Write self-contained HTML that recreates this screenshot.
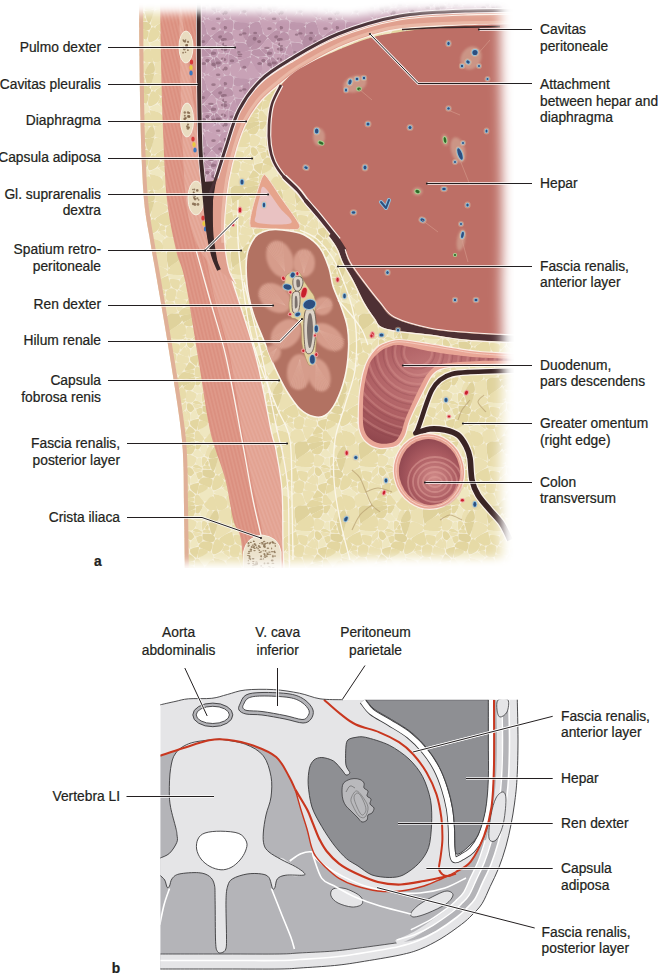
<!DOCTYPE html>
<html><head><meta charset="utf-8"><style>
html,body{margin:0;padding:0;background:#fff;}
body{width:660px;height:974px;overflow:hidden;}
svg{display:block;}
text{font-family:"Liberation Sans",sans-serif;}
</style></head><body>
<svg width="660" height="974" viewBox="0 0 660 974">
<defs><pattern id="fatp" width="64" height="64" patternUnits="userSpaceOnUse"><rect width="64" height="64" fill="#f5efd8"/><path d="M2.1,-3.0 C4.3,-4.6 2.9,-5.2 2.8,-5.9 C2.8,-6.6 4.7,-6.8 2.0,-6.4 C-0.7,-6.0 -8.4,-5.5 -10.6,-3.9 C-12.9,-2.3 -9.6,0.4 -9.1,1.6 C-8.7,2.8 -10.6,3.2 -8.3,2.3 C-6.1,1.3 -0.2,-1.4 2.1,-3.0Z" fill="#dfd29c"/><path d="M2.4,-2.4 C0.3,-2.1 -6.6,1.2 -8.1,2.9 C-9.5,4.6 -6.5,5.5 -4.9,6.0 C-3.3,6.6 -1.7,6.6 -0.2,5.8 C1.2,4.9 1.9,3.5 2.4,1.8 C2.9,0.2 4.5,-2.6 2.4,-2.4Z" fill="#e3d6a0"/><path d="M-3.1,36.1 C-3.8,34.3 -5.6,29.1 -6.0,27.2 C-6.4,25.2 -6.1,25.9 -5.3,26.4 C-4.5,26.9 -2.7,27.9 -2.0,29.7 C-1.3,31.5 -1.6,34.0 -1.7,35.4 C-1.9,36.7 -2.4,36.2 -2.7,36.4 C-2.9,36.5 -2.5,38.0 -3.1,36.1Z" fill="#ebe0b2"/><path d="M2.8,58.1 C2.8,57.4 4.7,57.2 2.0,57.6 C-0.7,58.0 -8.4,58.5 -10.6,60.1 C-12.9,61.7 -9.6,64.4 -9.1,65.6 C-8.7,66.8 -10.6,67.2 -8.3,66.3 C-6.1,65.3 -0.2,62.6 2.1,61.0 C4.3,59.4 2.9,58.8 2.8,58.1Z" fill="#dfd29c"/><path d="M2.4,65.8 C1.9,67.5 1.2,68.9 -0.2,69.8 C-1.7,70.6 -3.3,70.6 -4.9,70.0 C-6.5,69.5 -9.5,68.6 -8.1,66.9 C-6.6,65.2 0.3,61.9 2.4,61.6 C4.5,61.4 2.9,64.2 2.4,65.8Z" fill="#e3d6a0"/><path d="M-7.9,52.0 C-5.1,51.7 -1.0,53.2 1.0,54.2 C2.9,55.2 4.2,55.9 1.8,56.9 C-0.6,58.0 -7.9,59.4 -10.9,59.3 C-13.8,59.3 -12.6,57.3 -13.0,56.6 C-13.4,55.9 -13.9,56.8 -12.9,55.9 C-11.8,55.0 -10.6,52.3 -7.9,52.0Z" fill="#e3d6a0"/><path d="M-4.7,25.2 C-5.3,23.6 -5.3,20.6 -4.5,19.6 C-3.6,18.7 -1.7,19.3 -0.4,20.4 C1.0,21.4 1.9,24.0 2.4,24.9 C3.0,25.9 3.1,24.5 2.4,25.1 C1.6,25.7 0.0,28.0 -1.4,28.0 C-2.8,28.1 -4.1,26.9 -4.7,25.2Z" fill="#e3d6a0"/><path d="M2.5,46.3 C1.7,45.0 -0.8,42.7 -2.2,42.4 C-3.6,42.0 -3.4,43.1 -4.4,44.7 C-5.4,46.3 -8.3,49.5 -7.1,50.3 C-6.0,51.1 -0.6,49.6 1.4,48.8 C3.3,48.0 3.2,47.6 2.5,46.3Z" fill="#e3d6a0"/><path d="M1.3,49.7 C2.9,50.2 2.7,53.3 1.1,53.6 C-0.6,53.9 -5.6,51.7 -7.2,51.2 C-8.8,50.6 -8.6,51.2 -7.0,50.9 C-5.3,50.6 -0.4,49.1 1.3,49.7Z" fill="#e6daa6"/><path d="M55.7,2.3 C53.4,3.2 55.3,2.8 54.9,1.6 C54.4,0.4 51.1,-2.3 53.4,-3.9 C55.6,-5.5 63.3,-6.0 66.0,-6.4 C68.7,-6.8 66.8,-6.6 66.8,-5.9 C66.9,-5.2 68.3,-4.6 66.1,-3.0 C63.8,-1.4 57.9,1.3 55.7,2.3Z" fill="#dfd29c"/><path d="M22.9,-17.7 C20.8,-18.0 21.4,-19.0 22.1,-15.8 C22.8,-12.7 23.7,-4.1 26.3,-2.1 C28.9,-0.0 34.0,-3.2 35.2,-5.7 C36.5,-8.1 35.2,-11.9 32.7,-14.3 C30.2,-16.7 25.0,-17.4 22.9,-17.7Z" fill="#e8dcaa"/><path d="M55.9,2.9 C57.4,1.2 64.3,-2.1 66.4,-2.4 C68.5,-2.6 66.9,0.2 66.4,1.8 C65.9,3.5 65.2,4.9 63.8,5.8 C62.3,6.6 60.7,6.6 59.1,6.0 C57.5,5.5 54.5,4.6 55.9,2.9Z" fill="#e3d6a0"/><path d="M12.5,-6.6 C11.8,-8.1 11.7,-7.7 13.4,-9.4 C15.2,-11.2 18.9,-17.1 21.3,-15.5 C23.7,-14.0 24.6,-4.5 25.4,-1.7 C26.2,1.1 26.2,-1.5 25.3,-1.5 C24.4,-1.6 22.6,-1.9 20.9,-2.1 C19.2,-2.2 18.4,-1.4 16.7,-2.4 C15.0,-3.3 13.1,-5.2 12.5,-6.6Z" fill="#e8dcaa"/><path d="M3.9,-2.9 C3.9,-4.2 2.7,-4.9 4.1,-5.5 C5.4,-6.2 10.0,-7.4 10.6,-6.2 C11.2,-4.9 8.6,-0.7 7.2,0.7 C5.9,2.1 4.4,1.6 3.7,0.8 C3.0,0.1 3.8,-1.6 3.9,-2.9Z" fill="#e3d6a0"/><path d="M28.7,39.0 C26.7,40.9 23.8,42.3 22.1,42.3 C20.3,42.3 20.2,41.1 20.1,39.0 C20.0,36.8 20.9,33.7 21.7,31.4 C22.5,29.2 23.0,28.4 24.0,27.6 C24.9,26.9 24.9,26.6 26.4,27.6 C28.0,28.7 31.4,30.5 31.9,32.8 C32.3,35.0 30.7,37.1 28.7,39.0Z" fill="#e6daa6"/><path d="M58.0,27.2 C58.4,29.1 60.2,34.3 60.9,36.1 C61.5,38.0 61.1,36.5 61.3,36.4 C61.6,36.2 62.1,36.7 62.3,35.4 C62.4,34.0 62.7,31.5 62.0,29.7 C61.3,27.9 59.5,26.9 58.7,26.4 C57.9,25.9 57.6,25.2 58.0,27.2Z" fill="#ebe0b2"/><path d="M31.1,39.2 C32.4,39.0 35.1,38.9 36.4,38.0 C37.6,37.2 37.8,35.9 37.2,34.9 C36.5,34.0 34.4,32.6 32.9,33.5 C31.5,34.3 30.4,38.1 30.0,39.2 C29.7,40.3 29.8,39.4 31.1,39.2Z" fill="#e8dcaa"/><path d="M6.8,34.3 C7.0,35.0 6.7,34.8 8.6,35.7 C10.4,36.7 14.1,38.3 16.2,39.0 C18.2,39.6 17.9,40.6 18.7,39.1 C19.5,37.5 21.6,33.1 20.2,31.2 C18.7,29.3 14.0,29.3 11.4,29.5 C8.9,29.8 8.4,31.5 7.4,32.4 C6.5,33.4 6.6,33.7 6.8,34.3Z" fill="#e3d6a0"/><path d="M37.6,46.4 C38.5,45.6 37.1,45.5 38.7,45.5 C40.3,45.6 43.4,44.5 45.6,46.5 C47.7,48.5 48.7,53.6 49.4,55.6 C50.2,57.5 51.5,55.6 49.3,56.3 C47.2,57.0 41.2,58.5 38.6,58.9 C36.1,59.3 37.4,60.0 36.5,58.1 C35.6,56.3 34.1,51.9 34.3,49.6 C34.5,47.2 36.7,47.2 37.6,46.4Z" fill="#ebe0b2"/><path d="M9.7,21.0 C8.0,20.7 2.4,20.0 1.3,19.1 C0.2,18.2 2.4,16.7 4.0,16.7 C5.5,16.7 7.9,18.2 9.1,19.1 C10.3,19.9 9.7,20.4 9.8,20.8 C9.9,21.2 11.4,21.3 9.7,21.0Z" fill="#e6daa6"/><path d="M11.8,53.9 C11.0,52.0 7.9,48.7 6.7,47.3 C5.4,45.9 5.9,47.0 5.3,46.9 C4.8,46.9 4.2,46.5 3.7,47.1 C3.2,47.7 3.0,48.6 2.8,49.9 C2.6,51.2 2.6,52.5 2.7,53.7 C2.8,55.0 3.0,55.7 3.2,56.3 C3.5,57.0 2.5,56.8 4.0,56.9 C5.5,57.0 9.3,56.7 10.7,56.7 C12.0,56.6 10.7,57.2 10.9,56.6 C11.1,56.1 12.7,55.7 11.8,53.9Z" fill="#e8dcaa"/><path d="M40.5,11.8 C40.1,8.7 37.2,-0.0 39.0,-3.7 C40.8,-7.3 47.2,-6.5 49.7,-6.4 C52.3,-6.4 51.1,-5.1 51.8,-3.4 C52.5,-1.7 55.4,-0.9 53.2,2.1 C51.1,5.1 43.6,9.6 41.1,11.6 C38.6,13.5 41.0,14.8 40.5,11.8Z" fill="#dfd29c"/><path d="M66.0,57.6 C63.3,58.0 55.6,58.5 53.4,60.1 C51.1,61.7 54.4,64.4 54.9,65.6 C55.3,66.8 53.4,67.2 55.7,66.3 C57.9,65.3 63.8,62.6 66.1,61.0 C68.3,59.4 66.9,58.8 66.8,58.1 C66.8,57.4 68.7,57.2 66.0,57.6Z" fill="#dfd29c"/><path d="M38.1,38.4 C38.2,40.2 37.4,42.7 38.9,44.0 C40.4,45.3 44.1,45.5 45.7,44.9 C47.4,44.4 46.8,43.4 47.3,41.4 C47.8,39.4 49.1,36.7 48.3,34.9 C47.5,33.1 45.3,32.3 43.3,32.3 C41.4,32.4 39.7,33.9 38.6,35.1 C37.6,36.3 38.0,36.6 38.1,38.4Z" fill="#e8dcaa"/><path d="M11.4,-5.8 C10.8,-4.4 8.2,-1.4 8.4,1.1 C8.5,3.5 10.9,7.1 12.2,6.6 C13.6,6.0 15.4,0.9 15.2,-1.6 C15.1,-4.1 12.4,-5.0 11.6,-5.9 C10.9,-6.7 12.1,-7.2 11.4,-5.8Z" fill="#efe7c0"/><path d="M39.5,11.9 C39.3,8.7 38.6,-0.3 37.8,-3.5 C37.0,-6.8 37.8,-4.9 35.6,-4.3 C33.5,-3.7 28.6,-1.4 26.9,-0.6 C25.1,0.2 26.7,-2.3 26.8,-0.5 C26.9,1.3 27.2,6.4 27.4,8.3 C27.5,10.1 25.4,7.8 27.7,8.7 C30.0,9.6 36.5,12.0 38.9,12.7 C41.3,13.3 39.7,15.1 39.5,11.9Z" fill="#ebe0b2"/><path d="M12.4,16.0 C11.5,17.1 10.8,19.0 10.4,17.9 C10.0,16.7 9.8,11.9 10.1,10.2 C10.5,8.4 11.4,9.0 12.3,9.1 C13.3,9.2 14.5,10.2 15.0,10.7 C15.5,11.3 15.5,11.0 15.0,12.0 C14.5,13.1 13.3,14.8 12.4,16.0Z" fill="#e8dcaa"/><path d="M-0.8,35.5 C0.4,36.4 3.9,34.4 5.2,33.7 C6.5,33.0 6.1,33.4 5.7,32.0 C5.3,30.5 4.4,26.8 3.1,26.3 C1.9,25.8 0.1,27.5 -0.7,29.4 C-1.5,31.2 -2.0,34.6 -0.8,35.5Z" fill="#efe7c0"/><path d="M32.7,49.7 C35.2,52.1 36.5,55.9 35.2,58.3 C34.0,60.8 28.9,64.0 26.3,61.9 C23.7,59.9 22.8,51.3 22.1,48.2 C21.4,45.0 20.8,46.0 22.9,46.3 C25.0,46.6 30.2,47.3 32.7,49.7Z" fill="#e8dcaa"/><path d="M31.3,40.2 C31.3,41.3 35.5,44.0 36.8,44.8 C38.1,45.6 37.7,45.2 37.7,44.1 C37.7,43.0 38.2,40.0 36.9,39.2 C35.6,38.4 31.3,39.0 31.3,40.2Z" fill="#ebe0b2"/><path d="M30.2,40.7 C31.6,41.6 35.7,43.8 36.2,45.4 C36.8,47.0 35.5,48.6 32.9,48.6 C30.3,48.6 25.2,46.4 23.2,45.4 C21.1,44.3 21.5,44.2 22.7,43.2 C23.9,42.3 27.7,41.1 29.2,40.6 C30.7,40.1 28.7,39.7 30.2,40.7Z" fill="#efe7c0"/><path d="M27.1,26.0 C29.9,24.6 36.2,20.7 38.5,19.1 C40.8,17.6 38.6,19.4 38.7,18.3 C38.7,17.3 41.0,15.5 38.7,13.9 C36.5,12.3 30.5,8.4 27.4,10.2 C24.3,12.0 23.7,19.9 23.1,23.1 C22.5,26.2 23.7,25.5 24.5,26.1 C25.3,26.7 24.3,27.4 27.1,26.0Z" fill="#ebe0b2"/><path d="M66.4,61.6 C68.5,61.4 66.9,64.2 66.4,65.8 C65.9,67.5 65.2,68.9 63.8,69.8 C62.3,70.6 60.7,70.6 59.1,70.0 C57.5,69.5 54.5,68.6 55.9,66.9 C57.4,65.2 64.3,61.9 66.4,61.6Z" fill="#e3d6a0"/><path d="M55.2,50.5 C54.3,51.5 52.2,56.0 50.5,55.1 C48.8,54.2 47.3,48.6 47.0,46.1 C46.6,43.6 46.3,42.9 48.6,42.6 C50.8,42.3 56.7,43.1 58.1,44.7 C59.5,46.2 56.0,49.1 55.4,50.3 C54.8,51.5 56.2,49.6 55.2,50.5Z" fill="#ebe0b2"/><path d="M17.9,16.4 C18.4,18.0 18.3,19.2 19.1,20.5 C20.0,21.7 20.6,24.7 22.1,22.5 C23.5,20.4 25.5,12.5 26.3,9.9 C27.1,7.2 27.8,9.2 26.0,9.4 C24.1,9.6 18.9,10.5 17.0,10.7 C15.0,11.0 16.4,10.5 16.4,10.8 C16.3,11.1 16.3,11.2 16.7,12.3 C17.0,13.4 17.4,14.7 17.9,16.4Z" fill="#dfd29c"/><path d="M16.1,-0.8 C17.6,-2.3 20.7,-2.6 20.7,-0.6 C20.7,1.4 17.2,7.2 16.2,9.2 C15.2,11.2 16.3,9.6 15.7,9.3 C15.0,9.0 13.5,8.1 13.0,7.7 C12.4,7.2 12.5,8.7 13.1,7.0 C13.7,5.3 14.6,0.7 16.1,-0.8Z" fill="#ebe0b2"/><path d="M50.9,24.3 C52.8,25.7 51.7,28.3 51.6,30.1 C51.5,31.8 50.9,32.3 50.3,33.0 C49.8,33.7 50.1,33.9 48.9,33.5 C47.6,33.1 45.6,33.1 44.2,31.1 C42.9,29.0 40.7,24.6 42.0,23.3 C43.4,21.9 49.0,23.0 50.9,24.3Z" fill="#e8dcaa"/><path d="M54.7,20.5 C55.7,19.5 56.6,18.8 57.3,18.6 C58.0,18.4 58.3,18.4 58.4,19.7 C58.5,20.9 58.0,23.8 57.8,24.9 C57.5,26.1 58.1,24.7 57.2,25.6 C56.2,26.5 53.9,29.9 52.9,29.4 C51.9,29.0 51.9,25.2 52.2,23.4 C52.6,21.7 53.7,21.4 54.7,20.5Z" fill="#ebe0b2"/><path d="M65.0,54.2 C66.9,55.2 68.2,55.9 65.8,56.9 C63.4,58.0 56.1,59.4 53.1,59.3 C50.2,59.3 51.4,57.3 51.0,56.6 C50.6,55.9 50.1,56.8 51.1,55.9 C52.2,55.0 53.4,52.3 56.1,52.0 C58.9,51.7 63.0,53.2 65.0,54.2Z" fill="#e3d6a0"/><path d="M0.0,18.2 C-0.6,18.8 0.4,18.6 -0.5,18.6 C-1.4,18.6 -3.5,18.5 -4.5,18.2 C-5.5,18.0 -5.4,17.8 -5.7,17.2 C-6.0,16.7 -6.2,17.4 -6.1,15.4 C-6.0,13.5 -6.4,9.1 -5.2,7.5 C-4.0,5.9 -2.0,6.8 -0.0,7.4 C1.9,8.0 4.0,8.8 4.5,10.5 C5.0,12.1 3.4,14.3 2.5,15.9 C1.6,17.4 0.6,17.7 0.0,18.2Z" fill="#ebe0b2"/><path d="M57.3,27.2 C58.7,28.3 61.4,35.2 60.3,36.4 C59.1,37.6 53.0,34.5 51.6,33.4 C50.2,32.3 52.2,31.9 53.3,30.7 C54.4,29.4 55.9,26.1 57.3,27.2Z" fill="#ebe0b2"/><path d="M66.4,24.9 C65.9,24.0 65.0,21.4 63.6,20.4 C62.3,19.3 60.4,18.7 59.5,19.6 C58.7,20.6 58.7,23.6 59.3,25.2 C59.9,26.9 61.2,28.1 62.6,28.0 C64.0,28.0 65.6,25.7 66.4,25.1 C67.1,24.5 67.0,25.9 66.4,24.9Z" fill="#e3d6a0"/><path d="M-1.7,37.7 C-1.9,38.5 -2.4,39.6 -1.4,41.1 C-0.5,42.7 2.0,44.5 3.2,45.3 C4.5,46.2 4.1,47.0 4.8,45.2 C5.6,43.5 6.8,38.5 6.9,36.5 C7.1,34.5 6.9,35.0 5.4,35.1 C3.9,35.1 0.7,36.3 -0.7,36.8 C-2.1,37.3 -1.6,36.8 -1.7,37.7Z" fill="#e3d6a0"/><path d="M53.6,19.2 C56.8,19.1 56.2,18.3 56.7,17.6 C57.2,16.9 59.2,16.6 56.1,15.6 C53.1,14.7 44.5,13.3 41.5,12.8 C38.5,12.2 41.2,12.8 40.9,13.0 C40.7,13.1 40.4,12.6 40.3,13.6 C40.2,14.6 37.8,16.8 40.4,17.9 C43.1,19.0 50.3,19.3 53.6,19.2Z" fill="#e8dcaa"/><path d="M9.5,21.5 C11.1,22.1 9.9,22.2 8.8,22.8 C7.6,23.4 5.2,25.0 3.6,24.4 C2.0,23.8 1.1,20.8 0.6,19.8 C0.1,18.9 -0.6,19.2 1.2,19.5 C2.9,19.9 8.0,20.8 9.5,21.5Z" fill="#ebe0b2"/><path d="M65.4,48.8 C67.3,48.0 67.2,47.6 66.5,46.3 C65.7,45.0 63.2,42.7 61.8,42.4 C60.4,42.0 60.6,43.1 59.6,44.7 C58.6,46.3 55.7,49.5 56.9,50.3 C58.0,51.1 63.4,49.6 65.4,48.8Z" fill="#e3d6a0"/><path d="M9.6,18.1 C10.6,18.6 9.7,19.5 9.6,17.9 C9.5,16.4 10.0,11.9 9.2,10.4 C8.4,9.0 6.6,9.7 5.6,10.8 C4.6,11.8 3.4,14.4 4.2,15.8 C4.9,17.3 8.5,17.7 9.6,18.1Z" fill="#efe7c0"/><path d="M3.8,2.3 C5.1,1.5 6.0,1.5 7.5,2.5 C9.1,3.5 10.6,6.2 11.4,7.3 C12.2,8.4 11.9,7.6 11.4,7.9 C10.9,8.2 10.1,8.6 9.0,8.8 C7.8,9.1 7.3,9.6 5.7,9.2 C4.1,8.7 1.5,7.9 1.1,6.6 C0.7,5.2 2.5,3.1 3.8,2.3Z" fill="#efe7c0"/><path d="M56.6,14.8 C59.8,13.8 57.9,9.1 57.6,6.9 C57.2,4.6 55.4,4.5 54.7,3.7 C54.0,3.0 56.6,1.3 54.0,3.0 C51.3,4.7 41.0,9.7 41.5,12.1 C42.1,14.4 53.4,15.9 56.6,14.8Z" fill="#e8dcaa"/><path d="M37.8,33.6 C39.7,33.4 42.0,33.1 42.6,31.0 C43.2,28.9 41.5,25.5 40.8,23.3 C40.1,21.1 41.8,19.2 39.2,19.9 C36.5,20.6 28.7,24.5 27.5,26.9 C26.4,29.3 31.3,30.6 33.4,31.9 C35.4,33.3 36.0,33.8 37.8,33.6Z" fill="#e6daa6"/><path d="M20.9,43.5 C20.5,42.5 19.9,41.0 19.1,40.4 C18.3,39.9 19.1,39.4 16.8,40.6 C14.5,41.7 8.4,43.8 7.6,46.3 C6.9,48.9 10.5,53.1 13.1,53.3 C15.7,53.4 19.0,48.7 20.7,47.1 C22.3,45.6 21.4,46.2 21.4,45.5 C21.5,44.8 21.4,44.5 20.9,43.5Z" fill="#efe7c0"/><path d="M15.9,39.9 C16.0,38.2 9.9,35.8 7.9,36.9 C5.9,38.0 6.0,43.7 5.8,45.4 C5.7,47.2 5.2,46.7 7.2,45.6 C9.2,44.5 15.7,41.7 15.9,39.9Z" fill="#e6daa6"/><path d="M6.6,31.2 C7.9,31.7 9.9,29.8 10.4,28.3 C10.9,26.9 10.3,24.3 9.1,23.8 C7.8,23.2 5.1,25.2 4.1,25.6 C3.1,26.0 3.6,24.6 4.1,25.7 C4.6,26.9 5.4,30.7 6.6,31.2Z" fill="#e6daa6"/><path d="M11.3,20.6 C12.8,21.0 17.1,21.6 18.2,21.0 C19.2,20.4 17.6,18.1 16.5,17.4 C15.4,16.7 13.8,17.4 12.7,17.7 C11.5,18.0 11.3,18.5 10.9,18.8 C10.6,19.0 10.8,18.6 10.9,19.0 C11.0,19.3 9.9,20.2 11.3,20.6Z" fill="#e6daa6"/><path d="M65.1,53.6 C63.4,53.9 58.4,51.7 56.8,51.2 C55.2,50.6 55.4,51.2 57.0,50.9 C58.7,50.6 63.6,49.1 65.3,49.7 C66.9,50.2 66.7,53.3 65.1,53.6Z" fill="#e6daa6"/><path d="M25.4,62.3 C24.6,59.5 23.7,50.0 21.3,48.5 C18.9,46.9 15.2,52.8 13.4,54.6 C11.7,56.3 11.8,55.9 12.5,57.4 C13.1,58.8 15.0,60.7 16.7,61.6 C18.4,62.6 19.2,61.8 20.9,61.9 C22.6,62.1 24.4,62.4 25.3,62.5 C26.2,62.5 26.2,65.1 25.4,62.3Z" fill="#e8dcaa"/><path d="M11.2,21.9 C11.0,22.2 10.4,22.0 10.5,23.3 C10.6,24.5 9.9,26.7 11.9,28.1 C13.9,29.5 18.2,30.5 20.4,30.1 C22.7,29.8 22.8,27.8 23.0,26.5 C23.1,25.2 22.3,24.5 21.4,23.6 C20.5,22.7 20.4,22.4 18.4,22.0 C16.4,21.6 12.8,21.7 11.4,21.7 C10.0,21.7 11.4,21.6 11.2,21.9Z" fill="#dfd29c"/><path d="M51.5,34.4 C53.5,34.8 58.2,36.7 60.0,37.3 C61.9,37.9 60.4,36.7 60.6,37.5 C60.8,38.2 61.4,39.9 60.9,41.1 C60.5,42.3 60.8,43.3 58.4,43.4 C56.0,43.5 50.6,43.2 48.9,41.5 C47.2,39.8 49.3,36.3 49.8,34.9 C50.3,33.4 49.4,33.9 51.5,34.4Z" fill="#ebe0b2"/><path d="M10.6,57.8 C10.0,56.6 5.4,57.8 4.1,58.5 C2.7,59.1 3.9,59.8 3.9,61.1 C3.8,62.4 3.0,64.1 3.7,64.8 C4.4,65.6 5.9,66.1 7.2,64.7 C8.6,63.3 11.2,59.1 10.6,57.8Z" fill="#e3d6a0"/><path d="M13.1,16.4 C12.9,15.7 15.0,12.7 15.7,12.7 C16.4,12.7 17.1,15.7 16.6,16.4 C16.1,17.2 13.3,17.2 13.1,16.4Z" fill="#e3d6a0"/><path d="M53.5,19.7 C51.4,18.8 43.0,18.6 40.4,18.5 C37.8,18.4 39.9,18.6 40.3,19.3 C40.6,20.0 40.1,21.4 42.2,22.2 C44.2,23.0 48.3,23.6 50.5,23.1 C52.8,22.6 55.5,20.6 53.5,19.7Z" fill="#efe7c0"/><path d="M25.6,-0.3 C24.7,-2.0 23.2,-2.3 21.5,-0.4 C19.8,1.6 16.1,7.8 17.0,9.5 C17.9,11.2 24.4,10.1 26.1,8.2 C27.8,6.2 26.5,1.4 25.6,-0.3Z" fill="#dfd29c"/><path d="M53.2,66.1 C51.1,69.1 43.6,73.6 41.1,75.6 C38.6,77.5 41.0,78.8 40.5,75.8 C40.1,72.7 37.2,64.0 39.0,60.3 C40.8,56.7 47.2,57.5 49.7,57.6 C52.3,57.6 51.1,58.9 51.8,60.6 C52.5,62.3 55.4,63.1 53.2,66.1Z" fill="#dfd29c"/><path d="M11.6,58.1 C10.9,57.3 12.1,56.8 11.4,58.2 C10.8,59.6 8.2,62.6 8.4,65.1 C8.5,67.5 10.9,71.1 12.2,70.6 C13.6,70.0 15.4,64.9 15.2,62.4 C15.1,59.9 12.4,59.0 11.6,58.1Z" fill="#efe7c0"/><path d="M26.9,63.4 C28.6,62.6 33.5,60.3 35.6,59.7 C37.8,59.1 37.0,57.2 37.8,60.5 C38.6,63.7 39.3,72.7 39.5,75.9 C39.7,79.1 41.3,77.3 38.9,76.7 C36.5,76.0 30.0,73.6 27.7,72.7 C25.4,71.8 27.5,74.1 27.4,72.3 C27.2,70.4 26.9,65.3 26.8,63.5 C26.7,61.7 25.1,64.2 26.9,63.4Z" fill="#ebe0b2"/><path d="M20.7,63.4 C20.7,65.4 17.2,71.2 16.2,73.2 C15.2,75.2 16.3,73.6 15.7,73.3 C15.0,73.0 13.5,72.1 13.0,71.7 C12.4,71.2 12.5,72.7 13.1,71.0 C13.7,69.3 14.6,64.7 16.1,63.2 C17.6,61.7 20.7,61.4 20.7,63.4Z" fill="#ebe0b2"/><path d="M7.5,66.5 C6.0,65.5 5.1,65.5 3.8,66.3 C2.5,67.1 0.7,69.2 1.1,70.6 C1.5,71.9 4.1,72.7 5.7,73.2 C7.3,73.6 7.8,73.1 9.0,72.8 C10.1,72.6 10.9,72.2 11.4,71.9 C11.9,71.6 12.2,72.4 11.4,71.3 C10.6,70.2 9.1,67.5 7.5,66.5Z" fill="#efe7c0"/><path d="M25.6,63.7 C26.5,65.4 27.8,70.2 26.1,72.2 C24.4,74.1 17.9,75.2 17.0,73.5 C16.1,71.8 19.8,65.6 21.5,63.6 C23.2,61.7 24.7,62.0 25.6,63.7Z" fill="#dfd29c"/><path d="M73.1,19.1 C71.9,18.2 69.5,16.7 68.0,16.7 C66.4,16.7 64.2,18.2 65.3,19.1 C66.4,20.0 72.0,20.7 73.7,21.0 C75.4,21.3 73.9,21.2 73.8,20.8 C73.7,20.4 74.3,19.9 73.1,19.1Z" fill="#e6daa6"/><path d="M66.7,53.7 C66.8,55.0 67.0,55.7 67.2,56.3 C67.5,57.0 66.5,56.8 68.0,56.9 C69.5,57.0 73.3,56.7 74.7,56.7 C76.0,56.6 74.7,57.2 74.9,56.6 C75.1,56.1 76.7,55.7 75.8,53.9 C75.0,52.0 71.9,48.7 70.7,47.3 C69.4,45.9 69.9,47.0 69.3,46.9 C68.8,46.9 68.2,46.5 67.7,47.1 C67.2,47.7 67.0,48.6 66.8,49.9 C66.6,51.2 66.6,52.5 66.7,53.7Z" fill="#e8dcaa"/><path d="M69.7,32.0 C70.1,33.4 70.5,33.0 69.2,33.7 C67.9,34.4 64.4,36.4 63.2,35.5 C62.0,34.6 62.5,31.2 63.3,29.4 C64.1,27.5 65.9,25.8 67.1,26.3 C68.4,26.8 69.3,30.5 69.7,32.0Z" fill="#efe7c0"/><path d="M58.3,17.2 C58.0,16.7 57.8,17.4 57.9,15.4 C58.0,13.5 57.6,9.1 58.8,7.5 C60.0,5.9 62.0,6.8 64.0,7.4 C65.9,8.0 68.0,8.8 68.5,10.5 C69.0,12.1 67.4,14.3 66.5,15.9 C65.6,17.4 64.6,17.7 64.0,18.2 C63.4,18.8 64.4,18.6 63.5,18.6 C62.6,18.6 60.5,18.5 59.5,18.2 C58.5,18.0 58.6,17.8 58.3,17.2Z" fill="#ebe0b2"/><path d="M68.8,45.2 C68.1,47.0 68.5,46.2 67.2,45.3 C66.0,44.5 63.5,42.7 62.6,41.1 C61.6,39.6 62.1,38.5 62.3,37.7 C62.4,36.8 61.9,37.3 63.3,36.8 C64.7,36.3 67.9,35.1 69.4,35.1 C70.9,35.0 71.1,34.5 70.9,36.5 C70.8,38.5 69.6,43.5 68.8,45.2Z" fill="#e3d6a0"/><path d="M72.8,22.8 C71.6,23.4 69.2,25.0 67.6,24.4 C66.0,23.8 65.1,20.8 64.6,19.8 C64.1,18.9 63.4,19.2 65.2,19.5 C66.9,19.9 72.0,20.8 73.5,21.5 C75.1,22.1 73.9,22.2 72.8,22.8Z" fill="#ebe0b2"/><path d="M75.4,7.3 C76.2,8.4 75.9,7.6 75.4,7.9 C74.9,8.2 74.1,8.6 73.0,8.8 C71.8,9.1 71.3,9.6 69.7,9.2 C68.1,8.7 65.5,7.9 65.1,6.6 C64.7,5.2 66.5,3.1 67.8,2.3 C69.1,1.5 70.0,1.5 71.5,2.5 C73.1,3.5 74.6,6.2 75.4,7.3Z" fill="#efe7c0"/><path d="M73.0,72.8 C71.8,73.1 71.3,73.6 69.7,73.2 C68.1,72.7 65.5,71.9 65.1,70.6 C64.7,69.2 66.5,67.1 67.8,66.3 C69.1,65.5 70.0,65.5 71.5,66.5 C73.1,67.5 74.6,70.2 75.4,71.3 C76.2,72.4 75.9,71.6 75.4,71.9 C74.9,72.2 74.1,72.6 73.0,72.8Z" fill="#efe7c0"/></pattern><pattern id="lungp" width="56" height="56" patternUnits="userSpaceOnUse"><rect width="56" height="56" fill="#dcc6d2"/><path d="M-6.9,42.6 C-5.4,43.2 -5.5,43.0 -4.1,40.9 C-2.6,38.9 0.4,34.6 0.3,32.5 C0.3,30.4 -1.8,29.7 -4.3,30.4 C-6.8,31.2 -10.7,34.8 -12.1,36.3 C-13.6,37.8 -12.7,36.7 -11.6,37.9 C-10.6,39.2 -8.4,42.0 -6.9,42.6Z" fill="#bb93a9"/><ellipse cx="-2.7" cy="37.0" rx="2.2" ry="1.7" fill="#7a5568" opacity="0.55"/><path d="M-4.7,10.8 C-3.6,10.1 -1.8,8.4 -1.5,7.2 C-1.2,6.1 -2.0,6.2 -3.1,5.1 C-4.2,4.0 -5.7,2.0 -6.9,1.5 C-8.1,1.0 -9.0,1.0 -9.1,2.8 C-9.1,4.7 -7.9,9.1 -7.1,10.7 C-6.2,12.3 -5.8,11.5 -4.7,10.8Z" fill="#b58ea4"/><ellipse cx="-5.3" cy="8.2" rx="1.5" ry="1.7" fill="#7a5568" opacity="0.55"/><path d="M-6.6,44.2 C-5.5,44.0 -2.4,45.0 -1.2,46.7 C-0.1,48.3 0.0,51.4 -0.7,52.5 C-1.5,53.6 -4.0,53.0 -5.2,52.1 C-6.4,51.2 -6.4,49.4 -6.7,47.8 C-6.9,46.3 -7.7,44.5 -6.6,44.2Z" fill="#c8a2b6"/><ellipse cx="-1.5" cy="50.2" rx="1.7" ry="2.0" fill="#7a5568" opacity="0.55"/><path d="M-0.1,18.8 C-0.2,16.8 -3.5,13.6 -4.9,12.3 C-6.4,11.0 -6.5,12.1 -7.3,12.3 C-8.1,12.5 -7.3,12.1 -8.9,13.3 C-10.5,14.6 -15.9,16.6 -15.1,18.4 C-14.2,20.2 -7.7,22.4 -4.7,22.5 C-1.8,22.6 -0.1,20.9 -0.1,18.8Z" fill="#c8a2b6"/><ellipse cx="-5.3" cy="17.4" rx="1.8" ry="2.0" fill="#7a5568" opacity="0.55"/><path d="M-2.4,3.9 C-4.1,4.4 -5.9,1.8 -6.4,0.5 C-6.9,-0.8 -6.0,-2.0 -4.9,-2.6 C-3.7,-3.2 -2.1,-2.4 -0.8,-2.3 C0.6,-2.2 2.2,-3.4 1.8,-2.1 C1.5,-0.9 -0.7,3.4 -2.4,3.9Z" fill="#c8a2b6"/><ellipse cx="-2.1" cy="3.1" rx="2.1" ry="1.2" fill="#7a5568" opacity="0.55"/><path d="M-1.5,63.2 C-1.2,62.1 -2.0,62.2 -3.1,61.1 C-4.2,60.0 -5.7,58.0 -6.9,57.5 C-8.1,57.0 -9.0,57.0 -9.1,58.8 C-9.1,60.7 -7.9,65.1 -7.1,66.7 C-6.2,68.3 -5.8,67.5 -4.7,66.8 C-3.6,66.1 -1.8,64.4 -1.5,63.2Z" fill="#b58ea4"/><ellipse cx="-6.4" cy="63.2" rx="1.7" ry="1.9" fill="#7a5568" opacity="0.55"/><path d="M-0.8,53.7 C-2.1,53.6 -3.7,52.8 -4.9,53.4 C-6.0,54.0 -6.9,55.2 -6.4,56.5 C-5.9,57.8 -4.1,60.4 -2.4,59.9 C-0.7,59.4 1.5,55.1 1.8,53.9 C2.2,52.6 0.6,53.8 -0.8,53.7Z" fill="#c8a2b6"/><ellipse cx="-2.1" cy="58.3" rx="2.9" ry="1.7" fill="#7a5568" opacity="0.55"/><path d="M45.1,1.5 C45.8,1.8 45.7,1.7 46.3,1.5 C46.9,1.2 47.5,1.1 48.2,0.2 C48.9,-0.6 49.8,-1.3 49.8,-2.9 C49.8,-4.5 49.4,-7.2 48.3,-7.7 C47.2,-8.2 45.3,-6.8 44.2,-5.5 C43.1,-4.2 43.0,-2.2 42.8,-1.1 C42.5,-0.1 42.5,-0.7 42.9,-0.2 C43.4,0.3 44.4,1.2 45.1,1.5Z" fill="#be97ad"/><ellipse cx="44.1" cy="-2.3" rx="2.9" ry="1.1" fill="#7a5568" opacity="0.55"/><path d="M41.7,-1.7 C40.5,-1.9 36.8,-6.0 37.1,-6.8 C37.4,-7.6 42.2,-6.9 43.1,-5.9 C44.1,-4.9 42.9,-1.6 41.7,-1.7Z" fill="#bb93a9"/><path d="M26.6,-1.5 C26.9,-2.6 26.8,-4.2 26.8,-4.9 C26.8,-5.7 29.0,-5.8 26.5,-5.4 C24.1,-4.9 17.3,-4.1 14.7,-2.8 C12.1,-1.5 13.4,-0.1 13.5,1.3 C13.7,2.7 13.2,4.3 15.6,4.1 C18.0,4.0 23.3,1.6 25.5,0.4 C27.7,-0.7 26.4,-0.5 26.6,-1.5Z" fill="#c29ab0"/><ellipse cx="15.6" cy="-0.3" rx="2.8" ry="1.2" fill="#7a5568" opacity="0.55"/><path d="M5.7,-2.5 C7.1,-1.8 10.9,1.0 12.4,0.9 C13.8,0.8 13.5,-0.6 13.1,-3.2 C12.8,-5.8 11.6,-11.3 10.5,-12.1 C9.3,-13.0 8.2,-9.5 7.2,-7.6 C6.2,-5.8 5.9,-3.9 5.6,-2.8 C5.2,-1.8 4.4,-3.3 5.7,-2.5Z" fill="#c29ab0"/><ellipse cx="11.5" cy="-2.2" rx="2.3" ry="1.1" fill="#7a5568" opacity="0.55"/><path d="M41.5,-0.2 C42.9,-0.5 42.3,0.0 41.2,-1.2 C40.1,-2.5 37.3,-5.3 36.1,-6.4 C34.9,-7.6 36.8,-7.2 35.3,-6.9 C33.7,-6.7 29.7,-6.2 28.2,-5.1 C26.8,-4.1 27.0,-2.9 28.2,-1.7 C29.4,-0.6 31.6,0.3 34.2,0.7 C36.9,1.0 40.1,0.2 41.5,-0.2Z" fill="#bb93a9"/><path d="M28.0,50.0 C29.5,49.6 32.3,49.8 35.2,47.5 C38.2,45.2 41.4,40.6 42.9,38.4 C44.3,36.3 43.2,37.6 42.4,36.8 C41.7,35.9 40.5,34.4 39.2,34.3 C37.8,34.2 38.3,33.4 35.8,36.1 C33.3,38.8 28.4,45.0 26.8,47.7 C25.2,50.4 27.5,49.1 27.7,49.6 C28.0,50.0 26.5,50.5 28.0,50.0Z" fill="#bb93a9"/><ellipse cx="35.1" cy="41.6" rx="2.0" ry="1.6" fill="#7a5568" opacity="0.55"/><path d="M42.8,54.9 C43.0,53.8 43.1,51.8 44.2,50.5 C45.3,49.2 47.2,47.8 48.3,48.3 C49.4,48.8 49.8,51.5 49.8,53.1 C49.8,54.7 48.9,55.4 48.2,56.2 C47.5,57.1 46.9,57.2 46.3,57.5 C45.7,57.7 45.8,57.8 45.1,57.5 C44.4,57.2 43.4,56.3 42.9,55.8 C42.5,55.3 42.5,55.9 42.8,54.9Z" fill="#be97ad"/><ellipse cx="45.2" cy="53.3" rx="3.0" ry="1.7" fill="#7a5568" opacity="0.55"/><path d="M37.1,49.2 C37.4,48.4 42.2,49.1 43.1,50.1 C44.1,51.1 42.9,54.4 41.7,54.3 C40.5,54.1 36.8,50.0 37.1,49.2Z" fill="#bb93a9"/><path d="M0.9,19.9 C2.9,19.1 4.3,19.1 6.0,19.5 C7.6,19.9 8.7,20.0 9.3,21.9 C9.8,23.8 9.2,27.0 8.8,29.0 C8.4,31.1 8.9,31.7 7.3,32.2 C5.8,32.6 3.4,31.9 1.3,31.3 C-0.9,30.7 -2.3,30.9 -3.3,29.3 C-4.3,27.8 -4.6,25.4 -3.7,23.5 C-2.9,21.7 -1.0,20.7 0.9,19.9Z" fill="#c29ab0"/><ellipse cx="1.0" cy="27.8" rx="2.2" ry="1.8" fill="#7a5568" opacity="0.55"/><path d="M43.9,36.3 C45.3,34.8 49.2,31.2 51.7,30.4 C54.2,29.7 56.3,30.4 56.3,32.5 C56.4,34.6 53.4,38.9 51.9,40.9 C50.5,43.0 50.6,43.2 49.1,42.6 C47.6,42.0 45.4,39.2 44.4,37.9 C43.3,36.7 42.4,37.8 43.9,36.3Z" fill="#bb93a9"/><ellipse cx="52.4" cy="36.9" rx="2.3" ry="1.7" fill="#7a5568" opacity="0.55"/><path d="M48.9,10.7 C49.8,12.3 50.2,11.5 51.3,10.8 C52.4,10.1 54.2,8.4 54.5,7.2 C54.8,6.1 54.0,6.2 52.9,5.1 C51.8,4.0 50.3,2.0 49.1,1.5 C47.9,1.0 47.0,1.0 46.9,2.8 C46.9,4.7 48.1,9.1 48.9,10.7Z" fill="#b58ea4"/><ellipse cx="50.0" cy="7.0" rx="2.9" ry="1.4" fill="#7a5568" opacity="0.55"/><path d="M27.3,7.1 C24.7,6.4 22.5,10.9 22.4,14.0 C22.3,17.1 25.8,20.8 26.7,22.5 C27.7,24.3 25.4,23.0 27.0,22.7 C28.6,22.4 32.9,21.7 34.7,20.9 C36.5,20.2 35.9,19.6 36.1,19.0 C36.3,18.4 37.5,20.4 35.7,18.0 C34.0,15.6 30.0,7.9 27.3,7.1Z" fill="#c8a2b6"/><path d="M35.5,34.7 C32.9,34.9 28.0,35.9 26.1,34.3 C24.2,32.7 25.9,28.8 26.1,26.8 C26.3,24.7 25.3,24.9 27.1,24.0 C28.9,23.1 32.7,20.2 35.0,22.1 C37.4,23.9 38.7,30.7 38.8,33.2 C38.9,35.7 38.0,34.4 35.5,34.7Z" fill="#be97ad"/><ellipse cx="31.2" cy="33.0" rx="2.0" ry="1.3" fill="#7a5568" opacity="0.55"/><path d="M0.8,18.4 C2.7,19.6 4.9,19.8 5.8,18.1 C6.8,16.4 6.0,11.9 5.5,9.9 C5.1,7.9 4.7,8.4 3.5,8.1 C2.3,7.7 1.1,7.4 -0.3,8.1 C-1.8,8.8 -4.0,9.6 -3.8,11.7 C-3.6,13.7 -1.1,17.1 0.8,18.4Z" fill="#c8a2b6"/><ellipse cx="1.7" cy="12.5" rx="2.0" ry="1.9" fill="#7a5568" opacity="0.55"/><path d="M14.4,52.4 C11.3,51.1 11.9,45.4 11.3,43.4 C10.8,41.4 9.8,42.6 11.7,42.6 C13.6,42.6 18.1,42.4 20.8,43.5 C23.5,44.6 24.2,46.7 25.3,48.0 C26.5,49.2 28.6,49.0 26.4,49.8 C24.2,50.7 17.4,53.7 14.4,52.4Z" fill="#be97ad"/><ellipse cx="14.8" cy="52.7" rx="2.1" ry="1.6" fill="#7a5568" opacity="0.55"/><path d="M41.8,6.4 C43.1,7.3 46.2,10.5 45.8,12.8 C45.5,15.1 41.9,16.7 40.2,17.8 C38.5,19.0 37.9,18.6 37.3,18.5 C36.6,18.4 36.7,19.4 37.0,17.4 C37.4,15.3 38.1,10.4 39.0,8.2 C40.0,6.0 40.4,5.5 41.8,6.4Z" fill="#c8a2b6"/><path d="M45.0,3.1 C45.7,2.5 45.6,1.5 46.2,3.0 C46.9,4.6 48.2,9.0 48.2,10.8 C48.3,12.6 47.6,12.9 46.5,11.9 C45.4,10.9 43.0,7.6 42.7,5.9 C42.4,4.1 44.3,3.6 45.0,3.1Z" fill="#b58ea4"/><ellipse cx="45.5" cy="8.4" rx="2.3" ry="1.9" fill="#7a5568" opacity="0.55"/><path d="M38.1,7.2 C38.6,10.2 38.3,17.4 36.2,17.2 C34.2,17.0 29.8,9.4 27.9,6.2 C26.0,3.0 26.9,2.7 26.9,1.3 C26.9,-0.2 26.5,-1.1 27.9,-0.9 C29.2,-0.7 31.6,0.5 33.6,2.1 C35.7,3.8 37.6,4.2 38.1,7.2Z" fill="#c29ab0"/><ellipse cx="35.6" cy="7.5" rx="2.4" ry="1.6" fill="#7a5568" opacity="0.55"/><path d="M-0.1,46.9 C-1.3,47.8 -0.1,51.4 0.4,52.6 C1.0,53.8 1.8,52.8 2.6,52.8 C3.4,52.9 3.6,53.8 4.3,52.9 C5.0,52.0 7.1,49.4 6.2,48.2 C5.3,47.0 1.0,46.0 -0.1,46.9Z" fill="#be97ad"/><ellipse cx="0.6" cy="49.2" rx="2.6" ry="2.0" fill="#7a5568" opacity="0.55"/><path d="M6.9,18.3 C7.5,20.4 9.3,20.2 10.0,20.6 C10.8,21.0 9.4,21.9 10.6,20.4 C11.8,18.9 15.2,15.9 15.9,13.1 C16.6,10.4 16.0,7.3 14.1,6.7 C12.3,6.1 8.2,7.7 6.7,10.1 C5.3,12.4 6.2,16.1 6.9,18.3Z" fill="#c8a2b6"/><path d="M50.8,52.1 C49.6,51.2 49.6,49.4 49.3,47.8 C49.1,46.3 48.3,44.5 49.4,44.2 C50.5,44.0 53.6,45.0 54.8,46.7 C55.9,48.3 56.0,51.4 55.3,52.5 C54.5,53.6 52.0,53.0 50.8,52.1Z" fill="#c8a2b6"/><ellipse cx="55.8" cy="49.1" rx="3.0" ry="1.5" fill="#7a5568" opacity="0.55"/><path d="M15.6,60.1 C18.0,60.0 23.3,57.6 25.5,56.4 C27.7,55.3 26.4,55.5 26.6,54.5 C26.9,53.4 26.8,51.8 26.8,51.1 C26.8,50.3 29.0,50.2 26.5,50.6 C24.1,51.1 17.3,51.9 14.7,53.2 C12.1,54.5 13.4,55.9 13.5,57.3 C13.7,58.7 13.2,60.3 15.6,60.1Z" fill="#c29ab0"/><ellipse cx="16.0" cy="54.5" rx="2.5" ry="1.1" fill="#7a5568" opacity="0.55"/><path d="M35.2,35.7 C35.1,33.3 28.2,34.5 25.6,35.6 C23.1,36.7 23.3,39.8 22.6,41.2 C21.9,42.6 21.3,41.3 22.0,42.5 C22.7,43.8 23.5,48.7 26.1,47.3 C28.8,46.0 35.3,38.0 35.2,35.7Z" fill="#b58ea4"/><ellipse cx="30.6" cy="38.7" rx="2.0" ry="2.0" fill="#7a5568" opacity="0.55"/><path d="M7.2,48.4 C8.2,46.5 9.3,43.0 10.5,43.9 C11.6,44.7 12.8,50.2 13.1,52.8 C13.5,55.4 13.8,56.8 12.4,56.9 C10.9,57.0 7.1,54.2 5.7,53.5 C4.4,52.7 5.2,54.2 5.6,53.2 C5.9,52.1 6.2,50.2 7.2,48.4Z" fill="#c29ab0"/><path d="M28.2,54.3 C29.4,55.4 31.6,56.3 34.2,56.7 C36.9,57.0 40.1,56.2 41.5,55.8 C42.9,55.5 42.3,56.0 41.2,54.8 C40.1,53.5 37.3,50.7 36.1,49.6 C34.9,48.4 36.8,48.8 35.3,49.1 C33.7,49.3 29.7,49.8 28.2,50.9 C26.8,51.9 27.0,53.1 28.2,54.3Z" fill="#bb93a9"/><path d="M47.1,13.3 C45.5,14.6 40.1,16.6 40.9,18.4 C41.8,20.2 48.3,22.4 51.3,22.5 C54.2,22.6 55.9,20.9 55.9,18.8 C55.8,16.8 52.5,13.6 51.1,12.3 C49.6,11.0 49.5,12.1 48.7,12.3 C47.9,12.5 48.7,12.1 47.1,13.3Z" fill="#c8a2b6"/><ellipse cx="50.1" cy="18.7" rx="2.3" ry="1.3" fill="#7a5568" opacity="0.55"/><path d="M25.7,1.3 C23.6,1.0 17.8,4.1 15.7,5.1 C13.6,6.0 14.9,4.7 15.2,6.1 C15.5,7.6 15.9,10.8 17.1,12.2 C18.4,13.5 19.6,14.0 21.5,12.9 C23.3,11.7 25.5,8.8 26.3,6.5 C27.2,4.2 27.8,1.6 25.7,1.3Z" fill="#be97ad"/><ellipse cx="20.3" cy="11.2" rx="1.9" ry="1.4" fill="#7a5568" opacity="0.55"/><path d="M5.5,-1.4 C7.0,-2.4 10.4,0.9 12.2,2.1 C13.9,3.3 13.9,3.9 14.2,4.7 C14.5,5.4 15.2,4.9 13.7,5.7 C12.2,6.5 8.5,8.5 6.7,8.8 C4.8,9.0 4.7,9.0 4.5,7.0 C4.3,4.9 4.0,-0.5 5.5,-1.4Z" fill="#be97ad"/><ellipse cx="8.0" cy="4.8" rx="2.3" ry="1.5" fill="#7a5568" opacity="0.55"/><path d="M21.1,40.9 C20.4,38.7 19.5,33.3 17.3,31.1 C15.1,28.9 11.7,29.7 9.9,30.1 C8.1,30.6 8.4,31.4 8.4,33.3 C8.5,35.1 9.6,37.8 10.2,39.4 C10.8,41.1 9.4,40.9 11.5,41.5 C13.6,42.1 18.8,42.5 20.7,42.4 C22.6,42.3 21.8,43.2 21.1,40.9Z" fill="#c8a2b6"/><ellipse cx="16.6" cy="34.7" rx="1.8" ry="1.1" fill="#7a5568" opacity="0.55"/><path d="M-3.0,41.2 C-1.5,42.5 6.8,41.0 8.8,39.5 C10.9,37.9 8.7,34.7 7.2,33.4 C5.7,32.0 3.4,31.2 1.4,32.7 C-0.6,34.3 -4.5,39.8 -3.0,41.2Z" fill="#bb93a9"/><ellipse cx="0.8" cy="39.3" rx="2.1" ry="1.3" fill="#7a5568" opacity="0.55"/><path d="M25.6,22.7 C23.6,24.0 13.0,22.7 11.3,20.8 C9.6,19.0 15.0,14.9 17.0,13.6 C19.0,12.3 19.5,12.5 21.2,14.3 C22.9,16.1 27.6,21.4 25.6,22.7Z" fill="#c8a2b6"/><path d="M37.4,19.8 C36.5,20.3 35.6,19.2 36.1,21.8 C36.5,24.4 38.4,30.1 39.8,32.9 C41.2,35.6 40.8,36.2 43.0,35.5 C45.3,34.8 49.7,31.8 51.2,29.4 C52.8,27.0 52.9,25.5 50.7,23.5 C48.6,21.5 43.1,20.1 40.4,19.4 C37.8,18.6 38.3,19.3 37.4,19.8Z" fill="#c8a2b6"/><ellipse cx="45.5" cy="28.7" rx="2.3" ry="1.4" fill="#7a5568" opacity="0.55"/><path d="M25.5,23.4 C22.6,23.0 14.3,21.9 11.3,21.5 C8.3,21.2 10.9,20.2 10.7,21.7 C10.4,23.3 8.8,27.5 10.2,29.1 C11.6,30.6 14.9,30.2 17.7,29.6 C20.6,29.1 22.9,27.5 24.5,26.3 C26.2,25.1 25.6,24.1 25.8,23.5 C26.0,22.9 28.4,23.8 25.5,23.4Z" fill="#be97ad"/><path d="M44.1,2.5 C44.0,3.3 42.5,4.1 41.5,5.0 C40.5,5.8 40.5,7.4 39.1,6.7 C37.8,6.0 34.3,2.8 34.8,1.7 C35.4,0.5 40.0,0.7 41.8,0.9 C43.7,1.0 44.2,1.6 44.1,2.5Z" fill="#c29ab0"/><ellipse cx="39.4" cy="4.6" rx="2.1" ry="1.9" fill="#7a5568" opacity="0.55"/><path d="M57.8,-2.1 C57.5,-0.9 55.3,3.4 53.6,3.9 C51.9,4.4 50.1,1.8 49.6,0.5 C49.1,-0.8 50.0,-2.0 51.1,-2.6 C52.3,-3.2 53.9,-2.4 55.2,-2.3 C56.6,-2.2 58.2,-3.4 57.8,-2.1Z" fill="#c8a2b6"/><ellipse cx="54.8" cy="2.8" rx="2.0" ry="1.3" fill="#7a5568" opacity="0.55"/><path d="M36.1,48.0 C37.4,46.1 41.2,39.7 43.6,38.9 C46.1,38.0 47.3,42.7 48.3,43.7 C49.2,44.7 48.4,43.1 48.3,43.8 C48.2,44.6 48.7,46.3 47.8,47.3 C46.9,48.3 46.0,48.7 43.8,49.0 C41.7,49.2 38.7,48.7 37.1,48.5 C35.6,48.3 34.8,50.0 36.1,48.0Z" fill="#c8a2b6"/><ellipse cx="42.9" cy="47.9" rx="2.9" ry="1.1" fill="#7a5568" opacity="0.55"/><path d="M-6.2,43.5 C-4.9,44.0 -2.5,45.0 0.0,45.7 C2.5,46.4 4.3,47.6 6.3,47.1 C8.2,46.6 9.0,44.1 9.8,43.1 C10.6,42.1 10.5,42.9 10.3,42.3 C10.1,41.7 11.4,40.3 8.8,40.2 C6.2,40.1 0.1,41.2 -2.9,41.8 C-5.9,42.5 -5.5,43.1 -6.2,43.4 C-6.8,43.8 -7.4,43.1 -6.2,43.5Z" fill="#c8a2b6"/><ellipse cx="1.3" cy="46.0" rx="1.9" ry="1.0" fill="#7a5568" opacity="0.55"/><path d="M21.9,40.5 C20.6,39.8 17.7,33.5 18.4,30.8 C19.0,28.1 23.7,26.5 25.0,27.2 C26.3,27.9 25.5,31.8 24.8,34.5 C24.2,37.1 23.2,41.3 21.9,40.5Z" fill="#bb93a9"/><ellipse cx="20.3" cy="33.4" rx="2.3" ry="1.2" fill="#7a5568" opacity="0.55"/><path d="M4.6,-1.4 C4.4,0.2 4.5,4.9 3.5,6.5 C2.6,8.2 0.7,7.2 -0.3,6.7 C-1.4,6.3 -2.3,6.0 -1.7,4.3 C-1.1,2.6 1.3,-0.4 2.5,-1.6 C3.8,-2.8 4.0,-1.8 4.4,-1.8 C4.8,-1.8 4.8,-3.1 4.6,-1.4Z" fill="#c29ab0"/><ellipse cx="-0.4" cy="3.6" rx="2.8" ry="1.7" fill="#7a5568" opacity="0.55"/><path d="M46.9,58.8 C47.0,57.0 47.9,57.0 49.1,57.5 C50.3,58.0 51.8,60.0 52.9,61.1 C54.0,62.2 54.8,62.1 54.5,63.2 C54.2,64.4 52.4,66.1 51.3,66.8 C50.2,67.5 49.8,68.3 48.9,66.7 C48.1,65.1 46.9,60.7 46.9,58.8Z" fill="#b58ea4"/><ellipse cx="50.4" cy="64.3" rx="2.3" ry="1.9" fill="#7a5568" opacity="0.55"/><path d="M26.9,57.3 C26.9,58.7 26.0,59.0 27.9,62.2 C29.8,65.4 34.2,73.0 36.2,73.2 C38.3,73.4 38.6,66.2 38.1,63.2 C37.6,60.2 35.7,59.8 33.6,58.1 C31.6,56.5 29.2,55.3 27.9,55.1 C26.5,54.9 26.9,55.8 26.9,57.3Z" fill="#c29ab0"/><path d="M17.1,68.2 C18.4,69.5 19.6,70.0 21.5,68.9 C23.3,67.7 25.5,64.8 26.3,62.5 C27.2,60.2 27.8,57.6 25.7,57.3 C23.6,57.0 17.8,60.1 15.7,61.1 C13.6,62.0 14.9,60.7 15.2,62.1 C15.5,63.6 15.9,66.8 17.1,68.2Z" fill="#be97ad"/><path d="M6.7,64.8 C8.5,64.5 12.2,62.5 13.7,61.7 C15.2,60.9 14.5,61.4 14.2,60.7 C13.9,59.9 13.9,59.3 12.2,58.1 C10.4,56.9 7.0,53.6 5.5,54.6 C4.0,55.5 4.3,60.9 4.5,63.0 C4.7,65.0 4.8,65.0 6.7,64.8Z" fill="#be97ad"/><ellipse cx="7.4" cy="60.2" rx="2.6" ry="1.6" fill="#7a5568" opacity="0.55"/><path d="M41.8,56.9 C43.7,57.0 44.2,57.6 44.1,58.5 C44.0,59.3 42.5,60.1 41.5,61.0 C40.5,61.8 40.5,63.4 39.1,62.7 C37.8,62.0 34.3,58.8 34.8,57.7 C35.4,56.5 40.0,56.7 41.8,56.9Z" fill="#c29ab0"/><ellipse cx="38.5" cy="59.9" rx="2.5" ry="1.8" fill="#7a5568" opacity="0.55"/><path d="M51.1,53.4 C50.0,54.0 49.1,55.2 49.6,56.5 C50.1,57.8 51.9,60.4 53.6,59.9 C55.3,59.4 57.5,55.1 57.8,53.9 C58.2,52.6 56.6,53.8 55.2,53.7 C53.9,53.6 52.3,52.8 51.1,53.4Z" fill="#c8a2b6"/><ellipse cx="53.6" cy="58.4" rx="2.5" ry="1.1" fill="#7a5568" opacity="0.55"/><path d="M3.5,62.5 C4.5,60.9 4.4,56.2 4.6,54.6 C4.8,52.9 4.8,54.2 4.4,54.2 C4.0,54.2 3.8,53.2 2.5,54.4 C1.3,55.6 -1.1,58.6 -1.7,60.3 C-2.3,62.0 -1.4,62.3 -0.3,62.7 C0.7,63.2 2.6,64.2 3.5,62.5Z" fill="#c29ab0"/><ellipse cx="-0.1" cy="59.5" rx="2.7" ry="1.6" fill="#7a5568" opacity="0.55"/><path d="M65.3,21.9 C64.7,20.0 63.6,19.9 62.0,19.5 C60.3,19.1 58.9,19.1 56.9,19.9 C55.0,20.7 53.1,21.7 52.3,23.5 C51.4,25.4 51.7,27.8 52.7,29.3 C53.7,30.9 55.1,30.7 57.3,31.3 C59.4,31.9 61.8,32.6 63.3,32.2 C64.9,31.7 64.4,31.1 64.8,29.0 C65.2,27.0 65.8,23.8 65.3,21.9Z" fill="#c29ab0"/><ellipse cx="58.5" cy="27.4" rx="2.8" ry="1.8" fill="#7a5568" opacity="0.55"/><path d="M59.5,8.1 C58.3,7.7 57.1,7.4 55.7,8.1 C54.2,8.8 52.0,9.6 52.2,11.7 C52.4,13.7 54.9,17.1 56.8,18.4 C58.7,19.6 60.9,19.8 61.8,18.1 C62.8,16.4 62.0,11.9 61.5,9.9 C61.1,7.9 60.7,8.4 59.5,8.1Z" fill="#c8a2b6"/><ellipse cx="57.1" cy="13.6" rx="2.8" ry="1.5" fill="#7a5568" opacity="0.55"/><path d="M56.4,52.6 C57.0,53.8 57.8,52.8 58.6,52.8 C59.4,52.9 59.6,53.8 60.3,52.9 C61.0,52.0 63.1,49.4 62.2,48.2 C61.3,47.0 57.0,46.0 55.9,46.9 C54.7,47.8 55.9,51.4 56.4,52.6Z" fill="#be97ad"/><path d="M57.4,32.7 C55.4,34.3 51.5,39.8 53.0,41.2 C54.5,42.5 62.8,41.0 64.8,39.5 C66.9,37.9 64.7,34.7 63.2,33.4 C61.7,32.0 59.4,31.2 57.4,32.7Z" fill="#bb93a9"/><ellipse cx="55.2" cy="39.5" rx="2.4" ry="1.6" fill="#7a5568" opacity="0.55"/><path d="M56.0,45.7 C58.5,46.4 60.3,47.6 62.3,47.1 C64.2,46.6 65.0,44.1 65.8,43.1 C66.6,42.1 66.5,42.9 66.3,42.3 C66.1,41.7 67.4,40.3 64.8,40.2 C62.2,40.1 56.1,41.2 53.1,41.8 C50.1,42.5 50.5,43.1 49.8,43.4 C49.2,43.8 48.6,43.1 49.8,43.5 C51.1,44.0 53.5,45.0 56.0,45.7Z" fill="#c8a2b6"/><ellipse cx="56.6" cy="44.4" rx="2.5" ry="1.9" fill="#7a5568" opacity="0.55"/><path d="M58.5,-1.6 C59.8,-2.8 60.0,-1.8 60.4,-1.8 C60.8,-1.8 60.8,-3.1 60.6,-1.4 C60.4,0.2 60.5,4.9 59.5,6.5 C58.6,8.2 56.7,7.2 55.7,6.7 C54.6,6.3 53.7,6.0 54.3,4.3 C54.9,2.6 57.3,-0.4 58.5,-1.6Z" fill="#c29ab0"/><path d="M60.4,54.2 C60.0,54.2 59.8,53.2 58.5,54.4 C57.3,55.6 54.9,58.6 54.3,60.3 C53.7,62.0 54.6,62.3 55.7,62.7 C56.7,63.2 58.6,64.2 59.5,62.5 C60.5,60.9 60.4,56.2 60.6,54.6 C60.8,52.9 60.8,54.2 60.4,54.2Z" fill="#c29ab0"/><ellipse cx="56.4" cy="59.7" rx="1.6" ry="1.7" fill="#7a5568" opacity="0.55"/></pattern><pattern id="musp" width="3.5" height="40" patternUnits="userSpaceOnUse" patternTransform="rotate(-14)"><rect width="3.5" height="40" fill="#db9080"/><line x1="1.75" y1="0" x2="1.75" y2="40" stroke="#e6aa9c" stroke-width="0.6"/></pattern><pattern id="musp2" width="3.5" height="40" patternUnits="userSpaceOnUse" patternTransform="rotate(-20)"><rect width="3.5" height="40" fill="#e3a493"/><line x1="1.75" y1="0" x2="1.75" y2="40" stroke="#edbcb0" stroke-width="0.6"/></pattern><filter id="blur6" x="-50%" y="-50%" width="200%" height="200%"><feGaussianBlur stdDeviation="6"/></filter><filter id="blur4" x="-50%" y="-50%" width="200%" height="200%"><feGaussianBlur stdDeviation="4"/></filter><filter id="blur1" x="-50%" y="-50%" width="200%" height="200%"><feGaussianBlur stdDeviation="1"/></filter><filter id="blur2" x="-50%" y="-50%" width="200%" height="200%"><feGaussianBlur stdDeviation="1.5"/></filter><clipPath id="clipK"><path d="M275.0,229.5 C279.3,229.4 285.1,230.1 290.0,231.0 C294.9,231.9 299.5,232.2 304.5,235.0 C309.5,237.8 315.9,242.5 320.0,248.0 C324.1,253.5 326.8,261.7 329.0,268.0 C331.2,274.3 331.1,279.8 333.0,286.0 C334.9,292.2 338.2,298.2 340.6,305.0 C343.0,311.8 346.1,319.5 347.4,327.0 C348.7,334.5 348.9,341.7 348.5,350.0 C348.1,358.3 347.1,368.3 345.0,377.0 C342.9,385.7 339.3,395.6 336.0,402.0 C332.7,408.4 328.8,413.1 325.0,415.5 C321.2,417.9 317.7,417.7 313.5,416.6 C309.3,415.5 304.5,413.3 300.0,409.0 C295.5,404.7 290.7,397.4 286.5,390.6 C282.3,383.8 278.8,376.3 275.0,368.0 C271.2,359.7 267.7,350.4 264.0,341.0 C260.3,331.6 255.4,321.0 252.6,311.6 C249.8,302.2 247.9,293.9 247.0,284.5 C246.1,275.1 245.7,262.9 247.0,255.0 C248.3,247.1 252.2,240.9 255.0,237.0 C257.8,233.1 260.7,232.8 264.0,231.5 C267.3,230.2 270.7,229.6 275.0,229.5Z"/></clipPath><radialGradient id="lumen" cx="0.45" cy="0.35" r="0.75"><stop offset="0" stop-color="#c98080"/><stop offset="0.6" stop-color="#ad5e62"/><stop offset="1" stop-color="#8e454c"/></radialGradient><clipPath id="clipDU"><path d="M379.5,352.0 C381.8,350.1 383.1,349.1 386.0,348.0 C388.9,346.9 392.7,344.6 399.0,345.0 C405.3,345.4 419.6,349.5 428.0,351.0 C436.4,352.5 447.2,354.0 455.0,355.0 C462.8,356.0 468.8,356.8 480.0,357.5 C491.2,358.2 522.5,359.0 530.0,359.5 C537.5,360.0 537.5,360.8 530.0,361.0 C522.5,361.2 493.2,360.6 480.0,361.0 C466.8,361.4 449.6,362.4 442.0,364.0 C434.4,365.6 432.3,368.6 429.0,372.0 C425.7,375.4 422.7,381.9 420.0,387.0 C417.3,392.1 413.2,401.1 411.0,406.0 C408.8,410.9 406.5,415.9 405.0,420.0 C403.5,424.1 402.6,429.7 401.0,433.0 C399.4,436.3 397.1,440.4 394.0,442.0 C390.9,443.6 383.8,444.1 380.0,443.5 C376.2,442.9 371.5,440.5 369.0,438.0 C366.5,435.5 364.4,431.9 363.5,427.0 C362.6,422.1 362.9,410.7 363.0,405.0 C363.1,399.3 363.4,393.8 364.0,389.0 C364.6,384.2 365.9,377.2 367.0,373.0 C368.1,368.8 369.1,364.1 371.0,361.0 C372.9,357.9 377.2,353.9 379.5,352.0Z"/></clipPath><radialGradient id="lumen2" cx="0.55" cy="0.6" r="0.7"><stop offset="0" stop-color="#d08a88"/><stop offset="0.55" stop-color="#aa5a60"/><stop offset="1" stop-color="#86404a"/></radialGradient><clipPath id="clipB"><path d="M160.3,704.8 C162.8,704.2 170.3,702.5 175.0,701.5 C179.7,700.5 182.5,699.3 188.6,698.8 C194.7,698.3 205.4,699.0 211.8,698.3 C218.2,697.6 221.7,695.9 227.3,694.5 C232.9,693.1 237.6,690.8 245.3,690.0 C253.0,689.2 264.6,689.1 273.6,689.6 C282.6,690.1 291.7,691.7 299.4,693.2 C307.1,694.7 312.7,697.7 320.0,698.8 C327.3,699.9 339.2,699.6 343.0,699.7 L517.3,699.7 C517.4,706.4 518.0,726.8 518.0,740.0 C518.0,753.2 517.6,768.2 517.0,778.7 C516.4,789.2 515.6,795.3 514.6,803.0 C513.6,810.7 512.4,817.5 511.0,824.7 C509.6,831.9 508.0,839.0 506.0,846.2 C504.0,853.4 501.4,861.1 498.8,867.8 C496.2,874.5 493.0,880.5 490.2,886.5 C487.4,892.5 485.0,899.0 482.0,903.7 C479.0,908.5 475.4,911.6 472.0,915.0 C468.6,918.4 466.8,920.4 461.6,924.3 C456.4,928.2 447.9,934.5 441.0,938.6 C434.1,942.7 427.3,946.3 420.5,949.0 C413.7,951.7 410.1,952.8 400.0,955.0 C389.9,957.2 370.9,960.2 360.0,962.0 C349.1,963.8 344.5,964.5 334.5,965.5 C324.5,966.5 309.1,967.4 300.0,968.0 C290.9,968.6 292.5,968.8 280.0,969.0 C267.5,969.2 244.9,969.0 225.0,969.0 C205.1,969.0 171.1,969.0 160.3,969.0 L160.3,969.0 Z"/></clipPath></defs>
<path d="M139.0,-8.0 C139.1,3.3 139.2,35.3 139.5,60.0 C139.8,84.7 140.2,116.7 141.0,140.0 C141.8,163.3 142.5,183.3 144.0,200.0 C145.5,216.7 147.8,226.7 150.0,240.0 C152.2,253.3 153.7,260.5 157.0,280.0 C160.3,299.5 165.8,330.3 170.0,357.0 C174.2,383.7 179.7,415.2 182.0,440.0 C184.3,464.8 183.5,481.0 184.0,506.0 C184.5,531.0 184.8,576.0 185.0,590.0 L530.0,590.0 L530.0,-8.0 Z" fill="url(#fatp)"/>
<path d="M141.0,-8.0 C141.1,3.3 141.2,35.3 141.5,60.0 C141.8,84.7 142.2,116.7 143.0,140.0 C143.8,163.3 144.5,183.3 146.0,200.0 C147.5,216.7 149.8,226.7 152.0,240.0 C154.2,253.3 155.7,260.5 159.0,280.0 C162.3,299.5 167.8,330.3 172.0,357.0 C176.2,383.7 181.7,415.2 184.0,440.0 C186.3,464.8 185.5,481.0 186.0,506.0 C186.5,531.0 186.8,576.0 187.0,590.0" fill="none" stroke="#e0b098" stroke-width="4"/>
<path d="M160.0,-8.0 C160.2,3.3 160.5,37.0 161.0,60.0 C161.5,83.0 162.0,106.7 163.0,130.0 C164.0,153.3 164.8,180.0 167.0,200.0 C169.2,220.0 173.0,236.7 176.0,250.0 C179.0,263.3 181.3,262.2 185.0,280.0 C188.7,297.8 194.2,333.7 198.0,357.0 C201.8,380.3 205.3,405.3 208.0,420.0 C210.7,434.7 211.1,435.0 214.0,445.0 C216.9,455.0 222.3,467.5 225.5,480.0 C228.7,492.5 230.7,510.0 233.3,520.0 C235.9,530.0 239.1,528.3 241.0,540.0 C242.9,551.7 244.3,581.7 245.0,590.0 L285.0,590.0 C284.7,582.5 283.5,561.7 283.0,545.0 C282.5,528.3 283.2,505.8 282.0,490.0 C280.8,474.2 277.8,460.0 276.0,450.0 C274.2,440.0 274.3,445.5 271.0,430.0 C267.7,414.5 262.5,382.0 256.0,357.0 C249.5,332.0 236.0,292.8 232.0,280.0 L232.0,280.0 C230.3,278.0 225.3,273.8 222.0,268.0 C218.7,262.2 214.8,255.5 212.0,245.0 C209.2,234.5 206.8,220.8 205.0,205.0 C203.2,189.2 202.0,170.8 201.0,150.0 C200.0,129.2 199.4,106.3 199.0,80.0 C198.6,53.7 198.6,6.7 198.5,-8.0 Z" fill="url(#musp)"/>
<path d="M205.0,250.0 C206.7,258.3 210.8,282.2 215.0,300.0 C219.2,317.8 225.2,333.7 230.0,357.0 C234.8,380.3 239.7,416.2 244.0,440.0 C248.3,463.8 252.7,483.3 256.0,500.0 C259.3,516.7 261.3,525.0 264.0,540.0 C266.7,555.0 270.7,581.7 272.0,590.0 L285.0,590.0 C284.7,582.5 283.5,561.7 283.0,545.0 C282.5,528.3 283.2,505.8 282.0,490.0 C280.8,474.2 277.8,460.0 276.0,450.0 C274.2,440.0 274.3,445.5 271.0,430.0 C267.7,414.5 262.5,382.0 256.0,357.0 C249.5,332.0 236.0,292.8 232.0,280.0 L232.0,280.0 C230.3,278.0 225.3,273.0 222.0,268.0 C218.7,263.0 213.7,253.0 212.0,250.0 Z" fill="url(#musp2)" opacity="0.9"/>
<path d="M179.0,-8.0 C179.2,3.3 179.5,37.0 180.0,60.0 C180.5,83.0 181.0,106.7 182.0,130.0 C183.0,153.3 183.8,181.7 186.0,200.0 C188.2,218.3 190.7,228.7 195.0,240.0 C199.3,251.3 209.2,263.3 212.0,268.0 L219.0,270.0 L198.5,-8.0 C198.6,6.7 198.6,53.7 199.0,80.0 C199.4,106.3 200.0,129.2 201.0,150.0 C202.0,170.8 203.2,189.2 205.0,205.0 C206.8,220.8 210.8,238.3 212.0,245.0 Z" fill="url(#musp2)"/>
<path d="M196.0,250.0 C198.3,258.3 205.0,282.2 210.0,300.0 C215.0,317.8 220.7,333.7 226.0,357.0 C231.3,380.3 237.5,416.2 242.0,440.0 C246.5,463.8 249.5,482.5 253.0,500.0 C256.5,517.5 260.5,531.7 263.0,545.0 C265.5,558.3 267.2,574.2 268.0,580.0" fill="none" stroke="#fbf4ec" stroke-width="1.3"/>
<path d="M232.0,280.0 C236.0,292.8 249.5,332.0 256.0,357.0 C262.5,382.0 267.7,414.5 271.0,430.0 C274.3,445.5 274.2,440.0 276.0,450.0 C277.8,460.0 280.8,474.2 282.0,490.0 C283.2,505.8 282.5,528.3 283.0,545.0 C283.5,561.7 284.7,582.5 285.0,590.0" fill="none" stroke="#fbf4ec" stroke-width="1.3"/>
<path d="M244.0,282.0 C247.0,294.5 256.5,332.3 262.0,357.0 C267.5,381.7 273.5,413.7 277.0,430.0 C280.5,446.3 281.2,445.0 283.0,455.0 C284.8,465.0 287.0,475.0 288.0,490.0 C289.0,505.0 288.7,528.3 289.0,545.0 C289.3,561.7 289.8,582.5 290.0,590.0" fill="none" stroke="#fbf4ec" stroke-width="1.3"/>
<ellipse cx="186" cy="47" rx="7.0" ry="16.0" fill="#e9dcc0" stroke="#f6efe0" stroke-width="1"/>
<circle cx="184.9" cy="41.4" r="1.2" fill="#806448" opacity="0.8"/>
<circle cx="183.3" cy="47.6" r="1.0" fill="#806448" opacity="0.8"/>
<circle cx="183.2" cy="47.1" r="0.7" fill="#806448" opacity="0.8"/>
<circle cx="185.6" cy="40.1" r="0.8" fill="#806448" opacity="0.8"/>
<circle cx="185.5" cy="52.2" r="0.8" fill="#806448" opacity="0.8"/>
<circle cx="184.3" cy="49.0" r="1.4" fill="#806448" opacity="0.8"/>
<circle cx="186.5" cy="45.3" r="1.4" fill="#806448" opacity="0.8"/>
<circle cx="183.1" cy="52.7" r="0.9" fill="#806448" opacity="0.8"/>
<circle cx="183.8" cy="40.9" r="0.9" fill="#806448" opacity="0.8"/>
<circle cx="188.0" cy="41.9" r="1.1" fill="#806448" opacity="0.8"/>
<circle cx="186.9" cy="45.0" r="1.1" fill="#806448" opacity="0.8"/>
<circle cx="183.2" cy="40.0" r="0.8" fill="#806448" opacity="0.8"/>
<circle cx="187.1" cy="45.8" r="0.9" fill="#806448" opacity="0.8"/>
<circle cx="186.5" cy="46.3" r="0.9" fill="#806448" opacity="0.8"/>
<circle cx="187.9" cy="50.2" r="0.9" fill="#806448" opacity="0.8"/>
<circle cx="186.5" cy="47.4" r="1.3" fill="#806448" opacity="0.8"/>
<ellipse cx="187" cy="120" rx="6.5" ry="17.0" fill="#e9dcc0" stroke="#f6efe0" stroke-width="1"/>
<circle cx="188.3" cy="116.4" r="1.4" fill="#806448" opacity="0.8"/>
<circle cx="184.8" cy="118.6" r="1.2" fill="#806448" opacity="0.8"/>
<circle cx="185.0" cy="119.8" r="0.7" fill="#806448" opacity="0.8"/>
<circle cx="188.0" cy="124.5" r="1.1" fill="#806448" opacity="0.8"/>
<circle cx="189.2" cy="116.8" r="1.2" fill="#806448" opacity="0.8"/>
<circle cx="187.6" cy="121.4" r="1.0" fill="#806448" opacity="0.8"/>
<circle cx="189.0" cy="127.6" r="1.0" fill="#806448" opacity="0.8"/>
<circle cx="188.0" cy="112.5" r="1.2" fill="#806448" opacity="0.8"/>
<circle cx="187.9" cy="128.4" r="1.3" fill="#806448" opacity="0.8"/>
<circle cx="185.7" cy="118.1" r="1.2" fill="#806448" opacity="0.8"/>
<circle cx="184.2" cy="119.3" r="0.8" fill="#806448" opacity="0.8"/>
<circle cx="184.8" cy="112.5" r="1.2" fill="#806448" opacity="0.8"/>
<circle cx="184.8" cy="115.7" r="1.0" fill="#806448" opacity="0.8"/>
<circle cx="189.2" cy="112.9" r="1.0" fill="#806448" opacity="0.8"/>
<circle cx="187.3" cy="126.5" r="1.3" fill="#806448" opacity="0.8"/>
<circle cx="189.1" cy="116.2" r="1.0" fill="#806448" opacity="0.8"/>
<ellipse cx="196" cy="198" rx="8.0" ry="17.0" fill="#e9dcc0" stroke="#f6efe0" stroke-width="1"/>
<circle cx="195.0" cy="204.5" r="1.4" fill="#806448" opacity="0.8"/>
<circle cx="193.5" cy="192.5" r="0.9" fill="#806448" opacity="0.8"/>
<circle cx="194.1" cy="197.7" r="1.1" fill="#806448" opacity="0.8"/>
<circle cx="194.3" cy="189.6" r="1.0" fill="#806448" opacity="0.8"/>
<circle cx="195.1" cy="199.1" r="1.4" fill="#806448" opacity="0.8"/>
<circle cx="197.4" cy="198.3" r="1.1" fill="#806448" opacity="0.8"/>
<circle cx="197.3" cy="190.4" r="1.3" fill="#806448" opacity="0.8"/>
<circle cx="198.0" cy="204.4" r="1.3" fill="#806448" opacity="0.8"/>
<circle cx="195.2" cy="196.3" r="0.8" fill="#806448" opacity="0.8"/>
<circle cx="197.0" cy="190.6" r="0.7" fill="#806448" opacity="0.8"/>
<circle cx="193.9" cy="192.3" r="0.9" fill="#806448" opacity="0.8"/>
<circle cx="192.8" cy="189.5" r="0.8" fill="#806448" opacity="0.8"/>
<circle cx="193.1" cy="195.7" r="0.7" fill="#806448" opacity="0.8"/>
<circle cx="198.7" cy="199.9" r="0.8" fill="#806448" opacity="0.8"/>
<circle cx="194.2" cy="195.4" r="1.0" fill="#806448" opacity="0.8"/>
<circle cx="193.3" cy="203.9" r="1.4" fill="#806448" opacity="0.8"/>
<ellipse cx="191.5" cy="62.0" rx="1.7" ry="2.5" fill="#d83a3a"/>
<ellipse cx="191.0" cy="67.5" rx="1.7" ry="2.5" fill="#e8c840"/>
<ellipse cx="191.0" cy="73.0" rx="1.7" ry="2.5" fill="#3a78c0"/>
<ellipse cx="193.0" cy="139.0" rx="1.7" ry="2.5" fill="#d83a3a"/>
<ellipse cx="194.0" cy="144.5" rx="1.7" ry="2.5" fill="#e8c840"/>
<ellipse cx="195.0" cy="150.0" rx="1.7" ry="2.5" fill="#3a78c0"/>
<ellipse cx="203.0" cy="218.0" rx="1.7" ry="2.5" fill="#d83a3a"/>
<ellipse cx="204.0" cy="223.5" rx="1.7" ry="2.5" fill="#e8c840"/>
<ellipse cx="205.5" cy="229.0" rx="1.7" ry="2.5" fill="#3a78c0"/>
<path d="M200.5,-8.0 L200.5,178.0 L206.0,186.0 L216.0,178.0 C217.7,172.8 222.2,158.3 226.0,147.0 C229.8,135.7 233.2,121.2 239.0,110.0 C244.8,98.8 252.3,88.5 261.0,80.0 C269.7,71.5 278.2,66.7 291.0,59.0 C303.8,51.3 319.8,41.2 338.0,34.0 C356.2,26.8 378.8,19.8 400.0,16.0 C421.2,12.2 443.3,12.0 465.0,11.0 C486.7,10.0 519.2,10.2 530.0,10.0 L530.0,-8.0 Z" fill="url(#lungp)"/>
<path d="M530.0,10.0 C519.2,10.2 486.7,10.0 465.0,11.0 C443.3,12.0 421.2,12.2 400.0,16.0 C378.8,19.8 356.2,26.8 338.0,34.0 C319.8,41.2 303.8,51.3 291.0,59.0 C278.2,66.7 269.7,71.5 261.0,80.0 C252.3,88.5 244.8,98.8 239.0,110.0 C233.2,121.2 229.8,135.7 226.0,147.0 C222.2,158.3 218.3,169.2 216.0,178.0 C213.7,186.8 212.5,190.5 212.0,200.0 C211.5,209.5 211.8,223.3 213.0,235.0 C214.2,246.7 218.0,264.2 219.0,270.0 L236.0,284.0 C234.8,281.7 230.8,276.5 229.0,270.0 C227.2,263.5 225.7,254.2 225.0,245.0 C224.3,235.8 224.3,225.7 225.0,215.0 C225.7,204.3 227.0,192.2 229.0,181.0 C231.0,169.8 234.0,157.8 237.0,148.0 C240.0,138.2 242.8,130.0 247.0,122.0 C251.2,114.0 256.5,106.3 262.0,100.0 C267.5,93.7 273.7,89.2 280.0,84.0 C286.3,78.8 290.3,75.0 300.0,69.0 C309.7,63.0 326.3,53.5 338.0,48.0 C349.7,42.5 359.7,39.2 370.0,36.0 C380.3,32.8 384.2,30.8 400.0,29.0 C415.8,27.2 443.3,25.8 465.0,25.0 C486.7,24.2 519.2,24.2 530.0,24.0 Z" fill="#e0a08f"/>
<path d="M529.0,14.0 C518.2,14.2 485.7,14.0 464.0,15.0 C442.3,16.0 420.2,16.2 399.0,20.0 C377.8,23.8 355.2,30.8 337.0,38.0 C318.8,45.2 302.8,55.3 290.0,63.0 C277.2,70.7 268.7,75.5 260.0,84.0 C251.3,92.5 243.8,102.8 238.0,114.0 C232.2,125.2 227.2,144.8 225.0,151.0" fill="none" stroke="#fbefe6" stroke-width="1.2"/>
<path d="M527.8,21.8 C517.0,22.0 484.5,22.0 462.8,22.8 C441.1,23.6 413.6,25.0 397.8,26.8 C382.0,28.6 378.1,30.6 367.8,33.8 C357.5,37.0 347.5,40.3 335.8,45.8 C324.1,51.3 307.5,60.8 297.8,66.8 C288.1,72.8 284.1,76.6 277.8,81.8 C271.5,87.0 265.3,91.5 259.8,97.8 C254.3,104.1 249.0,111.8 244.8,119.8 C240.6,127.8 237.8,136.0 234.8,145.8 C231.8,155.6 228.8,167.6 226.8,178.8 C224.8,190.0 223.5,202.1 222.8,212.8 C222.1,223.5 222.8,237.8 222.8,242.8" fill="none" stroke="#eab8a6" stroke-width="3"/>
<path d="M530.0,24.0 C519.2,24.2 486.7,24.2 465.0,25.0 C443.3,25.8 415.8,27.2 400.0,29.0 C384.2,30.8 380.3,32.8 370.0,36.0 C359.7,39.2 349.7,42.5 338.0,48.0 C326.3,53.5 309.7,63.0 300.0,69.0 C290.3,75.0 286.3,78.8 280.0,84.0 C273.7,89.2 267.5,93.7 262.0,100.0 C256.5,106.3 251.2,114.0 247.0,122.0 C242.8,130.0 240.0,138.2 237.0,148.0 C234.0,157.8 231.0,169.8 229.0,181.0 C227.0,192.2 225.7,204.3 225.0,215.0 C224.3,225.7 224.3,235.8 225.0,245.0 C225.7,254.2 227.2,263.5 229.0,270.0 C230.8,276.5 234.8,281.7 236.0,284.0" fill="none" stroke="#fbefe6" stroke-width="1.3"/>
<path d="M198.7,-8.0 C198.8,6.7 198.7,53.7 199.0,80.0 C199.3,106.3 199.8,132.5 200.5,150.0 C201.2,167.5 203.0,179.2 203.5,185.0" fill="none" stroke="#f6eaea" stroke-width="5.5"/>
<path d="M198.7,-8.0 C198.8,6.7 198.7,53.7 199.0,80.0 C199.3,106.3 199.8,132.5 200.5,150.0 C201.2,167.5 202.2,171.7 203.5,185.0 C204.8,198.3 206.4,218.3 208.0,230.0 C209.6,241.7 211.2,248.3 213.0,255.0 C214.8,261.7 218.0,267.5 219.0,270.0" fill="none" stroke="#3b2828" stroke-width="4"/>
<path d="M202.0,182.0 L216.0,181.0 L213.0,200.0 C213.1,205.8 212.5,223.3 213.5,235.0 C214.5,246.7 218.1,264.2 219.0,270.0 L208.0,240.0 C207.3,233.3 204.7,206.7 204.0,200.0 Z" fill="#3b2828"/>
<path d="M530.0,10.0 C519.2,10.2 486.7,10.0 465.0,11.0 C443.3,12.0 421.2,12.2 400.0,16.0 C378.8,19.8 356.2,26.8 338.0,34.0 C319.8,41.2 303.8,51.3 291.0,59.0 C278.2,66.7 269.7,71.5 261.0,80.0 C252.3,88.5 244.8,98.8 239.0,110.0 C233.2,121.2 229.8,135.7 226.0,147.0 C222.2,158.3 217.7,172.8 216.0,178.0" fill="none" stroke="#f8eef0" stroke-width="5"/>
<path d="M530.0,10.0 C519.2,10.2 486.7,10.0 465.0,11.0 C443.3,12.0 421.2,12.2 400.0,16.0 C378.8,19.8 356.2,26.8 338.0,34.0 C319.8,41.2 303.8,51.3 291.0,59.0 C278.2,66.7 269.7,71.5 261.0,80.0 C252.3,88.5 244.8,98.8 239.0,110.0 C233.2,121.2 229.8,135.7 226.0,147.0 C222.2,158.3 218.7,170.3 216.0,178.0 C213.3,185.7 211.0,190.5 210.0,193.0" fill="none" stroke="#4a3237" stroke-width="3"/>
<path d="M281.0,85.0 C282.8,83.2 287.2,77.7 292.0,74.0 C296.8,70.3 302.3,67.0 310.0,63.0 C317.7,59.0 328.0,54.2 338.0,50.0 C348.0,45.8 359.7,41.0 370.0,38.0 C380.3,35.0 388.3,33.8 400.0,32.0 C411.7,30.2 427.5,28.2 440.0,27.0 C452.5,25.8 460.0,25.5 475.0,25.0 C490.0,24.5 520.8,24.2 530.0,24.0 L530.0,336.0 L530.0,336.0 C525.0,335.8 510.7,335.5 500.0,335.0 C489.3,334.5 477.7,334.0 466.0,333.0 C454.3,332.0 442.0,331.5 430.0,329.0 C418.0,326.5 402.4,322.3 394.0,318.0 C385.6,313.7 384.9,309.3 379.5,303.0 C374.1,296.7 366.5,286.7 361.5,280.0 C356.5,273.3 352.2,267.7 349.4,262.7 C346.5,257.7 346.3,253.8 344.4,250.0 C342.5,246.2 340.4,243.3 338.0,240.0 C335.6,236.7 333.3,234.2 330.0,230.0 C326.7,225.8 322.0,219.8 318.0,215.0 C314.0,210.2 309.4,205.2 306.0,201.0 C302.6,196.8 301.2,194.0 297.5,190.0 C293.8,186.0 287.9,181.7 284.0,177.0 C280.1,172.3 276.4,167.3 274.0,162.0 C271.6,156.7 270.3,151.2 269.5,145.0 C268.7,138.8 268.6,131.8 269.0,125.0 C269.4,118.2 270.0,110.7 272.0,104.0 C274.0,97.3 279.5,88.2 281.0,85.0 Z" fill="#bd6f66"/>
<path d="M281.0,85.0 C279.5,88.2 274.0,97.3 272.0,104.0 C270.0,110.7 269.4,118.2 269.0,125.0 C268.6,131.8 268.7,138.8 269.5,145.0 C270.3,151.2 271.6,156.7 274.0,162.0 C276.4,167.3 280.1,172.3 284.0,177.0 C287.9,181.7 295.2,187.8 297.5,190.0" fill="none" stroke="#fbf0ea" stroke-width="5"/>
<path d="M284.0,177.0 C286.2,179.2 293.8,186.0 297.5,190.0 C301.2,194.0 302.6,196.8 306.0,201.0 C309.4,205.2 314.0,210.2 318.0,215.0 C322.0,219.8 326.7,225.8 330.0,230.0 C333.3,234.2 336.7,238.3 338.0,240.0" fill="none" stroke="#fbf0ea" stroke-width="6.5"/>
<path d="M281.0,85.0 C279.5,88.2 274.0,97.3 272.0,104.0 C270.0,110.7 269.4,118.2 269.0,125.0 C268.6,131.8 268.7,138.8 269.5,145.0 C270.3,151.2 271.6,156.7 274.0,162.0 C276.4,167.3 280.1,172.3 284.0,177.0 C287.9,181.7 295.2,187.8 297.5,190.0" fill="none" stroke="#4e3034" stroke-width="2.6"/>
<path d="M284.0,177.0 C286.2,179.2 293.8,186.0 297.5,190.0 C301.2,194.0 302.6,196.8 306.0,201.0 C309.4,205.2 316.0,212.7 318.0,215.0" fill="none" stroke="#4e3034" stroke-width="3.3" stroke-linecap="round"/>
<path d="M306.0,201.0 C308.0,203.3 314.0,210.2 318.0,215.0 C322.0,219.8 326.7,225.8 330.0,230.0 C333.3,234.2 335.6,236.7 338.0,240.0 C340.4,243.3 343.3,248.3 344.4,250.0" fill="none" stroke="#4e3034" stroke-width="4" stroke-linecap="round"/>
<path d="M530.0,342.5 C525.0,342.3 510.7,342.0 500.0,341.5 C489.3,341.0 477.7,340.8 466.0,339.6 C454.3,338.4 441.6,336.0 430.0,334.5 C418.4,333.0 404.9,332.1 396.7,330.8 C388.5,329.5 384.6,328.6 381.0,326.5 C377.4,324.4 377.7,322.3 375.0,318.5 C372.3,314.7 368.6,309.8 365.0,303.5 C361.4,297.2 357.1,287.3 353.5,280.5 C349.9,273.7 345.8,267.8 343.3,262.7 C340.8,257.6 339.9,253.4 338.3,250.0 C336.7,246.6 335.1,244.3 333.5,242.0 C331.9,239.7 329.8,237.0 329.0,236.0 L331.0,233.0 C332.2,234.2 335.8,237.2 338.0,240.0 C340.2,242.8 342.5,246.2 344.4,250.0 C346.3,253.8 346.5,257.7 349.4,262.7 C352.2,267.7 356.5,273.3 361.5,280.0 C366.5,286.7 374.1,296.7 379.5,303.0 C384.9,309.3 385.6,313.7 394.0,318.0 C402.4,322.3 418.0,326.5 430.0,329.0 C442.0,331.5 454.3,332.0 466.0,333.0 C477.7,334.0 489.3,334.5 500.0,335.0 C510.7,335.5 525.0,335.8 530.0,336.0 Z" fill="#4e3034"/>
<path d="M529.4,343.1 C524.4,342.9 510.1,342.6 499.4,342.1 C488.7,341.6 477.1,341.4 465.4,340.2 C453.7,339.0 440.9,336.6 429.4,335.1 C417.8,333.6 404.3,332.7 396.1,331.4 C387.9,330.1 384.0,329.2 380.4,327.1 C376.8,325.1 377.1,322.9 374.4,319.1 C371.7,315.3 368.0,310.4 364.4,304.1 C360.8,297.8 356.5,287.9 352.9,281.1 C349.3,274.3 345.2,268.4 342.7,263.3 C340.2,258.2 339.3,254.1 337.7,250.6 C336.1,247.1 334.4,244.9 332.9,242.6 C331.3,240.3 329.1,237.6 328.4,236.6" fill="none" stroke="#fbf0ea" stroke-width="1.2"/>
<path d="M345.1,249.3 C345.9,251.4 347.2,257.0 350.1,262.0 C352.9,267.0 357.2,272.6 362.2,279.3 C367.2,286.0 374.8,296.0 380.2,302.3 C385.6,308.6 386.3,313.0 394.7,317.3 C403.1,321.6 418.7,325.8 430.7,328.3 C442.7,330.8 455.0,331.3 466.7,332.3 C478.4,333.3 490.0,333.8 500.7,334.3 C511.4,334.8 525.7,335.1 530.7,335.3" fill="none" stroke="#fbf0ea" stroke-width="1.1"/>
<path d="M402.0,29.5 C408.3,29.2 427.2,27.9 440.0,27.5 C452.8,27.1 469.0,27.2 479.0,27.0 C489.0,26.8 496.5,26.6 500.0,26.5" fill="none" stroke="#3b2828" stroke-width="1.6"/>
<ellipse cx="355.0" cy="84.0" rx="12.0" ry="8.0" transform="rotate(-20 355.0 84.0)" fill="#d8b4a0" opacity="0.55" filter="url(#blur1)"/>
<ellipse cx="471.0" cy="58.0" rx="10.0" ry="12.0" transform="rotate(30 471.0 58.0)" fill="#d8b4a0" opacity="0.55" filter="url(#blur1)"/>
<ellipse cx="458.0" cy="150.0" rx="7.0" ry="13.0" transform="rotate(-15 458.0 150.0)" fill="#d8b4a0" opacity="0.55" filter="url(#blur1)"/>
<ellipse cx="461.0" cy="240.0" rx="4.0" ry="11.0" transform="rotate(10 461.0 240.0)" fill="#d8b4a0" opacity="0.55" filter="url(#blur1)"/>
<ellipse cx="319.0" cy="137.0" rx="6.0" ry="9.0" transform="rotate(0 319.0 137.0)" fill="#d8b4a0" opacity="0.55" filter="url(#blur1)"/>
<ellipse cx="445.0" cy="140.0" rx="3.0" ry="6.0" transform="rotate(-10 445.0 140.0)" fill="#d8b4a0" opacity="0.55" filter="url(#blur1)"/>
<ellipse cx="417.5" cy="191.5" rx="5.0" ry="4.0" transform="rotate(0 417.5 191.5)" fill="#d8b4a0" opacity="0.55" filter="url(#blur1)"/>
<ellipse cx="448.5" cy="43.5" rx="3.2" ry="3.8" transform="rotate(0 448.5 43.5)" fill="#d9c4a8" opacity="0.45"/><ellipse cx="448.5" cy="43.5" rx="2.0" ry="2.6" transform="rotate(0 448.5 43.5)" fill="#90c4e0"/><ellipse cx="448.5" cy="43.5" rx="1.2" ry="1.8" transform="rotate(0 448.5 43.5)" fill="#2d4f80"/>
<ellipse cx="475.0" cy="52.5" rx="4.6" ry="4.6" transform="rotate(0 475.0 52.5)" fill="#d9c4a8" opacity="0.45"/><ellipse cx="475.0" cy="52.5" rx="3.4" ry="3.4" transform="rotate(0 475.0 52.5)" fill="#90c4e0"/><ellipse cx="475.0" cy="52.5" rx="2.6" ry="2.6" transform="rotate(0 475.0 52.5)" fill="#2d4f80"/>
<ellipse cx="468.0" cy="62.0" rx="3.8" ry="3.5" transform="rotate(30 468.0 62.0)" fill="#d9c4a8" opacity="0.45"/><ellipse cx="468.0" cy="62.0" rx="2.6" ry="2.3" transform="rotate(30 468.0 62.0)" fill="#90c4e0"/><ellipse cx="468.0" cy="62.0" rx="1.8" ry="1.5" transform="rotate(30 468.0 62.0)" fill="#2d4f80"/>
<ellipse cx="462.0" cy="66.0" rx="3.2" ry="3.2" transform="rotate(0 462.0 66.0)" fill="#d9c4a8" opacity="0.45"/><ellipse cx="462.0" cy="66.0" rx="2.0" ry="2.0" transform="rotate(0 462.0 66.0)" fill="#90c4e0"/><ellipse cx="462.0" cy="66.0" rx="1.2" ry="1.2" transform="rotate(0 462.0 66.0)" fill="#2d4f80"/>
<ellipse cx="479.0" cy="66.0" rx="3.0" ry="3.0" transform="rotate(0 479.0 66.0)" fill="#d9c4a8" opacity="0.45"/><ellipse cx="479.0" cy="66.0" rx="1.8" ry="1.8" transform="rotate(0 479.0 66.0)" fill="#90c4e0"/><ellipse cx="479.0" cy="66.0" rx="1.0" ry="1.0" transform="rotate(0 479.0 66.0)" fill="#2d4f80"/>
<ellipse cx="350.0" cy="82.0" rx="3.5" ry="4.5" transform="rotate(20 350.0 82.0)" fill="#d9c4a8" opacity="0.45"/><ellipse cx="350.0" cy="82.0" rx="2.3" ry="3.3" transform="rotate(20 350.0 82.0)" fill="#90c4e0"/><ellipse cx="350.0" cy="82.0" rx="1.5" ry="2.5" transform="rotate(20 350.0 82.0)" fill="#2d4f80"/>
<ellipse cx="357.0" cy="79.0" rx="3.3" ry="3.3" transform="rotate(0 357.0 79.0)" fill="#d9c4a8" opacity="0.45"/><ellipse cx="357.0" cy="79.0" rx="2.1" ry="2.1" transform="rotate(0 357.0 79.0)" fill="#90c4e0"/><ellipse cx="357.0" cy="79.0" rx="1.3" ry="1.3" transform="rotate(0 357.0 79.0)" fill="#2d4f80"/>
<ellipse cx="364.0" cy="78.0" rx="3.2" ry="3.2" transform="rotate(0 364.0 78.0)" fill="#d9c4a8" opacity="0.45"/><ellipse cx="364.0" cy="78.0" rx="2.0" ry="2.0" transform="rotate(0 364.0 78.0)" fill="#90c4e0"/><ellipse cx="364.0" cy="78.0" rx="1.2" ry="1.2" transform="rotate(0 364.0 78.0)" fill="#2d4f80"/>
<ellipse cx="359.0" cy="89.0" rx="2.8" ry="2.4" transform="rotate(0 359.0 89.0)" fill="#a8d090"/><ellipse cx="359.0" cy="89.0" rx="1.8" ry="1.4" transform="rotate(0 359.0 89.0)" fill="#2f6a2a"/>
<ellipse cx="346.0" cy="90.0" rx="3.0" ry="3.5" transform="rotate(0 346.0 90.0)" fill="#d9c4a8" opacity="0.45"/><ellipse cx="346.0" cy="90.0" rx="1.8" ry="2.3" transform="rotate(0 346.0 90.0)" fill="#90c4e0"/><ellipse cx="346.0" cy="90.0" rx="1.0" ry="1.5" transform="rotate(0 346.0 90.0)" fill="#2d4f80"/>
<ellipse cx="448.5" cy="108.5" rx="3.2" ry="3.2" transform="rotate(0 448.5 108.5)" fill="#d9c4a8" opacity="0.45"/><ellipse cx="448.5" cy="108.5" rx="2.0" ry="2.0" transform="rotate(0 448.5 108.5)" fill="#90c4e0"/><ellipse cx="448.5" cy="108.5" rx="1.2" ry="1.2" transform="rotate(0 448.5 108.5)" fill="#2d4f80"/>
<ellipse cx="487.5" cy="79.0" rx="3.0" ry="3.0" transform="rotate(0 487.5 79.0)" fill="#d9c4a8" opacity="0.45"/><ellipse cx="487.5" cy="79.0" rx="1.8" ry="1.8" transform="rotate(0 487.5 79.0)" fill="#90c4e0"/><ellipse cx="487.5" cy="79.0" rx="1.0" ry="1.0" transform="rotate(0 487.5 79.0)" fill="#2d4f80"/>
<ellipse cx="410.0" cy="127.5" rx="3.5" ry="3.5" transform="rotate(0 410.0 127.5)" fill="#d9c4a8" opacity="0.45"/><ellipse cx="410.0" cy="127.5" rx="2.3" ry="2.3" transform="rotate(0 410.0 127.5)" fill="#90c4e0"/><ellipse cx="410.0" cy="127.5" rx="1.5" ry="1.5" transform="rotate(0 410.0 127.5)" fill="#2d4f80"/>
<ellipse cx="368.0" cy="124.0" rx="3.5" ry="3.5" transform="rotate(0 368.0 124.0)" fill="#d9c4a8" opacity="0.45"/><ellipse cx="368.0" cy="124.0" rx="2.3" ry="2.3" transform="rotate(0 368.0 124.0)" fill="#90c4e0"/><ellipse cx="368.0" cy="124.0" rx="1.5" ry="1.5" transform="rotate(0 368.0 124.0)" fill="#2d4f80"/>
<ellipse cx="445.0" cy="140.0" rx="2.3" ry="4.0" transform="rotate(-10 445.0 140.0)" fill="#a8d090"/><ellipse cx="445.0" cy="140.0" rx="1.3" ry="3.0" transform="rotate(-10 445.0 140.0)" fill="#2f6a2a"/>
<ellipse cx="460.0" cy="154.0" rx="4.0" ry="8.0" transform="rotate(-20 460.0 154.0)" fill="#d9c4a8" opacity="0.45"/><ellipse cx="460.0" cy="154.0" rx="2.8" ry="6.8" transform="rotate(-20 460.0 154.0)" fill="#90c4e0"/><ellipse cx="460.0" cy="154.0" rx="2.0" ry="6.0" transform="rotate(-20 460.0 154.0)" fill="#2d4f80"/>
<ellipse cx="463.0" cy="143.0" rx="3.0" ry="3.0" transform="rotate(0 463.0 143.0)" fill="#d9c4a8" opacity="0.45"/><ellipse cx="463.0" cy="143.0" rx="1.8" ry="1.8" transform="rotate(0 463.0 143.0)" fill="#90c4e0"/><ellipse cx="463.0" cy="143.0" rx="1.0" ry="1.0" transform="rotate(0 463.0 143.0)" fill="#2d4f80"/>
<ellipse cx="455.0" cy="162.0" rx="3.0" ry="3.0" transform="rotate(0 455.0 162.0)" fill="#d9c4a8" opacity="0.45"/><ellipse cx="455.0" cy="162.0" rx="1.8" ry="1.8" transform="rotate(0 455.0 162.0)" fill="#90c4e0"/><ellipse cx="455.0" cy="162.0" rx="1.0" ry="1.0" transform="rotate(0 455.0 162.0)" fill="#2d4f80"/>
<ellipse cx="365.0" cy="167.5" rx="3.5" ry="4.0" transform="rotate(0 365.0 167.5)" fill="#d9c4a8" opacity="0.45"/><ellipse cx="365.0" cy="167.5" rx="2.3" ry="2.8" transform="rotate(0 365.0 167.5)" fill="#90c4e0"/><ellipse cx="365.0" cy="167.5" rx="1.5" ry="2.0" transform="rotate(0 365.0 167.5)" fill="#2d4f80"/>
<ellipse cx="417.5" cy="191.5" rx="3.2" ry="2.6" transform="rotate(20 417.5 191.5)" fill="#a8d090"/><ellipse cx="417.5" cy="191.5" rx="2.2" ry="1.6" transform="rotate(20 417.5 191.5)" fill="#2f6a2a"/>
<ellipse cx="444.0" cy="189.0" rx="3.8" ry="3.3" transform="rotate(0 444.0 189.0)" fill="#d9c4a8" opacity="0.45"/><ellipse cx="444.0" cy="189.0" rx="2.6" ry="2.1" transform="rotate(0 444.0 189.0)" fill="#90c4e0"/><ellipse cx="444.0" cy="189.0" rx="1.8" ry="1.3" transform="rotate(0 444.0 189.0)" fill="#2d4f80"/>
<ellipse cx="353.5" cy="212.5" rx="3.8" ry="3.2" transform="rotate(0 353.5 212.5)" fill="#d9c4a8" opacity="0.45"/><ellipse cx="353.5" cy="212.5" rx="2.6" ry="2.0" transform="rotate(0 353.5 212.5)" fill="#90c4e0"/><ellipse cx="353.5" cy="212.5" rx="1.8" ry="1.2" transform="rotate(0 353.5 212.5)" fill="#2d4f80"/>
<ellipse cx="422.5" cy="220.0" rx="4.2" ry="3.5" transform="rotate(20 422.5 220.0)" fill="#d9c4a8" opacity="0.45"/><ellipse cx="422.5" cy="220.0" rx="3.0" ry="2.3" transform="rotate(20 422.5 220.0)" fill="#90c4e0"/><ellipse cx="422.5" cy="220.0" rx="2.2" ry="1.5" transform="rotate(20 422.5 220.0)" fill="#2d4f80"/>
<ellipse cx="462.5" cy="235.0" rx="3.3" ry="5.2" transform="rotate(10 462.5 235.0)" fill="#d9c4a8" opacity="0.45"/><ellipse cx="462.5" cy="235.0" rx="2.1" ry="4.0" transform="rotate(10 462.5 235.0)" fill="#90c4e0"/><ellipse cx="462.5" cy="235.0" rx="1.3" ry="3.2" transform="rotate(10 462.5 235.0)" fill="#2d4f80"/>
<ellipse cx="461.0" cy="224.0" rx="3.0" ry="3.0" transform="rotate(0 461.0 224.0)" fill="#d9c4a8" opacity="0.45"/><ellipse cx="461.0" cy="224.0" rx="1.8" ry="1.8" transform="rotate(0 461.0 224.0)" fill="#90c4e0"/><ellipse cx="461.0" cy="224.0" rx="1.0" ry="1.0" transform="rotate(0 461.0 224.0)" fill="#2d4f80"/>
<ellipse cx="455.0" cy="255.0" rx="2.2" ry="2.0" transform="rotate(0 455.0 255.0)" fill="#a8d090"/><ellipse cx="455.0" cy="255.0" rx="1.2" ry="1.0" transform="rotate(0 455.0 255.0)" fill="#2f6a2a"/>
<ellipse cx="387.5" cy="272.5" rx="3.2" ry="3.6" transform="rotate(0 387.5 272.5)" fill="#d9c4a8" opacity="0.45"/><ellipse cx="387.5" cy="272.5" rx="2.0" ry="2.4" transform="rotate(0 387.5 272.5)" fill="#90c4e0"/><ellipse cx="387.5" cy="272.5" rx="1.2" ry="1.6" transform="rotate(0 387.5 272.5)" fill="#2d4f80"/>
<ellipse cx="486.5" cy="131.0" rx="3.0" ry="3.5" transform="rotate(0 486.5 131.0)" fill="#d9c4a8" opacity="0.45"/><ellipse cx="486.5" cy="131.0" rx="1.8" ry="2.3" transform="rotate(0 486.5 131.0)" fill="#90c4e0"/><ellipse cx="486.5" cy="131.0" rx="1.0" ry="1.5" transform="rotate(0 486.5 131.0)" fill="#2d4f80"/>
<ellipse cx="467.5" cy="205.0" rx="3.2" ry="3.5" transform="rotate(0 467.5 205.0)" fill="#d9c4a8" opacity="0.45"/><ellipse cx="467.5" cy="205.0" rx="2.0" ry="2.3" transform="rotate(0 467.5 205.0)" fill="#90c4e0"/><ellipse cx="467.5" cy="205.0" rx="1.2" ry="1.5" transform="rotate(0 467.5 205.0)" fill="#2d4f80"/>
<ellipse cx="316.7" cy="131.0" rx="3.8" ry="4.5" transform="rotate(0 316.7 131.0)" fill="#d9c4a8" opacity="0.45"/><ellipse cx="316.7" cy="131.0" rx="2.6" ry="3.3" transform="rotate(0 316.7 131.0)" fill="#90c4e0"/><ellipse cx="316.7" cy="131.0" rx="1.8" ry="2.5" transform="rotate(0 316.7 131.0)" fill="#2d4f80"/>
<ellipse cx="321.0" cy="143.0" rx="3.6" ry="2.4" transform="rotate(20 321.0 143.0)" fill="#a8d090"/><ellipse cx="321.0" cy="143.0" rx="2.6" ry="1.4" transform="rotate(20 321.0 143.0)" fill="#2f6a2a"/>
<ellipse cx="306.0" cy="167.6" rx="3.8" ry="3.3" transform="rotate(20 306.0 167.6)" fill="#d9c4a8" opacity="0.45"/><ellipse cx="306.0" cy="167.6" rx="2.6" ry="2.1" transform="rotate(20 306.0 167.6)" fill="#90c4e0"/><ellipse cx="306.0" cy="167.6" rx="1.8" ry="1.3" transform="rotate(20 306.0 167.6)" fill="#2d4f80"/>
<ellipse cx="398.0" cy="330.0" rx="3.2" ry="3.2" transform="rotate(0 398.0 330.0)" fill="#d9c4a8" opacity="0.45"/><ellipse cx="398.0" cy="330.0" rx="2.0" ry="2.0" transform="rotate(0 398.0 330.0)" fill="#90c4e0"/><ellipse cx="398.0" cy="330.0" rx="1.2" ry="1.2" transform="rotate(0 398.0 330.0)" fill="#2d4f80"/>
<ellipse cx="455.0" cy="300.0" rx="3.2" ry="3.2" transform="rotate(0 455.0 300.0)" fill="#d9c4a8" opacity="0.45"/><ellipse cx="455.0" cy="300.0" rx="2.0" ry="2.0" transform="rotate(0 455.0 300.0)" fill="#90c4e0"/><ellipse cx="455.0" cy="300.0" rx="1.2" ry="1.2" transform="rotate(0 455.0 300.0)" fill="#2d4f80"/>
<ellipse cx="476.0" cy="300.0" rx="3.5" ry="3.2" transform="rotate(0 476.0 300.0)" fill="#d9c4a8" opacity="0.45"/><ellipse cx="476.0" cy="300.0" rx="2.3" ry="2.0" transform="rotate(0 476.0 300.0)" fill="#90c4e0"/><ellipse cx="476.0" cy="300.0" rx="1.5" ry="1.2" transform="rotate(0 476.0 300.0)" fill="#2d4f80"/>
<path d="M381,202 L386,208 L389,200" fill="none" stroke="#90c4e0" stroke-width="4" stroke-linejoin="round" stroke-linecap="round"/>
<path d="M381,202 L386,208 L389,200" fill="none" stroke="#2d4f80" stroke-width="2" stroke-linejoin="round" stroke-linecap="round"/>
<line x1="460" y1="160" x2="470" y2="185" stroke="#d8a090" stroke-width="0.8" opacity="0.7"/>
<line x1="462" y1="240" x2="468" y2="262" stroke="#d8a090" stroke-width="0.8" opacity="0.7"/>
<line x1="422" y1="220" x2="438" y2="232" stroke="#d8a090" stroke-width="0.8" opacity="0.7"/>
<line x1="448" y1="110" x2="460" y2="115" stroke="#d8a090" stroke-width="0.8" opacity="0.7"/>
<line x1="476" y1="56" x2="490" y2="40" stroke="#d8a090" stroke-width="0.8" opacity="0.7"/>
<line x1="359" y1="89" x2="372" y2="100" stroke="#d8a090" stroke-width="0.8" opacity="0.7"/>
<path d="M263.0,176.0 C264.3,174.5 263.8,173.2 267.0,177.0 C270.2,180.8 276.8,191.5 282.0,199.0 C287.2,206.5 295.2,217.2 298.0,222.0 C300.8,226.8 299.8,226.8 299.0,228.0 C298.2,229.2 300.2,229.5 293.0,229.5 C285.8,229.5 263.2,228.8 256.0,228.0 C248.8,227.2 250.7,228.0 250.0,225.0 C249.3,222.0 250.5,216.5 252.0,210.0 C253.5,203.5 257.2,191.7 259.0,186.0 C260.8,180.3 261.7,177.5 263.0,176.0Z" fill="#e6a48c" stroke="#f5e0d0" stroke-width="1"/>
<path d="M264.0,187.0 C267.3,189.0 275.5,202.0 280.0,208.0 C284.5,214.0 294.7,220.5 291.0,223.0 C287.3,225.5 263.8,224.5 258.0,223.0 C252.2,221.5 255.7,218.5 256.0,214.0 C256.3,209.5 258.7,200.5 260.0,196.0 C261.3,191.5 260.7,185.0 264.0,187.0Z" fill="#e9c2c2"/>
<ellipse cx="264.0" cy="205.0" rx="3.2" ry="4.2" transform="rotate(0 264.0 205.0)" fill="#d9c4a8" opacity="0.45"/><ellipse cx="264.0" cy="205.0" rx="2.0" ry="3.0" transform="rotate(0 264.0 205.0)" fill="#90c4e0"/><ellipse cx="264.0" cy="205.0" rx="1.2" ry="2.2" transform="rotate(0 264.0 205.0)" fill="#2d4f80"/>
<path d="M275.0,229.5 C279.3,229.4 285.1,230.1 290.0,231.0 C294.9,231.9 299.5,232.2 304.5,235.0 C309.5,237.8 315.9,242.5 320.0,248.0 C324.1,253.5 326.8,261.7 329.0,268.0 C331.2,274.3 331.1,279.8 333.0,286.0 C334.9,292.2 338.2,298.2 340.6,305.0 C343.0,311.8 346.1,319.5 347.4,327.0 C348.7,334.5 348.9,341.7 348.5,350.0 C348.1,358.3 347.1,368.3 345.0,377.0 C342.9,385.7 339.3,395.6 336.0,402.0 C332.7,408.4 328.8,413.1 325.0,415.5 C321.2,417.9 317.7,417.7 313.5,416.6 C309.3,415.5 304.5,413.3 300.0,409.0 C295.5,404.7 290.7,397.4 286.5,390.6 C282.3,383.8 278.8,376.3 275.0,368.0 C271.2,359.7 267.7,350.4 264.0,341.0 C260.3,331.6 255.4,321.0 252.6,311.6 C249.8,302.2 247.9,293.9 247.0,284.5 C246.1,275.1 245.7,262.9 247.0,255.0 C248.3,247.1 252.2,240.9 255.0,237.0 C257.8,233.1 260.7,232.8 264.0,231.5 C267.3,230.2 270.7,229.6 275.0,229.5Z" fill="#b27262" stroke="#fbf6ea" stroke-width="1.6"/>
<g clip-path="url(#clipK)">
<ellipse cx="280.0" cy="259.0" rx="19" ry="13" transform="rotate(-111 280.0 259.0)" fill="#d69c8b" opacity="1" filter="url(#blur1)"/>
<line x1="266.3" y1="247.2" x2="284.8" y2="271.4" stroke="#e4b4a4" stroke-width="0.5" opacity="0.45"/>
<line x1="267.9" y1="245.6" x2="284.8" y2="271.4" stroke="#e4b4a4" stroke-width="0.5" opacity="0.45"/>
<line x1="269.6" y1="244.3" x2="284.8" y2="271.4" stroke="#e4b4a4" stroke-width="0.5" opacity="0.45"/>
<line x1="271.4" y1="243.1" x2="284.8" y2="271.4" stroke="#e4b4a4" stroke-width="0.5" opacity="0.45"/>
<line x1="273.4" y1="242.2" x2="284.8" y2="271.4" stroke="#e4b4a4" stroke-width="0.5" opacity="0.45"/>
<line x1="275.5" y1="241.5" x2="284.8" y2="271.4" stroke="#e4b4a4" stroke-width="0.5" opacity="0.45"/>
<line x1="277.7" y1="241.1" x2="284.8" y2="271.4" stroke="#e4b4a4" stroke-width="0.5" opacity="0.45"/>
<line x1="279.9" y1="241.0" x2="284.8" y2="271.4" stroke="#e4b4a4" stroke-width="0.5" opacity="0.45"/>
<line x1="282.1" y1="241.1" x2="284.8" y2="271.4" stroke="#e4b4a4" stroke-width="0.5" opacity="0.45"/>
<ellipse cx="304.0" cy="263.0" rx="14" ry="11" transform="rotate(-89 304.0 263.0)" fill="#d69c8b" opacity="1" filter="url(#blur1)"/>
<line x1="298.0" y1="251.1" x2="303.8" y2="272.8" stroke="#e4b4a4" stroke-width="0.5" opacity="0.45"/>
<line x1="299.5" y1="250.5" x2="303.8" y2="272.8" stroke="#e4b4a4" stroke-width="0.5" opacity="0.45"/>
<line x1="301.0" y1="250.0" x2="303.8" y2="272.8" stroke="#e4b4a4" stroke-width="0.5" opacity="0.45"/>
<line x1="302.6" y1="249.8" x2="303.8" y2="272.8" stroke="#e4b4a4" stroke-width="0.5" opacity="0.45"/>
<line x1="304.2" y1="249.7" x2="303.8" y2="272.8" stroke="#e4b4a4" stroke-width="0.5" opacity="0.45"/>
<line x1="305.9" y1="249.8" x2="303.8" y2="272.8" stroke="#e4b4a4" stroke-width="0.5" opacity="0.45"/>
<line x1="307.5" y1="250.2" x2="303.8" y2="272.8" stroke="#e4b4a4" stroke-width="0.5" opacity="0.45"/>
<line x1="309.0" y1="250.7" x2="303.8" y2="272.8" stroke="#e4b4a4" stroke-width="0.5" opacity="0.45"/>
<line x1="310.5" y1="251.4" x2="303.8" y2="272.8" stroke="#e4b4a4" stroke-width="0.5" opacity="0.45"/>
<ellipse cx="275.0" cy="298.0" rx="18" ry="13" transform="rotate(-144 275.0 298.0)" fill="#d69c8b" opacity="1" filter="url(#blur1)"/>
<line x1="258.0" y1="295.8" x2="285.3" y2="305.3" stroke="#e4b4a4" stroke-width="0.5" opacity="0.45"/>
<line x1="258.4" y1="293.7" x2="285.3" y2="305.3" stroke="#e4b4a4" stroke-width="0.5" opacity="0.45"/>
<line x1="259.1" y1="291.7" x2="285.3" y2="305.3" stroke="#e4b4a4" stroke-width="0.5" opacity="0.45"/>
<line x1="260.0" y1="289.8" x2="285.3" y2="305.3" stroke="#e4b4a4" stroke-width="0.5" opacity="0.45"/>
<line x1="261.1" y1="288.1" x2="285.3" y2="305.3" stroke="#e4b4a4" stroke-width="0.5" opacity="0.45"/>
<line x1="262.4" y1="286.4" x2="285.3" y2="305.3" stroke="#e4b4a4" stroke-width="0.5" opacity="0.45"/>
<line x1="263.9" y1="285.0" x2="285.3" y2="305.3" stroke="#e4b4a4" stroke-width="0.5" opacity="0.45"/>
<line x1="265.6" y1="283.7" x2="285.3" y2="305.3" stroke="#e4b4a4" stroke-width="0.5" opacity="0.45"/>
<line x1="267.4" y1="282.7" x2="285.3" y2="305.3" stroke="#e4b4a4" stroke-width="0.5" opacity="0.45"/>
<ellipse cx="286.0" cy="334.0" rx="17" ry="13" transform="rotate(137 286.0 334.0)" fill="#d69c8b" opacity="1" filter="url(#blur1)"/>
<line x1="280.8" y1="349.3" x2="294.7" y2="325.8" stroke="#e4b4a4" stroke-width="0.5" opacity="0.45"/>
<line x1="279.0" y1="348.5" x2="294.7" y2="325.8" stroke="#e4b4a4" stroke-width="0.5" opacity="0.45"/>
<line x1="277.3" y1="347.6" x2="294.7" y2="325.8" stroke="#e4b4a4" stroke-width="0.5" opacity="0.45"/>
<line x1="275.7" y1="346.4" x2="294.7" y2="325.8" stroke="#e4b4a4" stroke-width="0.5" opacity="0.45"/>
<line x1="274.2" y1="345.1" x2="294.7" y2="325.8" stroke="#e4b4a4" stroke-width="0.5" opacity="0.45"/>
<line x1="273.0" y1="343.6" x2="294.7" y2="325.8" stroke="#e4b4a4" stroke-width="0.5" opacity="0.45"/>
<line x1="271.9" y1="341.9" x2="294.7" y2="325.8" stroke="#e4b4a4" stroke-width="0.5" opacity="0.45"/>
<line x1="271.1" y1="340.1" x2="294.7" y2="325.8" stroke="#e4b4a4" stroke-width="0.5" opacity="0.45"/>
<line x1="270.4" y1="338.3" x2="294.7" y2="325.8" stroke="#e4b4a4" stroke-width="0.5" opacity="0.45"/>
<ellipse cx="299.0" cy="372.0" rx="18" ry="12" transform="rotate(94 299.0 372.0)" fill="#d69c8b" opacity="1" filter="url(#blur1)"/>
<line x1="305.9" y1="387.7" x2="299.9" y2="359.4" stroke="#e4b4a4" stroke-width="0.5" opacity="0.45"/>
<line x1="303.9" y1="388.4" x2="299.9" y2="359.4" stroke="#e4b4a4" stroke-width="0.5" opacity="0.45"/>
<line x1="301.9" y1="388.9" x2="299.9" y2="359.4" stroke="#e4b4a4" stroke-width="0.5" opacity="0.45"/>
<line x1="299.8" y1="389.1" x2="299.9" y2="359.4" stroke="#e4b4a4" stroke-width="0.5" opacity="0.45"/>
<line x1="297.7" y1="389.1" x2="299.9" y2="359.4" stroke="#e4b4a4" stroke-width="0.5" opacity="0.45"/>
<line x1="295.7" y1="388.8" x2="299.9" y2="359.4" stroke="#e4b4a4" stroke-width="0.5" opacity="0.45"/>
<line x1="293.6" y1="388.2" x2="299.9" y2="359.4" stroke="#e4b4a4" stroke-width="0.5" opacity="0.45"/>
<line x1="291.7" y1="387.5" x2="299.9" y2="359.4" stroke="#e4b4a4" stroke-width="0.5" opacity="0.45"/>
<line x1="289.9" y1="386.5" x2="299.9" y2="359.4" stroke="#e4b4a4" stroke-width="0.5" opacity="0.45"/>
<ellipse cx="319.0" cy="375.0" rx="17" ry="11" transform="rotate(74 319.0 375.0)" fill="#d69c8b" opacity="1" filter="url(#blur1)"/>
<line x1="330.2" y1="386.7" x2="315.8" y2="363.5" stroke="#e4b4a4" stroke-width="0.5" opacity="0.45"/>
<line x1="328.6" y1="388.0" x2="315.8" y2="363.5" stroke="#e4b4a4" stroke-width="0.5" opacity="0.45"/>
<line x1="327.0" y1="389.0" x2="315.8" y2="363.5" stroke="#e4b4a4" stroke-width="0.5" opacity="0.45"/>
<line x1="325.2" y1="389.9" x2="315.8" y2="363.5" stroke="#e4b4a4" stroke-width="0.5" opacity="0.45"/>
<line x1="323.4" y1="390.5" x2="315.8" y2="363.5" stroke="#e4b4a4" stroke-width="0.5" opacity="0.45"/>
<line x1="321.4" y1="391.0" x2="315.8" y2="363.5" stroke="#e4b4a4" stroke-width="0.5" opacity="0.45"/>
<line x1="319.5" y1="391.1" x2="315.8" y2="363.5" stroke="#e4b4a4" stroke-width="0.5" opacity="0.45"/>
<line x1="317.5" y1="391.1" x2="315.8" y2="363.5" stroke="#e4b4a4" stroke-width="0.5" opacity="0.45"/>
<line x1="315.6" y1="390.8" x2="315.8" y2="363.5" stroke="#e4b4a4" stroke-width="0.5" opacity="0.45"/>
<ellipse cx="328.0" cy="337.0" rx="18" ry="11" transform="rotate(37 328.0 337.0)" fill="#d69c8b" opacity="1" filter="url(#blur1)"/>
<line x1="344.9" y1="339.7" x2="318.0" y2="329.4" stroke="#e4b4a4" stroke-width="0.5" opacity="0.45"/>
<line x1="344.4" y1="341.8" x2="318.0" y2="329.4" stroke="#e4b4a4" stroke-width="0.5" opacity="0.45"/>
<line x1="343.7" y1="343.7" x2="318.0" y2="329.4" stroke="#e4b4a4" stroke-width="0.5" opacity="0.45"/>
<line x1="342.8" y1="345.6" x2="318.0" y2="329.4" stroke="#e4b4a4" stroke-width="0.5" opacity="0.45"/>
<line x1="341.6" y1="347.3" x2="318.0" y2="329.4" stroke="#e4b4a4" stroke-width="0.5" opacity="0.45"/>
<line x1="340.3" y1="348.9" x2="318.0" y2="329.4" stroke="#e4b4a4" stroke-width="0.5" opacity="0.45"/>
<line x1="338.7" y1="350.3" x2="318.0" y2="329.4" stroke="#e4b4a4" stroke-width="0.5" opacity="0.45"/>
<line x1="337.0" y1="351.5" x2="318.0" y2="329.4" stroke="#e4b4a4" stroke-width="0.5" opacity="0.45"/>
<line x1="335.2" y1="352.5" x2="318.0" y2="329.4" stroke="#e4b4a4" stroke-width="0.5" opacity="0.45"/>
<ellipse cx="323.0" cy="306.0" rx="10" ry="9" transform="rotate(-31 323.0 306.0)" fill="#d69c8b" opacity="1" filter="url(#blur1)"/>
<line x1="327.9" y1="297.9" x2="317.0" y2="309.6" stroke="#e4b4a4" stroke-width="0.5" opacity="0.45"/>
<line x1="328.9" y1="298.5" x2="317.0" y2="309.6" stroke="#e4b4a4" stroke-width="0.5" opacity="0.45"/>
<line x1="329.7" y1="299.3" x2="317.0" y2="309.6" stroke="#e4b4a4" stroke-width="0.5" opacity="0.45"/>
<line x1="330.5" y1="300.2" x2="317.0" y2="309.6" stroke="#e4b4a4" stroke-width="0.5" opacity="0.45"/>
<line x1="331.1" y1="301.1" x2="317.0" y2="309.6" stroke="#e4b4a4" stroke-width="0.5" opacity="0.45"/>
<line x1="331.7" y1="302.1" x2="317.0" y2="309.6" stroke="#e4b4a4" stroke-width="0.5" opacity="0.45"/>
<line x1="332.1" y1="303.2" x2="317.0" y2="309.6" stroke="#e4b4a4" stroke-width="0.5" opacity="0.45"/>
<line x1="332.4" y1="304.4" x2="317.0" y2="309.6" stroke="#e4b4a4" stroke-width="0.5" opacity="0.45"/>
<line x1="332.5" y1="305.5" x2="317.0" y2="309.6" stroke="#e4b4a4" stroke-width="0.5" opacity="0.45"/>
<ellipse cx="272.0" cy="354.0" rx="10" ry="8" transform="rotate(131 272.0 354.0)" fill="#d69c8b" opacity="1" filter="url(#blur1)"/>
<line x1="269.9" y1="363.3" x2="276.6" y2="348.7" stroke="#e4b4a4" stroke-width="0.5" opacity="0.45"/>
<line x1="268.8" y1="362.9" x2="276.6" y2="348.7" stroke="#e4b4a4" stroke-width="0.5" opacity="0.45"/>
<line x1="267.7" y1="362.5" x2="276.6" y2="348.7" stroke="#e4b4a4" stroke-width="0.5" opacity="0.45"/>
<line x1="266.7" y1="361.9" x2="276.6" y2="348.7" stroke="#e4b4a4" stroke-width="0.5" opacity="0.45"/>
<line x1="265.8" y1="361.2" x2="276.6" y2="348.7" stroke="#e4b4a4" stroke-width="0.5" opacity="0.45"/>
<line x1="265.0" y1="360.4" x2="276.6" y2="348.7" stroke="#e4b4a4" stroke-width="0.5" opacity="0.45"/>
<line x1="264.2" y1="359.5" x2="276.6" y2="348.7" stroke="#e4b4a4" stroke-width="0.5" opacity="0.45"/>
<line x1="263.6" y1="358.5" x2="276.6" y2="348.7" stroke="#e4b4a4" stroke-width="0.5" opacity="0.45"/>
<line x1="263.1" y1="357.4" x2="276.6" y2="348.7" stroke="#e4b4a4" stroke-width="0.5" opacity="0.45"/>
</g>
<path d="M286.0,276.0 C287.3,273.7 290.8,272.7 293.0,272.0 C295.2,271.3 297.2,270.5 299.0,272.0 C300.8,273.5 302.2,278.0 304.0,281.0 C305.8,284.0 308.2,287.0 310.0,290.0 C311.8,293.0 314.2,294.3 315.0,299.0 C315.8,303.7 314.7,312.8 315.0,318.0 C315.3,323.2 316.8,325.5 317.0,330.0 C317.2,334.5 316.3,340.5 316.0,345.0 C315.7,349.5 315.5,353.8 315.0,357.0 C314.5,360.2 314.0,362.7 313.0,364.0 C312.0,365.3 310.3,366.3 309.0,365.0 C307.7,363.7 306.2,359.5 305.0,356.0 C303.8,352.5 302.7,349.2 302.0,344.0 C301.3,338.8 302.0,329.2 301.0,325.0 C300.0,320.8 297.7,320.3 296.0,319.0 C294.3,317.7 292.2,319.3 291.0,317.0 C289.8,314.7 289.2,308.7 289.0,305.0 C288.8,301.3 290.7,298.2 290.0,295.0 C289.3,291.8 285.7,289.2 285.0,286.0 C284.3,282.8 284.7,278.3 286.0,276.0Z" fill="#e3d29c" stroke="#a88860" stroke-width="0.6"/>
<path d="M294.0,277.0 C295.3,275.7 299.5,276.0 301.0,277.0 C302.5,278.0 303.2,280.8 303.0,283.0 C302.8,285.2 301.2,288.7 300.0,290.0 C298.8,291.3 297.2,291.8 296.0,291.0 C294.8,290.2 293.3,287.3 293.0,285.0 C292.7,282.7 292.7,278.3 294.0,277.0Z" fill="#ddd4c8" stroke="#6a5a52" stroke-width="0.9"/>
<path d="M293.0,293.0 C294.2,291.3 297.8,290.5 299.0,292.0 C300.2,293.5 300.2,298.7 300.0,302.0 C299.8,305.3 299.2,310.3 298.0,312.0 C296.8,313.7 294.0,313.7 293.0,312.0 C292.0,310.3 292.0,305.2 292.0,302.0 C292.0,298.8 291.8,294.7 293.0,293.0Z" fill="#ddd4c8" stroke="#6a5a52" stroke-width="0.9"/>
<path d="M306.0,310.0 C307.5,308.2 311.3,307.0 313.0,309.0 C314.7,311.0 315.7,316.8 316.0,322.0 C316.3,327.2 315.7,335.0 315.0,340.0 C314.3,345.0 313.5,350.0 312.0,352.0 C310.5,354.0 307.3,354.8 306.0,352.0 C304.7,349.2 304.3,340.3 304.0,335.0 C303.7,329.7 303.7,324.2 304.0,320.0 C304.3,315.8 304.5,311.8 306.0,310.0Z" fill="#ddd4c8" stroke="#6a5a52" stroke-width="0.9"/>
<path d="M296.5,280.0 C296.9,278.8 298.9,279.0 299.5,280.0 C300.1,281.0 300.4,284.8 300.0,286.0 C299.6,287.2 297.6,288.0 297.0,287.0 C296.4,286.0 296.1,281.2 296.5,280.0Z" fill="#7a706c"/>
<path d="M295.0,297.0 C295.3,295.2 296.6,295.5 297.0,297.0 C297.4,298.5 297.8,304.2 297.5,306.0 C297.2,307.8 295.4,309.5 295.0,308.0 C294.6,306.5 294.7,298.8 295.0,297.0Z" fill="#7a706c"/>
<path d="M308.5,315.0 C309.2,312.5 310.8,312.5 311.5,315.0 C312.2,317.5 313.1,324.8 313.0,330.0 C312.9,335.2 311.8,343.3 311.0,346.0 C310.2,348.7 309.2,348.7 308.5,346.0 C307.8,343.3 307.0,335.2 307.0,330.0 C307.0,324.8 307.8,317.5 308.5,315.0Z" fill="#7a706c"/>
<ellipse cx="309.4" cy="304.4" rx="8.0" ry="6.5" transform="rotate(-15 309.4 304.4)" fill="#d9c4a8" opacity="0.45"/><ellipse cx="309.4" cy="304.4" rx="6.8" ry="5.3" transform="rotate(-15 309.4 304.4)" fill="#90c4e0"/><ellipse cx="309.4" cy="304.4" rx="6.0" ry="4.5" transform="rotate(-15 309.4 304.4)" fill="#2d4f80"/>
<ellipse cx="287.4" cy="287.0" rx="6.0" ry="4.5" transform="rotate(15 287.4 287.0)" fill="#d9c4a8" opacity="0.45"/><ellipse cx="287.4" cy="287.0" rx="4.8" ry="3.3" transform="rotate(15 287.4 287.0)" fill="#90c4e0"/><ellipse cx="287.4" cy="287.0" rx="4.0" ry="2.5" transform="rotate(15 287.4 287.0)" fill="#2d4f80"/>
<ellipse cx="292.7" cy="275.0" rx="4.0" ry="4.5" transform="rotate(30 292.7 275.0)" fill="#d9c4a8" opacity="0.45"/><ellipse cx="292.7" cy="275.0" rx="2.8" ry="3.3" transform="rotate(30 292.7 275.0)" fill="#90c4e0"/><ellipse cx="292.7" cy="275.0" rx="2.0" ry="2.5" transform="rotate(30 292.7 275.0)" fill="#2d4f80"/>
<ellipse cx="297.7" cy="314.3" rx="4.5" ry="3.7" transform="rotate(-20 297.7 314.3)" fill="#d9c4a8" opacity="0.45"/><ellipse cx="297.7" cy="314.3" rx="3.3" ry="2.5" transform="rotate(-20 297.7 314.3)" fill="#90c4e0"/><ellipse cx="297.7" cy="314.3" rx="2.5" ry="1.7" transform="rotate(-20 297.7 314.3)" fill="#2d4f80"/>
<ellipse cx="316.3" cy="328.8" rx="3.6" ry="5.2" transform="rotate(0 316.3 328.8)" fill="#d9c4a8" opacity="0.45"/><ellipse cx="316.3" cy="328.8" rx="2.4" ry="4.0" transform="rotate(0 316.3 328.8)" fill="#90c4e0"/><ellipse cx="316.3" cy="328.8" rx="1.6" ry="3.2" transform="rotate(0 316.3 328.8)" fill="#2d4f80"/>
<ellipse cx="312.4" cy="359.4" rx="4.4" ry="6.4" transform="rotate(0 312.4 359.4)" fill="#d9c4a8" opacity="0.45"/><ellipse cx="312.4" cy="359.4" rx="3.2" ry="5.2" transform="rotate(0 312.4 359.4)" fill="#90c4e0"/><ellipse cx="312.4" cy="359.4" rx="2.4" ry="4.4" transform="rotate(0 312.4 359.4)" fill="#2d4f80"/>
<ellipse cx="304.0" cy="292.7" rx="3.5" ry="6.0" transform="rotate(15 304.0 292.7)" fill="#f0a0a0"/><ellipse cx="304.0" cy="292.7" rx="2.5" ry="5.0" transform="rotate(15 304.0 292.7)" fill="#c8202c"/>
<ellipse cx="283.4" cy="278.3" rx="2.3" ry="2.8" transform="rotate(-30 283.4 278.3)" fill="#f0a0a0"/><ellipse cx="283.4" cy="278.3" rx="1.3" ry="1.8" transform="rotate(-30 283.4 278.3)" fill="#c8202c"/>
<ellipse cx="297.3" cy="273.5" rx="2.0" ry="2.6" transform="rotate(0 297.3 273.5)" fill="#f0a0a0"/><ellipse cx="297.3" cy="273.5" rx="1.0" ry="1.6" transform="rotate(0 297.3 273.5)" fill="#c8202c"/>
<ellipse cx="290.3" cy="292.3" rx="2.1" ry="2.1" transform="rotate(0 290.3 292.3)" fill="#f0a0a0"/><ellipse cx="290.3" cy="292.3" rx="1.1" ry="1.1" transform="rotate(0 290.3 292.3)" fill="#c8202c"/>
<ellipse cx="290.0" cy="314.3" rx="2.2" ry="2.0" transform="rotate(0 290.0 314.3)" fill="#f0a0a0"/><ellipse cx="290.0" cy="314.3" rx="1.2" ry="1.0" transform="rotate(0 290.0 314.3)" fill="#c8202c"/>
<ellipse cx="315.0" cy="335.5" rx="1.9" ry="2.0" transform="rotate(0 315.0 335.5)" fill="#f0a0a0"/><ellipse cx="315.0" cy="335.5" rx="0.9" ry="1.0" transform="rotate(0 315.0 335.5)" fill="#c8202c"/>
<ellipse cx="303.3" cy="350.8" rx="2.1" ry="2.3" transform="rotate(0 303.3 350.8)" fill="#f0a0a0"/><ellipse cx="303.3" cy="350.8" rx="1.1" ry="1.3" transform="rotate(0 303.3 350.8)" fill="#c8202c"/>
<ellipse cx="316.3" cy="354.4" rx="2.1" ry="2.5" transform="rotate(0 316.3 354.4)" fill="#f0a0a0"/><ellipse cx="316.3" cy="354.4" rx="1.1" ry="1.5" transform="rotate(0 316.3 354.4)" fill="#c8202c"/>
<path d="M238.0,200.0 C238.0,206.7 237.3,226.7 238.0,240.0 C238.7,253.3 240.0,265.0 242.0,280.0 C244.0,295.0 246.7,315.0 250.0,330.0 C253.3,345.0 257.3,356.7 262.0,370.0 C266.7,383.3 273.3,398.3 278.0,410.0 C282.7,421.7 287.7,425.0 290.0,440.0 C292.3,455.0 291.5,480.0 292.0,500.0 C292.5,520.0 292.8,550.0 293.0,560.0" fill="none" stroke="#fbf7ea" stroke-width="1.3"/>
<path d="M300.0,230.0 C303.0,231.7 312.2,234.7 318.0,240.0 C323.8,245.3 329.7,252.0 335.0,262.0 C340.3,272.0 346.5,288.7 350.0,300.0 C353.5,311.3 355.2,318.3 356.0,330.0 C356.8,341.7 356.8,357.5 355.0,370.0 C353.2,382.5 348.3,393.3 345.0,405.0 C341.7,416.7 336.8,427.5 335.0,440.0 C333.2,452.5 333.2,466.7 334.0,480.0 C334.8,493.3 337.3,506.7 340.0,520.0 C342.7,533.3 348.3,553.3 350.0,560.0" fill="none" stroke="#fbf7ea" stroke-width="1.3"/>
<path d="M338.0,300.0 C340.3,302.7 348.0,311.0 352.0,316.0 C356.0,321.0 359.3,325.2 362.0,330.0 C364.7,334.8 367.0,342.5 368.0,345.0" fill="none" stroke="#fbf7ea" stroke-width="1.3"/>
<path d="M375.6,348.7 C377.7,346.4 378.5,345.4 382.0,344.0 C385.5,342.6 392.0,339.6 399.0,339.5 C406.0,339.4 420.4,342.2 428.8,343.5 C437.2,344.8 447.3,346.8 455.0,348.0 C462.7,349.2 468.8,350.4 480.0,351.5 C491.2,352.6 522.5,353.2 530.0,355.0 C537.5,356.8 537.5,362.1 530.0,363.5 C522.5,364.9 492.8,363.8 480.0,364.5 C467.2,365.2 451.6,366.8 444.5,368.4 C437.4,370.0 435.7,371.9 432.7,375.0 C429.7,378.1 427.5,383.9 424.8,389.0 C422.1,394.1 417.4,403.8 415.0,408.8 C412.6,413.8 410.5,418.5 409.0,422.6 C407.5,426.7 406.8,432.5 405.0,436.0 C403.2,439.5 400.8,444.1 397.0,446.0 C393.2,447.9 384.2,449.1 379.5,448.5 C374.8,447.9 368.9,445.0 365.8,442.0 C362.7,439.0 360.0,434.1 358.9,428.5 C357.8,422.9 358.4,410.9 358.5,405.0 C358.6,399.1 359.1,393.9 359.8,389.0 C360.5,384.1 361.8,376.4 363.0,372.0 C364.2,367.6 365.8,363.0 367.7,359.5 C369.6,356.0 373.5,351.0 375.6,348.7Z" fill="#e9a696" stroke="#fbefe6" stroke-width="1.2"/>
<path d="M379.5,352.0 C381.8,350.1 383.1,349.1 386.0,348.0 C388.9,346.9 392.7,344.6 399.0,345.0 C405.3,345.4 419.6,349.5 428.0,351.0 C436.4,352.5 447.2,354.0 455.0,355.0 C462.8,356.0 468.8,356.8 480.0,357.5 C491.2,358.2 522.5,359.0 530.0,359.5 C537.5,360.0 537.5,360.8 530.0,361.0 C522.5,361.2 493.2,360.6 480.0,361.0 C466.8,361.4 449.6,362.4 442.0,364.0 C434.4,365.6 432.3,368.6 429.0,372.0 C425.7,375.4 422.7,381.9 420.0,387.0 C417.3,392.1 413.2,401.1 411.0,406.0 C408.8,410.9 406.5,415.9 405.0,420.0 C403.5,424.1 402.6,429.7 401.0,433.0 C399.4,436.3 397.1,440.4 394.0,442.0 C390.9,443.6 383.8,444.1 380.0,443.5 C376.2,442.9 371.5,440.5 369.0,438.0 C366.5,435.5 364.4,431.9 363.5,427.0 C362.6,422.1 362.9,410.7 363.0,405.0 C363.1,399.3 363.4,393.8 364.0,389.0 C364.6,384.2 365.9,377.2 367.0,373.0 C368.1,368.8 369.1,364.1 371.0,361.0 C372.9,357.9 377.2,353.9 379.5,352.0Z" fill="url(#lumen)"/>
<path d="M377.5,350.5 C378.6,349.8 380.4,347.4 384.0,346.0 C387.6,344.6 391.6,341.8 399.0,341.8 C406.4,341.8 419.2,344.4 428.5,345.8 C437.8,347.2 446.4,348.9 455.0,350.2 C463.6,351.5 467.5,352.7 480.0,353.8 C492.5,354.9 521.7,356.5 530.0,357.0" fill="none" stroke="#f6cfc2" stroke-width="0.9" opacity="0.9"/>
<g clip-path="url(#clipDU)" opacity="0.35">
<circle cx="418" cy="352" r="14" fill="none" stroke="#dc9a94" stroke-width="2.2"/>
<circle cx="418" cy="352" r="17" fill="none" stroke="#7e3a42" stroke-width="1.2" opacity="0.6"/>
<circle cx="418" cy="352" r="23" fill="none" stroke="#dc9a94" stroke-width="2.2"/>
<circle cx="418" cy="352" r="26" fill="none" stroke="#7e3a42" stroke-width="1.2" opacity="0.6"/>
<circle cx="418" cy="352" r="32" fill="none" stroke="#dc9a94" stroke-width="2.2"/>
<circle cx="418" cy="352" r="35" fill="none" stroke="#7e3a42" stroke-width="1.2" opacity="0.6"/>
<circle cx="418" cy="352" r="41" fill="none" stroke="#dc9a94" stroke-width="2.2"/>
<circle cx="418" cy="352" r="44" fill="none" stroke="#7e3a42" stroke-width="1.2" opacity="0.6"/>
<circle cx="418" cy="352" r="50" fill="none" stroke="#dc9a94" stroke-width="2.2"/>
<circle cx="418" cy="352" r="53" fill="none" stroke="#7e3a42" stroke-width="1.2" opacity="0.6"/>
<circle cx="418" cy="352" r="59" fill="none" stroke="#dc9a94" stroke-width="2.2"/>
<circle cx="418" cy="352" r="62" fill="none" stroke="#7e3a42" stroke-width="1.2" opacity="0.6"/>
<circle cx="418" cy="352" r="68" fill="none" stroke="#dc9a94" stroke-width="2.2"/>
<circle cx="418" cy="352" r="71" fill="none" stroke="#7e3a42" stroke-width="1.2" opacity="0.6"/>
<circle cx="418" cy="352" r="77" fill="none" stroke="#dc9a94" stroke-width="2.2"/>
<circle cx="418" cy="352" r="80" fill="none" stroke="#7e3a42" stroke-width="1.2" opacity="0.6"/>
<circle cx="418" cy="352" r="86" fill="none" stroke="#dc9a94" stroke-width="2.2"/>
<circle cx="418" cy="352" r="89" fill="none" stroke="#7e3a42" stroke-width="1.2" opacity="0.6"/>
</g>
<path d="M530.0,370.0 C525.0,370.2 510.0,370.7 500.0,371.0 C490.0,371.3 478.0,371.5 470.0,372.0 C462.0,372.5 457.0,372.7 452.0,374.0 C447.0,375.3 443.3,377.3 440.0,380.0 C436.7,382.7 434.3,385.8 432.0,390.0 C429.7,394.2 427.8,400.0 426.0,405.0 C424.2,410.0 422.5,415.7 421.0,420.0 C419.5,424.3 418.0,428.7 417.0,431.0 C416.0,433.3 415.3,433.5 415.0,434.0" fill="none" stroke="#fbf3ea" stroke-width="7" stroke-linejoin="round"/>
<path d="M415.0,434.0 C415.8,433.7 417.5,432.8 420.0,432.0 C422.5,431.2 425.8,429.3 430.0,429.0 C434.2,428.7 440.3,429.0 445.0,430.0 C449.7,431.0 454.5,432.3 458.0,435.0 C461.5,437.7 464.0,442.2 466.0,446.0 C468.0,449.8 469.0,452.3 470.0,458.0 C471.0,463.7 470.7,473.8 472.0,480.0 C473.3,486.2 475.0,490.0 478.0,495.0 C481.0,500.0 486.0,505.2 490.0,510.0 C494.0,514.8 498.7,519.0 502.0,524.0 C505.3,529.0 508.7,537.3 510.0,540.0" fill="none" stroke="#fbf3ea" stroke-width="8" stroke-linejoin="round"/>
<path d="M530.0,370.0 C525.0,370.2 510.0,370.7 500.0,371.0 C490.0,371.3 478.0,371.5 470.0,372.0 C462.0,372.5 457.0,372.7 452.0,374.0 C447.0,375.3 443.3,377.3 440.0,380.0 C436.7,382.7 434.3,385.8 432.0,390.0 C429.7,394.2 427.8,400.0 426.0,405.0 C424.2,410.0 422.5,415.7 421.0,420.0 C419.5,424.3 418.0,428.7 417.0,431.0 C416.0,433.3 415.3,433.5 415.0,434.0" fill="none" stroke="#3a2424" stroke-width="4.6" stroke-linejoin="round"/>
<path d="M415.0,434.0 C415.8,433.7 417.5,432.8 420.0,432.0 C422.5,431.2 425.8,429.3 430.0,429.0 C434.2,428.7 440.3,429.0 445.0,430.0 C449.7,431.0 454.5,432.3 458.0,435.0 C461.5,437.7 464.0,442.2 466.0,446.0 C468.0,449.8 469.0,452.3 470.0,458.0 C471.0,463.7 470.7,473.8 472.0,480.0 C473.3,486.2 475.0,490.0 478.0,495.0 C481.0,500.0 486.0,505.2 490.0,510.0 C494.0,514.8 498.7,519.0 502.0,524.0 C505.3,529.0 508.7,537.3 510.0,540.0" fill="none" stroke="#3a2424" stroke-width="5.6" stroke-linejoin="round"/>
<circle cx="415.5" cy="433.5" r="2.4" fill="#3a2424"/>
<ellipse cx="429" cy="471.5" rx="35.5" ry="38" transform="rotate(-12 429 471.5)" fill="#e9a696" stroke="#fbefe6" stroke-width="1.2"/>
<ellipse cx="429" cy="471.5" rx="33" ry="35.5" transform="rotate(-12 429 471.5)" fill="none" stroke="#f6cfc2" stroke-width="0.9"/>
<ellipse cx="429.5" cy="472" rx="30.5" ry="33" transform="rotate(-12 429.5 472)" fill="url(#lumen2)"/>
<g opacity="0.5">
<ellipse cx="435" cy="482" rx="7" ry="5" fill="none" stroke="#e0a09a" stroke-width="1.8"/>
<ellipse cx="435" cy="482" rx="12" ry="10" fill="none" stroke="#e0a09a" stroke-width="1.8"/>
<ellipse cx="435" cy="482" rx="17" ry="15" fill="none" stroke="#e0a09a" stroke-width="1.8"/>
<ellipse cx="435" cy="482" rx="22" ry="20" fill="none" stroke="#e0a09a" stroke-width="1.8"/>
<ellipse cx="435" cy="482" rx="27" ry="25" fill="none" stroke="#e0a09a" stroke-width="1.8"/>
</g>
<path d="M243,590 L243.5,552 Q246,537 262,535 Q279,537 281,552 L281,590 Z" fill="#ece2cc" stroke="#f8f2e6" stroke-width="1"/>
<ellipse cx="261.0" cy="551.8" rx="0.7" ry="1.0" fill="#8c7456" opacity="0.85"/>
<ellipse cx="248.2" cy="555.6" rx="1.4" ry="0.5" fill="#8c7456" opacity="0.85"/>
<ellipse cx="263.5" cy="558.9" rx="0.6" ry="0.7" fill="#8c7456" opacity="0.85"/>
<ellipse cx="267.7" cy="554.1" rx="1.3" ry="0.6" fill="#8c7456" opacity="0.85"/>
<ellipse cx="254.7" cy="544.2" rx="1.1" ry="1.1" fill="#8c7456" opacity="0.85"/>
<ellipse cx="264.5" cy="563.5" rx="0.9" ry="0.9" fill="#8c7456" opacity="0.85"/>
<ellipse cx="250.8" cy="549.4" rx="1.2" ry="0.9" fill="#8c7456" opacity="0.85"/>
<ellipse cx="259.8" cy="543.5" rx="0.8" ry="0.6" fill="#8c7456" opacity="0.85"/>
<ellipse cx="255.9" cy="564.5" rx="0.8" ry="1.0" fill="#8c7456" opacity="0.85"/>
<ellipse cx="272.6" cy="542.6" rx="0.9" ry="0.8" fill="#8c7456" opacity="0.85"/>
<ellipse cx="248.7" cy="553.3" rx="1.4" ry="0.6" fill="#8c7456" opacity="0.85"/>
<ellipse cx="264.7" cy="544.5" rx="1.1" ry="1.0" fill="#8c7456" opacity="0.85"/>
<ellipse cx="253.7" cy="541.2" rx="0.7" ry="0.8" fill="#8c7456" opacity="0.85"/>
<ellipse cx="248.5" cy="543.5" rx="1.0" ry="1.1" fill="#8c7456" opacity="0.85"/>
<ellipse cx="259.8" cy="552.5" rx="1.2" ry="0.6" fill="#8c7456" opacity="0.85"/>
<ellipse cx="264.2" cy="546.0" rx="1.1" ry="1.1" fill="#8c7456" opacity="0.85"/>
<ellipse cx="249.5" cy="557.1" rx="1.1" ry="0.6" fill="#8c7456" opacity="0.85"/>
<ellipse cx="255.5" cy="569.9" rx="1.5" ry="0.6" fill="#8c7456" opacity="0.85"/>
<ellipse cx="267.8" cy="568.6" rx="0.8" ry="0.9" fill="#8c7456" opacity="0.85"/>
<ellipse cx="249.2" cy="551.6" rx="1.2" ry="0.9" fill="#8c7456" opacity="0.85"/>
<ellipse cx="269.7" cy="543.5" rx="0.9" ry="1.0" fill="#8c7456" opacity="0.85"/>
<ellipse cx="264.4" cy="554.1" rx="1.0" ry="1.1" fill="#8c7456" opacity="0.85"/>
<ellipse cx="264.1" cy="541.5" rx="1.3" ry="0.7" fill="#8c7456" opacity="0.85"/>
<ellipse cx="260.1" cy="547.2" rx="1.0" ry="0.7" fill="#8c7456" opacity="0.85"/>
<ellipse cx="250.5" cy="559.3" rx="0.7" ry="1.0" fill="#8c7456" opacity="0.85"/>
<ellipse cx="248.7" cy="563.6" rx="1.3" ry="0.8" fill="#8c7456" opacity="0.85"/>
<ellipse cx="267.9" cy="548.2" rx="1.3" ry="0.8" fill="#8c7456" opacity="0.85"/>
<ellipse cx="254.5" cy="569.0" rx="1.0" ry="0.7" fill="#8c7456" opacity="0.85"/>
<ellipse cx="272.1" cy="551.7" rx="1.2" ry="0.6" fill="#8c7456" opacity="0.85"/>
<ellipse cx="271.6" cy="548.5" rx="0.6" ry="1.1" fill="#8c7456" opacity="0.85"/>
<ellipse cx="252.8" cy="568.4" rx="1.5" ry="0.9" fill="#8c7456" opacity="0.85"/>
<ellipse cx="248.3" cy="542.8" rx="0.8" ry="0.7" fill="#8c7456" opacity="0.85"/>
<ellipse cx="265.1" cy="569.0" rx="0.9" ry="0.6" fill="#8c7456" opacity="0.85"/>
<ellipse cx="263.7" cy="545.0" rx="0.7" ry="0.8" fill="#8c7456" opacity="0.85"/>
<ellipse cx="267.5" cy="542.9" rx="1.0" ry="0.9" fill="#8c7456" opacity="0.85"/>
<ellipse cx="269.4" cy="552.1" rx="1.4" ry="0.6" fill="#8c7456" opacity="0.85"/>
<ellipse cx="268.0" cy="563.4" rx="1.4" ry="0.8" fill="#8c7456" opacity="0.85"/>
<ellipse cx="250.8" cy="542.4" rx="1.1" ry="0.6" fill="#8c7456" opacity="0.85"/>
<ellipse cx="265.6" cy="543.4" rx="1.3" ry="0.6" fill="#8c7456" opacity="0.85"/>
<ellipse cx="248.4" cy="546.1" rx="1.0" ry="0.8" fill="#8c7456" opacity="0.85"/>
<ellipse cx="258.9" cy="546.0" rx="1.0" ry="1.1" fill="#8c7456" opacity="0.85"/>
<ellipse cx="263.0" cy="568.3" rx="0.6" ry="1.1" fill="#8c7456" opacity="0.85"/>
<ellipse cx="272.9" cy="556.8" rx="1.1" ry="0.8" fill="#8c7456" opacity="0.85"/>
<ellipse cx="273.5" cy="542.9" rx="1.2" ry="0.8" fill="#8c7456" opacity="0.85"/>
<ellipse cx="256.4" cy="562.0" rx="1.2" ry="0.6" fill="#8c7456" opacity="0.85"/>
<ellipse cx="267.6" cy="554.2" rx="1.0" ry="0.9" fill="#8c7456" opacity="0.85"/>
<ellipse cx="249.5" cy="558.5" rx="0.9" ry="1.0" fill="#8c7456" opacity="0.85"/>
<ellipse cx="254.5" cy="564.9" rx="1.3" ry="0.9" fill="#8c7456" opacity="0.85"/>
<ellipse cx="272.5" cy="542.0" rx="1.1" ry="0.9" fill="#8c7456" opacity="0.85"/>
<ellipse cx="267.0" cy="552.8" rx="0.7" ry="0.6" fill="#8c7456" opacity="0.85"/>
<ellipse cx="265.0" cy="546.3" rx="0.7" ry="0.7" fill="#8c7456" opacity="0.85"/>
<ellipse cx="261.2" cy="556.5" rx="0.6" ry="1.0" fill="#8c7456" opacity="0.85"/>
<ellipse cx="257.3" cy="563.7" rx="0.6" ry="1.1" fill="#8c7456" opacity="0.85"/>
<ellipse cx="264.5" cy="569.3" rx="1.5" ry="1.0" fill="#8c7456" opacity="0.85"/>
<ellipse cx="251.0" cy="551.1" rx="0.8" ry="1.0" fill="#8c7456" opacity="0.85"/>
<ellipse cx="253.4" cy="547.4" rx="0.7" ry="0.6" fill="#8c7456" opacity="0.85"/>
<ellipse cx="274.3" cy="569.3" rx="0.9" ry="0.9" fill="#8c7456" opacity="0.85"/>
<ellipse cx="261.1" cy="556.1" rx="0.9" ry="0.9" fill="#8c7456" opacity="0.85"/>
<ellipse cx="254.6" cy="548.4" rx="1.1" ry="0.6" fill="#8c7456" opacity="0.85"/>
<ellipse cx="260.3" cy="568.4" rx="0.6" ry="0.6" fill="#8c7456" opacity="0.85"/>
<ellipse cx="270.4" cy="542.7" rx="0.8" ry="1.0" fill="#8c7456" opacity="0.85"/>
<ellipse cx="264.9" cy="547.4" rx="0.7" ry="0.7" fill="#8c7456" opacity="0.85"/>
<ellipse cx="256.4" cy="564.2" rx="1.5" ry="1.0" fill="#8c7456" opacity="0.85"/>
<ellipse cx="273.2" cy="568.0" rx="1.4" ry="1.1" fill="#8c7456" opacity="0.85"/>
<ellipse cx="275.1" cy="543.7" rx="0.9" ry="0.6" fill="#8c7456" opacity="0.85"/>
<ellipse cx="264.9" cy="555.3" rx="0.9" ry="1.0" fill="#8c7456" opacity="0.85"/>
<ellipse cx="259.2" cy="547.1" rx="0.8" ry="0.8" fill="#8c7456" opacity="0.85"/>
<ellipse cx="265.1" cy="557.5" rx="1.0" ry="0.6" fill="#8c7456" opacity="0.85"/>
<ellipse cx="259.3" cy="550.4" rx="0.8" ry="0.8" fill="#8c7456" opacity="0.85"/>
<ellipse cx="253.3" cy="561.6" rx="1.2" ry="0.6" fill="#8c7456" opacity="0.85"/>
<ellipse cx="265.5" cy="550.8" rx="1.0" ry="0.9" fill="#8c7456" opacity="0.85"/>
<ellipse cx="269.3" cy="566.6" rx="1.3" ry="0.6" fill="#8c7456" opacity="0.85"/>
<ellipse cx="263.2" cy="550.7" rx="0.6" ry="0.8" fill="#8c7456" opacity="0.85"/>
<ellipse cx="261.2" cy="566.1" rx="0.9" ry="1.0" fill="#8c7456" opacity="0.85"/>
<ellipse cx="262.4" cy="543.9" rx="1.2" ry="0.7" fill="#8c7456" opacity="0.85"/>
<ellipse cx="262.9" cy="543.1" rx="0.6" ry="1.1" fill="#8c7456" opacity="0.85"/>
<ellipse cx="249.2" cy="545.3" rx="0.7" ry="0.6" fill="#8c7456" opacity="0.85"/>
<ellipse cx="271.1" cy="569.9" rx="1.2" ry="0.7" fill="#8c7456" opacity="0.85"/>
<ellipse cx="272.9" cy="555.7" rx="0.7" ry="0.9" fill="#8c7456" opacity="0.85"/>
<ellipse cx="258.1" cy="548.8" rx="0.9" ry="0.7" fill="#8c7456" opacity="0.85"/>
<ellipse cx="253.1" cy="558.8" rx="1.4" ry="0.8" fill="#8c7456" opacity="0.85"/>
<ellipse cx="248.3" cy="560.8" rx="0.6" ry="0.8" fill="#8c7456" opacity="0.85"/>
<ellipse cx="272.2" cy="560.6" rx="1.4" ry="1.0" fill="#8c7456" opacity="0.85"/>
<ellipse cx="255.6" cy="545.2" rx="1.0" ry="0.9" fill="#8c7456" opacity="0.85"/>
<ellipse cx="254.5" cy="550.6" rx="1.3" ry="0.7" fill="#8c7456" opacity="0.85"/>
<ellipse cx="264.8" cy="556.8" rx="1.4" ry="0.5" fill="#8c7456" opacity="0.85"/>
<ellipse cx="253.2" cy="563.6" rx="1.2" ry="0.6" fill="#8c7456" opacity="0.85"/>
<ellipse cx="251.8" cy="547.1" rx="1.1" ry="1.0" fill="#8c7456" opacity="0.85"/>
<ellipse cx="254.1" cy="546.9" rx="1.2" ry="0.8" fill="#8c7456" opacity="0.85"/>
<ellipse cx="271.7" cy="570.0" rx="1.4" ry="0.9" fill="#8c7456" opacity="0.85"/>
<ellipse cx="261.9" cy="542.8" rx="1.3" ry="0.7" fill="#8c7456" opacity="0.85"/>
<ellipse cx="261.0" cy="559.3" rx="1.5" ry="0.8" fill="#8c7456" opacity="0.85"/>
<ellipse cx="273.7" cy="569.0" rx="0.7" ry="0.7" fill="#8c7456" opacity="0.85"/>
<ellipse cx="272.9" cy="563.3" rx="1.5" ry="0.6" fill="#8c7456" opacity="0.85"/>
<ellipse cx="262.9" cy="568.1" rx="1.1" ry="0.9" fill="#8c7456" opacity="0.85"/>
<ellipse cx="275.3" cy="546.0" rx="0.7" ry="1.0" fill="#8c7456" opacity="0.85"/>
<ellipse cx="264.3" cy="546.8" rx="1.3" ry="0.7" fill="#8c7456" opacity="0.85"/>
<ellipse cx="251.6" cy="549.6" rx="0.6" ry="0.7" fill="#8c7456" opacity="0.85"/>
<ellipse cx="269.8" cy="554.2" rx="1.5" ry="0.5" fill="#8c7456" opacity="0.85"/>
<ellipse cx="252.8" cy="545.2" rx="1.1" ry="0.6" fill="#8c7456" opacity="0.85"/>
<ellipse cx="266.7" cy="556.2" rx="1.1" ry="1.0" fill="#8c7456" opacity="0.85"/>
<ellipse cx="270.1" cy="567.7" rx="0.7" ry="0.7" fill="#8c7456" opacity="0.85"/>
<ellipse cx="274.9" cy="552.5" rx="0.9" ry="0.8" fill="#8c7456" opacity="0.85"/>
<ellipse cx="253.1" cy="565.6" rx="1.2" ry="0.6" fill="#8c7456" opacity="0.85"/>
<ellipse cx="275.0" cy="556.1" rx="0.8" ry="0.9" fill="#8c7456" opacity="0.85"/>
<ellipse cx="274.6" cy="551.1" rx="0.6" ry="0.6" fill="#8c7456" opacity="0.85"/>
<ellipse cx="249.6" cy="556.3" rx="0.9" ry="1.0" fill="#8c7456" opacity="0.85"/>
<ellipse cx="253.8" cy="541.4" rx="1.0" ry="0.6" fill="#8c7456" opacity="0.85"/>
<ellipse cx="256.7" cy="547.5" rx="0.8" ry="0.9" fill="#8c7456" opacity="0.85"/>
<ellipse cx="274.2" cy="551.7" rx="1.2" ry="0.7" fill="#8c7456" opacity="0.85"/>
<ellipse cx="242.0" cy="182.0" rx="3.5" ry="4.5" transform="rotate(0 242.0 182.0)" fill="#d9c4a8" opacity="0.45"/><ellipse cx="242.0" cy="182.0" rx="2.3" ry="3.3" transform="rotate(0 242.0 182.0)" fill="#90c4e0"/><ellipse cx="242.0" cy="182.0" rx="1.5" ry="2.5" transform="rotate(0 242.0 182.0)" fill="#2d4f80"/>
<ellipse cx="240.0" cy="210.0" rx="2.3" ry="3.5" transform="rotate(0 240.0 210.0)" fill="#f0a0a0"/><ellipse cx="240.0" cy="210.0" rx="1.3" ry="2.5" transform="rotate(0 240.0 210.0)" fill="#c8202c"/>
<ellipse cx="233.0" cy="225.0" rx="2.0" ry="2.0" transform="rotate(0 233.0 225.0)" fill="#f0a0a0"/><ellipse cx="233.0" cy="225.0" rx="1.0" ry="1.0" transform="rotate(0 233.0 225.0)" fill="#c8202c"/>
<ellipse cx="372.4" cy="334.8" rx="2.5" ry="3.5" transform="rotate(0 372.4 334.8)" fill="#f0a0a0"/><ellipse cx="372.4" cy="334.8" rx="1.5" ry="2.5" transform="rotate(0 372.4 334.8)" fill="#c8202c"/>
<ellipse cx="381.5" cy="335.0" rx="4.0" ry="3.5" transform="rotate(0 381.5 335.0)" fill="#d9c4a8" opacity="0.45"/><ellipse cx="381.5" cy="335.0" rx="2.8" ry="2.3" transform="rotate(0 381.5 335.0)" fill="#90c4e0"/><ellipse cx="381.5" cy="335.0" rx="2.0" ry="1.5" transform="rotate(0 381.5 335.0)" fill="#2d4f80"/>
<ellipse cx="337.6" cy="279.7" rx="2.2" ry="3.0" transform="rotate(0 337.6 279.7)" fill="#f0a0a0"/><ellipse cx="337.6" cy="279.7" rx="1.2" ry="2.0" transform="rotate(0 337.6 279.7)" fill="#c8202c"/>
<ellipse cx="344.5" cy="296.0" rx="3.3" ry="4.2" transform="rotate(0 344.5 296.0)" fill="#d9c4a8" opacity="0.45"/><ellipse cx="344.5" cy="296.0" rx="2.1" ry="3.0" transform="rotate(0 344.5 296.0)" fill="#90c4e0"/><ellipse cx="344.5" cy="296.0" rx="1.3" ry="2.2" transform="rotate(0 344.5 296.0)" fill="#2d4f80"/>
<ellipse cx="346.7" cy="453.0" rx="2.2" ry="3.0" transform="rotate(0 346.7 453.0)" fill="#f0a0a0"/><ellipse cx="346.7" cy="453.0" rx="1.2" ry="2.0" transform="rotate(0 346.7 453.0)" fill="#c8202c"/>
<ellipse cx="355.8" cy="457.6" rx="3.5" ry="3.5" transform="rotate(0 355.8 457.6)" fill="#d9c4a8" opacity="0.45"/><ellipse cx="355.8" cy="457.6" rx="2.3" ry="2.3" transform="rotate(0 355.8 457.6)" fill="#90c4e0"/><ellipse cx="355.8" cy="457.6" rx="1.5" ry="1.5" transform="rotate(0 355.8 457.6)" fill="#2d4f80"/>
<ellipse cx="466.4" cy="392.7" rx="2.5" ry="3.0" transform="rotate(30 466.4 392.7)" fill="#f0a0a0"/><ellipse cx="466.4" cy="392.7" rx="1.5" ry="2.0" transform="rotate(30 466.4 392.7)" fill="#c8202c"/>
<ellipse cx="446.0" cy="400.0" rx="3.5" ry="4.0" transform="rotate(0 446.0 400.0)" fill="#d9c4a8" opacity="0.45"/><ellipse cx="446.0" cy="400.0" rx="2.3" ry="2.8" transform="rotate(0 446.0 400.0)" fill="#90c4e0"/><ellipse cx="446.0" cy="400.0" rx="1.5" ry="2.0" transform="rotate(0 446.0 400.0)" fill="#2d4f80"/>
<ellipse cx="449.0" cy="416.5" rx="2.3" ry="2.0" transform="rotate(0 449.0 416.5)" fill="#f0a0a0"/><ellipse cx="449.0" cy="416.5" rx="1.3" ry="1.0" transform="rotate(0 449.0 416.5)" fill="#c8202c"/>
<ellipse cx="386.0" cy="480.6" rx="3.3" ry="4.0" transform="rotate(0 386.0 480.6)" fill="#d9c4a8" opacity="0.45"/><ellipse cx="386.0" cy="480.6" rx="2.1" ry="2.8" transform="rotate(0 386.0 480.6)" fill="#90c4e0"/><ellipse cx="386.0" cy="480.6" rx="1.3" ry="2.0" transform="rotate(0 386.0 480.6)" fill="#2d4f80"/>
<ellipse cx="384.0" cy="492.7" rx="2.2" ry="3.0" transform="rotate(20 384.0 492.7)" fill="#f0a0a0"/><ellipse cx="384.0" cy="492.7" rx="1.2" ry="2.0" transform="rotate(20 384.0 492.7)" fill="#c8202c"/>
<ellipse cx="346.0" cy="519.0" rx="3.5" ry="4.5" transform="rotate(30 346.0 519.0)" fill="#d9c4a8" opacity="0.45"/><ellipse cx="346.0" cy="519.0" rx="2.3" ry="3.3" transform="rotate(30 346.0 519.0)" fill="#90c4e0"/><ellipse cx="346.0" cy="519.0" rx="1.5" ry="2.5" transform="rotate(30 346.0 519.0)" fill="#2d4f80"/>
<ellipse cx="462.4" cy="500.3" rx="2.5" ry="2.2" transform="rotate(0 462.4 500.3)" fill="#f0a0a0"/><ellipse cx="462.4" cy="500.3" rx="1.5" ry="1.2" transform="rotate(0 462.4 500.3)" fill="#c8202c"/>
<ellipse cx="474.8" cy="504.2" rx="3.5" ry="4.5" transform="rotate(0 474.8 504.2)" fill="#d9c4a8" opacity="0.45"/><ellipse cx="474.8" cy="504.2" rx="2.3" ry="3.3" transform="rotate(0 474.8 504.2)" fill="#90c4e0"/><ellipse cx="474.8" cy="504.2" rx="1.5" ry="2.5" transform="rotate(0 474.8 504.2)" fill="#2d4f80"/>
<ellipse cx="371.5" cy="335.8" rx="2.2" ry="2.6" transform="rotate(0 371.5 335.8)" fill="#f0a0a0"/><ellipse cx="371.5" cy="335.8" rx="1.2" ry="1.6" transform="rotate(0 371.5 335.8)" fill="#c8202c"/>
<path d="M352.0,470.0 C353.3,471.3 357.7,474.3 360.0,478.0 C362.3,481.7 364.0,487.5 366.0,492.0 C368.0,496.5 369.7,501.7 372.0,505.0 C374.3,508.3 378.7,510.8 380.0,512.0" fill="none" stroke="#b8a070" stroke-width="1.1" opacity="0.7"/>
<path d="M366.0,492.0 C368.0,491.3 373.7,488.0 378.0,488.0 C382.3,488.0 389.7,491.3 392.0,492.0" fill="none" stroke="#b8a070" stroke-width="1.1" opacity="0.7"/>
<path d="M372.0,505.0 C370.0,506.7 363.3,510.8 360.0,515.0 C356.7,519.2 353.3,527.5 352.0,530.0" fill="none" stroke="#b8a070" stroke-width="1.1" opacity="0.7"/>
<path d="M440.0,520.0 C441.7,519.2 446.3,515.0 450.0,515.0 C453.7,515.0 460.0,519.2 462.0,520.0" fill="none" stroke="#b8a070" stroke-width="1.1" opacity="0.7"/>
<path d="M470.0,400.0 C468.7,401.7 464.0,406.7 462.0,410.0 C460.0,413.3 458.7,418.3 458.0,420.0" fill="none" stroke="#b8a070" stroke-width="1.1" opacity="0.7"/>
<path d="M484.0,395.0 C483.0,396.2 477.7,399.2 478.0,402.0 C478.3,404.8 484.7,410.3 486.0,412.0" fill="none" stroke="#b8a070" stroke-width="1.1" opacity="0.7"/>
<path d="M120,-20 L540,-20 L540,11 L460,10 L400,11 L350,17 L300,15 L250,13 L120,13 Z" fill="#fff" filter="url(#blur4)"/>
<path d="M500,-20 C499,60 503,150 502,260 C500,300 504,360 502,420 C498,480 501,530 503,600 L620,600 L620,-20 Z" fill="#fff" filter="url(#blur6)"/>
<path d="M120,564 C200,560 280,566 350,559 C420,556 470,560 540,556 L540,620 L120,620 Z" fill="#fff" filter="url(#blur4)"/>
<rect x="514" y="-20" width="30" height="600" fill="#fff"/>
<rect x="120" y="568" width="420" height="40" fill="#fff"/>
<polyline points="108.0,47.5 235.0,47.5" fill="none" stroke="#fff" stroke-width="2.6" opacity="0.9"/>
<polyline points="108.0,47.5 235.0,47.5" fill="none" stroke="#231f20" stroke-width="1.00"/>
<circle cx="235.0" cy="47.5" r="1.1" fill="#231f20"/>
<polyline points="108.0,84.5 198.0,84.5" fill="none" stroke="#fff" stroke-width="2.6" opacity="0.9"/>
<polyline points="108.0,84.5 198.0,84.5" fill="none" stroke="#231f20" stroke-width="1.00"/>
<circle cx="198.0" cy="84.5" r="1.1" fill="#231f20"/>
<polyline points="108.0,121.5 246.0,121.5" fill="none" stroke="#fff" stroke-width="2.6" opacity="0.9"/>
<polyline points="108.0,121.5 246.0,121.5" fill="none" stroke="#231f20" stroke-width="1.00"/>
<circle cx="246.0" cy="121.5" r="1.1" fill="#231f20"/>
<polyline points="108.0,158.5 252.0,158.5" fill="none" stroke="#fff" stroke-width="2.6" opacity="0.9"/>
<polyline points="108.0,158.5 252.0,158.5" fill="none" stroke="#231f20" stroke-width="1.00"/>
<circle cx="252.0" cy="158.5" r="1.1" fill="#231f20"/>
<polyline points="108.0,194.5 268.0,194.5" fill="none" stroke="#fff" stroke-width="2.6" opacity="0.9"/>
<polyline points="108.0,194.5 268.0,194.5" fill="none" stroke="#231f20" stroke-width="1.00"/>
<circle cx="268.0" cy="194.5" r="1.1" fill="#231f20"/>
<polyline points="108.0,250.5 241.0,250.5" fill="none" stroke="#fff" stroke-width="2.6" opacity="0.9"/>
<polyline points="108.0,250.5 241.0,250.5" fill="none" stroke="#231f20" stroke-width="1.00"/>
<circle cx="241.0" cy="250.5" r="1.1" fill="#231f20"/>
<polyline points="205.0,250.5 238.0,217.5" fill="none" stroke="#fff" stroke-width="2.6" opacity="0.9"/>
<polyline points="205.0,250.5 238.0,217.5" fill="none" stroke="#231f20" stroke-width="1.00"/>
<circle cx="205.0" cy="250.5" r="1.1" fill="#231f20"/>
<polyline points="108.0,305.5 273.0,305.5" fill="none" stroke="#fff" stroke-width="2.6" opacity="0.9"/>
<polyline points="108.0,305.5 273.0,305.5" fill="none" stroke="#231f20" stroke-width="1.00"/>
<circle cx="273.0" cy="305.5" r="1.1" fill="#231f20"/>
<polyline points="108.0,341.5 280.0,341.5 302.0,319.0" fill="none" stroke="#fff" stroke-width="2.6" opacity="0.9"/>
<polyline points="108.0,341.5 280.0,341.5 302.0,319.0" fill="none" stroke="#231f20" stroke-width="1.00"/>
<circle cx="302.0" cy="319.0" r="1.1" fill="#231f20"/>
<polyline points="108.0,380.5 279.0,380.5" fill="none" stroke="#fff" stroke-width="2.6" opacity="0.9"/>
<polyline points="108.0,380.5 279.0,380.5" fill="none" stroke="#231f20" stroke-width="1.00"/>
<circle cx="279.0" cy="380.5" r="1.1" fill="#231f20"/>
<polyline points="127.0,443.5 287.0,443.5" fill="none" stroke="#fff" stroke-width="2.6" opacity="0.9"/>
<polyline points="127.0,443.5 287.0,443.5" fill="none" stroke="#231f20" stroke-width="1.00"/>
<circle cx="287.0" cy="443.5" r="1.1" fill="#231f20"/>
<polyline points="127.0,517.5 202.0,517.5 261.0,538.0" fill="none" stroke="#fff" stroke-width="2.6" opacity="0.9"/>
<polyline points="127.0,517.5 202.0,517.5 261.0,538.0" fill="none" stroke="#231f20" stroke-width="1.00"/>
<circle cx="261.0" cy="538.0" r="1.1" fill="#231f20"/>
<polyline points="479.0,29.5 532.0,29.5" fill="none" stroke="#fff" stroke-width="2.6" opacity="0.9"/>
<polyline points="479.0,29.5 532.0,29.5" fill="none" stroke="#231f20" stroke-width="1.00"/>
<circle cx="479.0" cy="29.5" r="1.1" fill="#231f20"/>
<polyline points="370.0,34.0 418.0,83.5 532.0,83.5" fill="none" stroke="#fff" stroke-width="2.6" opacity="0.9"/>
<polyline points="370.0,34.0 418.0,83.5 532.0,83.5" fill="none" stroke="#231f20" stroke-width="1.00"/>
<circle cx="370.0" cy="34.0" r="1.1" fill="#231f20"/>
<polyline points="427.0,183.5 532.0,183.5" fill="none" stroke="#fff" stroke-width="2.6" opacity="0.9"/>
<polyline points="427.0,183.5 532.0,183.5" fill="none" stroke="#231f20" stroke-width="1.00"/>
<circle cx="427.0" cy="183.5" r="1.1" fill="#231f20"/>
<polyline points="338.0,266.5 532.0,266.5" fill="none" stroke="#fff" stroke-width="2.6" opacity="0.9"/>
<polyline points="338.0,266.5 532.0,266.5" fill="none" stroke="#231f20" stroke-width="1.00"/>
<circle cx="338.0" cy="266.5" r="1.1" fill="#231f20"/>
<polyline points="403.0,365.5 532.0,365.5" fill="none" stroke="#fff" stroke-width="2.6" opacity="0.9"/>
<polyline points="403.0,365.5 532.0,365.5" fill="none" stroke="#231f20" stroke-width="1.00"/>
<circle cx="403.0" cy="365.5" r="1.1" fill="#231f20"/>
<polyline points="463.0,423.5 532.0,423.5" fill="none" stroke="#fff" stroke-width="2.6" opacity="0.9"/>
<polyline points="463.0,423.5 532.0,423.5" fill="none" stroke="#231f20" stroke-width="1.00"/>
<circle cx="463.0" cy="423.5" r="1.1" fill="#231f20"/>
<polyline points="425.0,482.5 532.0,482.5" fill="none" stroke="#fff" stroke-width="2.6" opacity="0.9"/>
<polyline points="425.0,482.5 532.0,482.5" fill="none" stroke="#231f20" stroke-width="1.00"/>
<circle cx="425.0" cy="482.5" r="1.1" fill="#231f20"/>
<text x="101.0" y="51.8" font-family="'Liberation Sans', sans-serif" font-size="13.8" fill="#231f20" stroke="#231f20" stroke-width="0.22" text-anchor="end" font-weight="normal"><tspan x="101.0" y="51.8">Pulmo dexter</tspan></text>
<text x="101.0" y="89.0" font-family="'Liberation Sans', sans-serif" font-size="13.8" fill="#231f20" stroke="#231f20" stroke-width="0.22" text-anchor="end" font-weight="normal"><tspan x="101.0" y="89.0">Cavitas pleuralis</tspan></text>
<text x="101.0" y="125.3" font-family="'Liberation Sans', sans-serif" font-size="13.8" fill="#231f20" stroke="#231f20" stroke-width="0.22" text-anchor="end" font-weight="normal"><tspan x="101.0" y="125.3">Diaphragma</tspan></text>
<text x="101.0" y="162.0" font-family="'Liberation Sans', sans-serif" font-size="13.8" fill="#231f20" stroke="#231f20" stroke-width="0.22" text-anchor="end" font-weight="normal"><tspan x="101.0" y="162.0">Capsula adiposa</tspan></text>
<text x="101.0" y="198.7" font-family="'Liberation Sans', sans-serif" font-size="13.8" fill="#231f20" stroke="#231f20" stroke-width="0.22" text-anchor="end" font-weight="normal"><tspan x="101.0" y="198.7">Gl. suprarenalis</tspan><tspan x="101.0" y="215.4">dextra</tspan></text>
<text x="101.0" y="254.0" font-family="'Liberation Sans', sans-serif" font-size="13.8" fill="#231f20" stroke="#231f20" stroke-width="0.22" text-anchor="end" font-weight="normal"><tspan x="101.0" y="254.0">Spatium retro-</tspan><tspan x="101.0" y="270.7">peritoneale</tspan></text>
<text x="101.0" y="308.5" font-family="'Liberation Sans', sans-serif" font-size="13.8" fill="#231f20" stroke="#231f20" stroke-width="0.22" text-anchor="end" font-weight="normal"><tspan x="101.0" y="308.5">Ren dexter</tspan></text>
<text x="101.0" y="345.2" font-family="'Liberation Sans', sans-serif" font-size="13.8" fill="#231f20" stroke="#231f20" stroke-width="0.22" text-anchor="end" font-weight="normal"><tspan x="101.0" y="345.2">Hilum renale</tspan></text>
<text x="101.0" y="384.8" font-family="'Liberation Sans', sans-serif" font-size="13.8" fill="#231f20" stroke="#231f20" stroke-width="0.22" text-anchor="end" font-weight="normal"><tspan x="101.0" y="384.8">Capsula</tspan><tspan x="101.0" y="401.5">fobrosa renis</tspan></text>
<text x="120.0" y="447.8" font-family="'Liberation Sans', sans-serif" font-size="13.8" fill="#231f20" stroke="#231f20" stroke-width="0.22" text-anchor="end" font-weight="normal"><tspan x="120.0" y="447.8">Fascia renalis,</tspan><tspan x="120.0" y="464.5">posterior layer</tspan></text>
<text x="120.0" y="522.0" font-family="'Liberation Sans', sans-serif" font-size="13.8" fill="#231f20" stroke="#231f20" stroke-width="0.22" text-anchor="end" font-weight="normal"><tspan x="120.0" y="522.0">Crista iliaca</tspan></text>
<text x="540.0" y="34.1" font-family="'Liberation Sans', sans-serif" font-size="13.8" fill="#231f20" stroke="#231f20" stroke-width="0.22" text-anchor="start" font-weight="normal"><tspan x="540.0" y="34.1">Cavitas</tspan><tspan x="540.0" y="50.8">peritoneale</tspan></text>
<text x="540.0" y="88.9" font-family="'Liberation Sans', sans-serif" font-size="13.8" fill="#231f20" stroke="#231f20" stroke-width="0.22" text-anchor="start" font-weight="normal"><tspan x="540.0" y="88.9">Attachment</tspan><tspan x="540.0" y="105.6">between hepar and</tspan><tspan x="540.0" y="122.3">diaphragma</tspan></text>
<text x="540.0" y="188.0" font-family="'Liberation Sans', sans-serif" font-size="13.8" fill="#231f20" stroke="#231f20" stroke-width="0.22" text-anchor="start" font-weight="normal"><tspan x="540.0" y="188.0">Hepar</tspan></text>
<text x="540.0" y="270.5" font-family="'Liberation Sans', sans-serif" font-size="13.8" fill="#231f20" stroke="#231f20" stroke-width="0.22" text-anchor="start" font-weight="normal"><tspan x="540.0" y="270.5">Fascia renalis,</tspan><tspan x="540.0" y="287.2">anterior layer</tspan></text>
<text x="540.0" y="369.5" font-family="'Liberation Sans', sans-serif" font-size="13.8" fill="#231f20" stroke="#231f20" stroke-width="0.22" text-anchor="start" font-weight="normal"><tspan x="540.0" y="369.5">Duodenum,</tspan><tspan x="540.0" y="386.2">pars descendens</tspan></text>
<text x="540.0" y="428.0" font-family="'Liberation Sans', sans-serif" font-size="13.8" fill="#231f20" stroke="#231f20" stroke-width="0.22" text-anchor="start" font-weight="normal"><tspan x="540.0" y="428.0">Greater omentum</tspan><tspan x="540.0" y="444.7">(right edge)</tspan></text>
<text x="540.0" y="486.5" font-family="'Liberation Sans', sans-serif" font-size="13.8" fill="#231f20" stroke="#231f20" stroke-width="0.22" text-anchor="start" font-weight="normal"><tspan x="540.0" y="486.5">Colon</tspan><tspan x="540.0" y="503.2">transversum</tspan></text>
<text x="94.0" y="565.6" font-family="'Liberation Sans', sans-serif" font-size="13.8" fill="#231f20" stroke="#231f20" stroke-width="0.22" text-anchor="start" font-weight="bold"><tspan x="94.0" y="565.6">a</tspan></text>
<g clip-path="url(#clipB)">
<path d="M160.3,704.8 C162.8,704.2 170.3,702.5 175.0,701.5 C179.7,700.5 182.5,699.3 188.6,698.8 C194.7,698.3 205.4,699.0 211.8,698.3 C218.2,697.6 221.7,695.9 227.3,694.5 C232.9,693.1 237.6,690.8 245.3,690.0 C253.0,689.2 264.6,689.1 273.6,689.6 C282.6,690.1 291.7,691.7 299.4,693.2 C307.1,694.7 312.7,697.7 320.0,698.8 C327.3,699.9 339.2,699.6 343.0,699.7 L517.3,699.7 C517.4,706.4 518.0,726.8 518.0,740.0 C518.0,753.2 517.6,768.2 517.0,778.7 C516.4,789.2 515.6,795.3 514.6,803.0 C513.6,810.7 512.4,817.5 511.0,824.7 C509.6,831.9 508.0,839.0 506.0,846.2 C504.0,853.4 501.4,861.1 498.8,867.8 C496.2,874.5 493.0,880.5 490.2,886.5 C487.4,892.5 485.0,899.0 482.0,903.7 C479.0,908.5 475.4,911.6 472.0,915.0 C468.6,918.4 466.8,920.4 461.6,924.3 C456.4,928.2 447.9,934.5 441.0,938.6 C434.1,942.7 427.3,946.3 420.5,949.0 C413.7,951.7 410.1,952.8 400.0,955.0 C389.9,957.2 370.9,960.2 360.0,962.0 C349.1,963.8 344.5,964.5 334.5,965.5 C324.5,966.5 309.1,967.4 300.0,968.0 C290.9,968.6 292.5,968.8 280.0,969.0 C267.5,969.2 244.9,969.0 225.0,969.0 C205.1,969.0 171.1,969.0 160.3,969.0 L160.3,969.0 Z" fill="#e5e5e7"/>
<path d="M160.3,755.8 C164.2,754.5 175.3,750.6 183.5,748.0 C191.7,745.4 201.9,741.7 209.2,740.3 C216.5,738.9 220.0,738.9 227.3,739.8 C234.6,740.7 244.8,742.6 253.0,745.5 C261.1,748.4 270.2,751.9 276.2,757.0 C282.2,762.1 285.8,771.0 289.0,776.4 C292.2,781.8 293.3,784.1 295.3,789.6 C297.3,795.1 298.9,802.7 300.8,809.3 C302.8,815.9 305.2,822.8 307.0,829.0 C308.8,835.2 309.9,841.8 311.3,846.3 C312.7,850.8 313.2,852.7 315.6,856.2 C318.0,859.7 321.6,863.6 325.5,867.3 C329.4,871.0 334.1,875.4 339.0,878.4 C343.9,881.4 348.3,883.4 354.8,885.5 C361.3,887.6 370.2,890.1 377.9,891.0 C385.6,891.9 393.2,891.8 400.9,891.0 C408.6,890.2 417.3,888.0 424.0,886.0 C430.7,884.0 435.9,881.3 441.2,879.0 C446.5,876.7 450.7,875.1 455.6,872.2 C460.5,869.3 466.0,867.6 470.7,861.6 C475.4,855.6 480.5,845.1 484.0,836.0 C487.5,826.9 489.8,819.0 491.5,807.0 C493.2,795.0 493.6,781.9 494.0,764.0 C494.4,746.1 494.0,710.4 494.0,699.7 L517.3,699.7 L518.0,740.0 C517.8,746.5 517.6,768.2 517.0,778.7 C516.4,789.2 515.6,795.3 514.6,803.0 C513.6,810.7 512.4,817.5 511.0,824.7 C509.6,831.9 508.0,839.0 506.0,846.2 C504.0,853.4 501.4,861.1 498.8,867.8 C496.2,874.5 493.0,880.5 490.2,886.5 C487.4,892.5 485.0,899.0 482.0,903.7 C479.0,908.5 475.4,911.6 472.0,915.0 C468.6,918.4 466.8,920.4 461.6,924.3 C456.4,928.2 447.9,934.5 441.0,938.6 C434.1,942.7 427.3,946.3 420.5,949.0 C413.7,951.7 410.1,952.8 400.0,955.0 C389.9,957.2 370.9,960.2 360.0,962.0 C349.1,963.8 344.5,964.5 334.5,965.5 C324.5,966.5 309.1,967.4 300.0,968.0 C290.9,968.6 292.5,968.8 280.0,969.0 C267.5,969.2 244.9,969.0 225.0,969.0 C205.1,969.0 171.1,969.0 160.3,969.0 L160.3,969.0 Z" fill="#b4b4b8"/>
<path d="M517.3,699.7 C517.4,706.4 518.0,726.8 518.0,740.0 C518.0,753.2 517.6,768.2 517.0,778.7 C516.4,789.2 515.6,795.3 514.6,803.0 C513.6,810.7 512.4,817.5 511.0,824.7 C509.6,831.9 508.0,839.0 506.0,846.2 C504.0,853.4 501.4,861.1 498.8,867.8 C496.2,874.5 493.0,880.5 490.2,886.5 C487.4,892.5 485.0,899.0 482.0,903.7 C479.0,908.5 475.4,911.6 472.0,915.0 C468.6,918.4 466.8,920.4 461.6,924.3 C456.4,928.2 447.9,934.5 441.0,938.6 C434.1,942.7 427.3,946.3 420.5,949.0 C413.7,951.7 410.1,952.8 400.0,955.0 C389.9,957.2 370.9,960.2 360.0,962.0 C349.1,963.8 344.5,964.5 334.5,965.5 C324.5,966.5 309.1,967.4 300.0,968.0 C290.9,968.6 292.5,968.8 280.0,969.0 C267.5,969.2 244.9,969.0 225.0,969.0 C205.1,969.0 171.1,969.0 160.3,969.0 L160.3,960.5 C171.1,960.5 205.1,960.5 225.0,960.5 C244.9,960.5 267.5,960.7 279.9,960.5 C292.3,960.3 290.5,960.1 299.5,959.5 C308.4,958.9 323.8,958.0 333.7,957.0 C343.5,956.1 347.9,955.3 358.7,953.6 C369.4,951.9 388.4,948.8 398.2,946.7 C408.0,944.6 410.9,943.7 417.3,941.1 C423.7,938.5 430.1,935.2 436.6,931.3 C443.1,927.4 451.6,921.3 456.5,917.5 C461.3,913.8 462.9,912.1 466.0,909.0 C469.0,906.0 472.1,903.5 474.8,899.1 C477.6,894.8 479.8,888.6 482.5,882.9 C485.2,877.2 488.3,871.2 490.9,864.7 C493.4,858.2 495.9,850.8 497.8,843.9 C499.8,836.9 501.3,830.0 502.7,823.0 C504.1,816.0 505.2,809.4 506.2,801.9 C507.1,794.4 508.0,788.6 508.5,778.2 C509.1,767.9 509.5,753.0 509.5,740.0 C509.5,726.9 508.9,706.5 508.8,699.8 Z" fill="#e5e5e7"/>
<path d="M441.0,938.6 C437.6,940.3 427.3,946.3 420.5,949.0 C413.7,951.7 410.1,952.8 400.0,955.0 C389.9,957.2 370.9,960.2 360.0,962.0 C349.1,963.8 344.5,964.5 334.5,965.5 C324.5,966.5 309.1,967.4 300.0,968.0 C290.9,968.6 292.5,968.8 280.0,969.0 C267.5,969.2 244.9,969.0 225.0,969.0 C205.1,969.0 171.1,969.0 160.3,969.0 L160.3,954.0 C171.1,954.0 205.1,954.0 225.0,954.0 C244.9,954.0 267.5,954.2 279.8,954.0 C292.1,953.8 290.2,953.5 299.0,953.0 C307.9,952.5 323.3,951.9 333.1,951.1 C342.8,950.3 347.1,949.6 357.8,948.2 C368.5,946.8 387.6,944.3 397.4,942.8 C407.2,941.3 410.1,941.2 416.6,939.3 C423.1,937.3 433.1,932.3 436.4,930.9 Z" fill="#e5e5e7"/>
<path d="M397.4,942.8 C390.8,943.7 368.5,946.8 357.8,948.2 C347.1,949.6 342.8,950.3 333.1,951.1 C323.3,951.9 307.9,952.5 299.0,953.0 C290.2,953.5 292.1,953.8 279.8,954.0 C267.5,954.2 244.9,954.0 225.0,954.0 C205.1,954.0 171.1,954.0 160.3,954.0" fill="none" stroke="#3a3a3c" stroke-width="0.8"/>
<path d="M498.8,700.0 C498.9,706.7 499.5,727.0 499.5,739.9 C499.5,752.9 499.1,767.6 498.5,777.7 C498.0,787.8 497.2,793.4 496.3,800.6 C495.3,807.8 494.2,814.3 492.9,821.1 C491.5,827.8 490.1,834.5 488.2,841.2 C486.3,847.8 484.0,854.8 481.6,861.0 C479.1,867.3 476.0,873.2 473.4,878.7 C470.9,884.1 468.8,889.9 466.4,893.7 C464.0,897.6 461.5,899.3 458.9,902.0 C456.2,904.6 454.9,906.0 450.4,909.6 C445.9,913.1 437.7,919.1 431.7,923.2 C425.8,927.3 420.5,930.9 414.6,934.1 C408.7,937.4 399.4,941.1 396.3,942.5" fill="none" stroke="#e5e5e7" stroke-width="5"/>
<path d="M508.8,699.8 C508.9,706.5 509.5,726.9 509.5,740.0 C509.5,753.0 509.1,767.9 508.5,778.2 C508.0,788.6 507.1,794.4 506.2,801.9 C505.2,809.4 504.1,816.0 502.7,823.0 C501.3,830.0 499.8,836.9 497.8,843.9 C495.9,850.8 493.4,858.2 490.9,864.7 C488.3,871.2 485.2,877.2 482.5,882.9 C479.8,888.6 477.6,894.8 474.8,899.1 C472.1,903.5 469.0,906.0 466.0,909.0 C462.9,912.1 461.3,913.8 456.5,917.5 C451.6,921.3 443.1,927.4 436.6,931.3 C430.1,935.2 423.7,938.5 417.3,941.1 C410.9,943.7 408.0,944.6 398.2,946.7 C388.4,948.8 369.4,951.9 358.7,953.6 C347.9,955.3 343.5,956.1 333.7,957.0 C323.8,958.0 308.4,958.9 299.5,959.5 C290.5,960.1 292.3,960.3 279.9,960.5 C267.5,960.7 244.9,960.5 225.0,960.5 C205.1,960.5 171.1,960.5 160.3,960.5" fill="none" stroke="#fff" stroke-width="1.6"/>
<path d="M501.8,700.0 C501.9,706.6 502.5,727.0 502.5,739.9 C502.5,752.9 502.1,767.7 501.5,777.9 C501.0,788.0 500.2,793.7 499.2,801.0 C498.3,808.3 497.2,814.8 495.8,821.7 C494.4,828.5 493.0,835.2 491.1,842.0 C489.2,848.7 486.9,855.8 484.4,862.1 C481.9,868.5 478.7,874.4 476.2,879.9 C473.6,885.5 471.5,891.3 468.9,895.4 C466.4,899.4 463.8,901.3 461.0,904.1 C458.2,906.9 456.9,908.4 452.2,912.0 C447.5,915.5 439.3,921.5 433.0,925.3 C426.8,929.1 420.8,932.2 414.7,934.6 C408.7,937.0 399.7,939.0 396.7,939.8" fill="none" stroke="#fff" stroke-width="1.5"/>
<path d="M485.3,840.3 C484.2,843.6 481.2,853.8 478.8,860.0 C476.4,866.1 473.2,872.0 470.7,877.4 C468.2,882.7 466.2,888.4 463.9,892.1 C461.5,895.9 459.3,897.4 456.7,899.9 C454.2,902.4 453.0,903.8 448.6,907.2 C444.1,910.6 436.2,916.4 429.9,920.2 C423.6,923.9 414.0,928.2 410.8,929.8" fill="none" stroke="#fff" stroke-width="1.5"/>
<path d="M498.0,700.0 C499.8,698.3 506.5,698.0 508.0,700.0 C509.5,702.0 508.3,709.2 507.0,712.0 C505.7,714.8 501.7,717.3 500.0,717.0 C498.3,716.7 497.3,712.8 497.0,710.0 C496.7,707.2 496.2,701.7 498.0,700.0Z" fill="#e5e5e7" stroke="#3a3a3c" stroke-width="0.8"/>
<path d="M503.0,792.0 C504.7,792.3 506.0,794.5 506.0,800.0 C506.0,805.5 504.7,818.3 503.0,825.0 C501.3,831.7 498.3,837.8 496.0,840.0 C493.7,842.2 489.8,842.2 489.0,838.0 C488.2,833.8 489.8,821.7 491.0,815.0 C492.2,808.3 494.0,801.8 496.0,798.0 C498.0,794.2 501.3,791.7 503.0,792.0Z" fill="#e5e5e7" stroke="#3a3a3c" stroke-width="0.8"/>
<path d="M447.0,891.0 C449.8,891.0 453.2,892.8 453.0,895.0 C452.8,897.2 450.2,901.0 446.0,904.0 C441.8,907.0 433.3,910.8 428.0,913.0 C422.7,915.2 416.8,917.0 414.0,917.0 C411.2,917.0 410.0,915.2 411.0,913.0 C412.0,910.8 415.8,907.0 420.0,904.0 C424.2,901.0 431.5,897.2 436.0,895.0 C440.5,892.8 444.2,891.0 447.0,891.0Z" fill="#e5e5e7" stroke="#3a3a3c" stroke-width="0.8"/>
<path d="M333.0,889.0 C335.3,887.8 340.5,887.3 345.0,888.5 C349.5,889.7 357.2,893.4 360.0,896.0 C362.8,898.6 363.3,902.2 362.0,904.0 C360.7,905.8 356.0,907.2 352.0,907.0 C348.0,906.8 341.5,904.8 338.0,903.0 C334.5,901.2 331.8,898.3 331.0,896.0 C330.2,893.7 330.7,890.2 333.0,889.0Z" fill="#e5e5e7" stroke="#3a3a3c" stroke-width="0.8"/>
<path d="M280.0,858.0 C282.0,856.8 286.2,860.7 290.0,863.0 C293.8,865.3 301.7,869.8 303.0,872.0 C304.3,874.2 301.0,875.5 298.0,876.0 C295.0,876.5 288.3,876.0 285.0,875.0 C281.7,874.0 278.8,872.8 278.0,870.0 C277.2,867.2 278.0,859.2 280.0,858.0Z" fill="#e5e5e7" stroke="none" stroke-width="0.8"/>
<path d="M289.7,861.0 C291.6,859.8 297.1,855.2 300.8,853.7 C304.5,852.2 309.8,851.5 311.9,851.9 C314.0,852.3 311.5,851.8 313.2,856.2 C314.9,860.6 318.2,873.4 321.8,878.4 C325.4,883.4 329.0,882.9 334.5,886.0 C340.0,889.1 347.4,893.7 355.0,897.0 C362.6,900.3 370.7,903.2 380.0,906.0 C389.3,908.8 405.8,912.7 411.0,914.0" fill="none" stroke="#fff" stroke-width="1.6"/>
<path d="M271.4,888.5 C273.0,892.5 277.8,904.6 281.0,912.7 C284.2,920.8 288.6,931.0 290.8,937.0 C293.0,943.0 293.8,947.0 294.4,949.0" fill="none" stroke="#fff" stroke-width="1.6"/>
<path d="M169.5,888.5 C168.6,891.2 165.6,899.0 164.0,905.0 C162.4,911.0 160.5,921.5 159.8,924.8" fill="none" stroke="#fff" stroke-width="1.6"/>
<path d="M313.2,856.2 C315.2,857.8 320.2,862.7 325.0,866.0 C329.8,869.3 335.3,872.7 342.0,876.0 C348.7,879.3 356.7,883.3 365.0,886.0 C373.3,888.7 382.8,890.8 392.0,892.0 C401.2,893.2 411.2,893.7 420.0,893.0 C428.8,892.3 437.3,890.5 445.0,888.0 C452.7,885.5 462.5,879.7 466.0,878.0" fill="none" stroke="#fff" stroke-width="1.6"/>
<path d="M219.5,739.0 C223.8,739.9 238.0,741.4 245.3,744.2 C252.6,747.0 259.0,750.4 263.3,755.8 C267.6,761.2 269.7,769.5 271.0,776.4 C272.3,783.3 271.8,790.6 271.0,797.0 C270.2,803.4 267.3,809.0 266.0,815.0 C264.7,821.0 263.6,828.0 263.3,833.0 C263.0,838.0 263.1,841.6 264.0,844.8 C264.9,848.0 266.2,849.6 269.0,852.0 C271.8,854.4 276.6,856.9 281.0,859.4 C285.4,861.9 291.8,864.5 295.6,866.7 C299.4,868.9 302.8,871.3 304.0,872.7 C305.2,874.1 305.9,874.8 302.9,875.2 C299.9,875.6 290.1,874.6 285.9,875.2 C281.6,875.8 279.2,876.8 277.4,878.8 C275.6,880.8 275.8,885.7 275.0,887.3 C274.2,888.9 273.6,890.1 272.6,888.5 C271.6,886.9 270.8,880.0 269.0,877.6 C267.2,875.2 265.3,874.6 261.7,874.0 C258.1,873.4 251.9,873.2 247.1,874.0 C242.2,874.8 235.8,876.8 232.6,878.8 C229.4,880.8 228.8,882.4 227.7,886.0 C226.6,889.6 226.2,892.1 226.0,900.6 C225.8,909.1 226.5,928.9 226.5,937.0 C226.5,945.1 226.6,946.4 225.8,949.0 C225.0,951.6 223.1,952.3 221.7,952.7 C220.3,953.1 218.5,953.3 217.5,951.5 C216.5,949.7 216.0,950.3 215.6,941.8 C215.2,933.3 215.3,910.1 215.1,900.6 C214.9,891.1 215.3,888.8 214.4,884.8 C213.5,880.8 212.1,878.4 209.5,876.4 C206.9,874.4 203.7,873.1 198.6,872.7 C193.5,872.3 183.6,873.0 179.2,874.0 C174.8,875.0 173.6,876.8 172.0,878.8 C170.4,880.8 170.3,884.6 169.5,886.0 C168.7,887.4 167.9,888.3 167.1,887.3 C166.3,886.3 165.9,882.0 164.7,880.0 C163.5,878.0 160.6,876.0 159.8,875.2 L159.8,858.2 C161.4,857.4 166.7,855.9 169.5,853.3 C172.3,850.7 175.6,845.4 176.8,842.4 C178.1,839.4 177.2,837.4 177.0,835.0 C176.8,832.6 176.9,832.5 175.8,827.9 C174.7,823.3 171.7,813.3 170.6,807.3 C169.5,801.3 169.3,798.2 169.3,791.8 C169.3,785.3 169.5,775.1 170.6,768.6 C171.7,762.1 172.4,757.3 175.8,753.0 C179.2,748.7 183.9,745.2 191.2,742.9 C198.5,740.6 214.8,739.6 219.5,739.0 Z" fill="#e5e5e7"/>
<path d="M219.5,739.0 C223.8,739.9 238.0,741.4 245.3,744.2 C252.6,747.0 259.0,750.4 263.3,755.8 C267.6,761.2 269.7,769.5 271.0,776.4 C272.3,783.3 271.8,790.6 271.0,797.0 C270.2,803.4 267.3,809.0 266.0,815.0 C264.7,821.0 263.6,828.0 263.3,833.0 C263.0,838.0 263.1,841.6 264.0,844.8 C264.9,848.0 266.2,849.6 269.0,852.0 C271.8,854.4 276.6,856.9 281.0,859.4 C285.4,861.9 291.8,864.5 295.6,866.7 C299.4,868.9 302.8,871.3 304.0,872.7 C305.2,874.1 305.9,874.8 302.9,875.2 C299.9,875.6 290.1,874.6 285.9,875.2 C281.6,875.8 279.2,876.8 277.4,878.8 C275.6,880.8 275.8,885.7 275.0,887.3 C274.2,888.9 273.6,890.1 272.6,888.5 C271.6,886.9 270.8,880.0 269.0,877.6 C267.2,875.2 265.3,874.6 261.7,874.0 C258.1,873.4 251.9,873.2 247.1,874.0 C242.2,874.8 235.8,876.8 232.6,878.8 C229.4,880.8 228.8,882.4 227.7,886.0 C226.6,889.6 226.2,892.1 226.0,900.6 C225.8,909.1 226.5,928.9 226.5,937.0 C226.5,945.1 226.6,946.4 225.8,949.0 C225.0,951.6 223.1,952.3 221.7,952.7 C220.3,953.1 218.5,953.3 217.5,951.5 C216.5,949.7 216.0,950.3 215.6,941.8 C215.2,933.3 215.3,910.1 215.1,900.6 C214.9,891.1 215.3,888.8 214.4,884.8 C213.5,880.8 212.1,878.4 209.5,876.4 C206.9,874.4 203.7,873.1 198.6,872.7 C193.5,872.3 183.6,873.0 179.2,874.0 C174.8,875.0 173.6,876.8 172.0,878.8 C170.4,880.8 170.3,884.6 169.5,886.0 C168.7,887.4 167.9,888.3 167.1,887.3 C166.3,886.3 165.9,882.0 164.7,880.0 C163.5,878.0 160.6,876.0 159.8,875.2" fill="none" stroke="#3a3a3c" stroke-width="0.9"/>
<path d="M159.8,858.2 C161.4,857.4 166.7,855.9 169.5,853.3 C172.3,850.7 175.6,845.4 176.8,842.4 C178.1,839.4 177.2,837.4 177.0,835.0 C176.8,832.6 176.9,832.5 175.8,827.9 C174.7,823.3 171.7,813.3 170.6,807.3 C169.5,801.3 169.3,798.2 169.3,791.8 C169.3,785.3 169.5,775.1 170.6,768.6 C171.7,762.1 172.4,757.3 175.8,753.0 C179.2,748.7 183.9,745.2 191.2,742.9 C198.5,740.6 214.8,739.6 219.5,739.0" fill="none" stroke="#3a3a3c" stroke-width="0.9"/>
<path d="M220.8,831.2 C226.5,831.3 234.6,831.7 238.9,833.5 C243.2,835.3 245.5,839.1 246.6,842.0 C247.7,844.9 246.6,848.0 245.5,851.0 C244.4,854.0 242.4,857.2 240.0,860.0 C237.6,862.8 234.2,865.9 231.0,867.5 C227.8,869.1 224.5,870.0 221.0,869.8 C217.5,869.6 213.3,868.3 210.0,866.5 C206.7,864.7 203.2,861.9 201.0,859.0 C198.8,856.1 197.1,852.3 196.6,849.0 C196.1,845.7 196.6,841.7 198.0,839.0 C199.4,836.3 201.2,834.3 205.0,833.0 C208.8,831.7 215.2,831.1 220.8,831.2Z" fill="#fff" stroke="#3a3a3c" stroke-width="0.9"/>
<path d="M362.7,701.0 C364.2,702.8 367.1,708.1 371.5,711.7 C375.9,715.3 382.9,718.6 389.2,722.5 C395.4,726.4 403.1,730.5 409.0,735.3 C414.9,740.0 420.1,745.4 424.7,751.0 C429.3,756.6 433.2,762.5 436.5,768.8 C439.8,775.0 442.3,781.9 444.4,788.5 C446.5,795.1 448.1,801.6 449.3,808.2 C450.5,814.8 450.9,821.3 451.3,827.9 C451.7,834.5 451.4,842.4 451.9,847.6 C452.4,852.9 452.5,857.8 454.2,859.4 C455.9,861.0 459.0,858.6 462.0,857.0 C465.0,855.4 468.8,853.5 472.0,850.0 C475.2,846.5 478.3,842.3 481.0,836.0 C483.7,829.7 486.4,821.3 488.0,812.0 C489.6,802.7 490.0,792.0 490.5,780.0 C491.0,768.0 490.9,753.4 491.0,740.0 C491.1,726.6 491.0,706.4 491.0,699.7" fill="none" stroke="#3a3a3c" stroke-width="7"/>
<path d="M362.7,701.0 C364.2,702.8 367.1,708.1 371.5,711.7 C375.9,715.3 382.9,718.6 389.2,722.5 C395.4,726.4 403.1,730.5 409.0,735.3 C414.9,740.0 420.1,745.4 424.7,751.0 C429.3,756.6 433.2,762.5 436.5,768.8 C439.8,775.0 442.3,781.9 444.4,788.5 C446.5,795.1 448.1,801.6 449.3,808.2 C450.5,814.8 450.9,821.3 451.3,827.9 C451.7,834.5 451.4,842.4 451.9,847.6 C452.4,852.9 452.5,857.8 454.2,859.4 C455.9,861.0 459.0,858.6 462.0,857.0 C465.0,855.4 468.8,853.5 472.0,850.0 C475.2,846.5 478.3,842.3 481.0,836.0 C483.7,829.7 486.4,821.3 488.0,812.0 C489.6,802.7 490.0,792.0 490.5,780.0 C491.0,768.0 490.9,753.4 491.0,740.0 C491.1,726.6 491.0,706.4 491.0,699.7" fill="none" stroke="#fff" stroke-width="5.3"/>
<path d="M366.0,699.7 C367.3,701.2 369.8,705.7 374.0,709.0 C378.2,712.3 385.2,715.6 391.5,719.5 C397.8,723.4 405.5,727.6 411.5,732.5 C417.5,737.4 422.8,743.2 427.5,749.0 C432.2,754.8 436.2,761.1 439.5,767.5 C442.8,773.9 445.3,780.8 447.5,787.5 C449.7,794.2 451.3,801.2 452.5,808.0 C453.7,814.8 454.1,821.5 454.5,828.0 C454.9,834.5 454.7,842.7 455.0,847.0 C455.3,851.3 455.3,853.2 456.5,854.0 C457.7,854.8 459.8,853.5 462.0,852.0 C464.2,850.5 467.2,848.0 470.0,845.0 C472.8,842.0 475.9,839.8 478.5,834.0 C481.1,828.2 483.9,819.0 485.5,810.0 C487.1,801.0 487.8,791.7 488.3,780.0 C488.8,768.3 488.3,753.4 488.3,740.0 C488.3,726.6 488.3,706.4 488.3,699.7 Z" fill="#8e8f93" stroke="#3a3a3c" stroke-width="0.9"/>
<rect x="355" y="696.6" width="140" height="3.1" fill="#fff"/>
<path d="M160.3,755.8 C164.2,754.5 175.3,750.6 183.5,748.0 C191.7,745.4 201.9,741.7 209.2,740.3 C216.5,738.9 220.0,738.9 227.3,739.8 C234.6,740.7 244.8,742.6 253.0,745.5 C261.1,748.4 270.2,751.9 276.2,757.0 C282.2,762.1 285.8,771.0 289.0,776.4 C292.2,781.8 294.2,787.4 295.3,789.6" fill="none" stroke="#c9371f" stroke-width="2"/>
<path d="M295.3,789.6 C296.2,792.9 298.9,802.7 300.8,809.3 C302.8,815.9 305.2,822.8 307.0,829.0 C308.8,835.2 309.9,841.8 311.3,846.3 C312.7,850.8 313.2,852.7 315.6,856.2 C318.0,859.7 321.6,863.6 325.5,867.3 C329.4,871.0 334.1,875.4 339.0,878.4 C343.9,881.4 348.3,883.4 354.8,885.5 C361.3,887.6 370.2,890.1 377.9,891.0 C385.6,891.9 393.2,891.8 400.9,891.0 C408.6,890.2 417.3,888.0 424.0,886.0 C430.7,884.0 435.9,881.3 441.2,879.0 C446.5,876.7 453.2,873.3 455.6,872.2" fill="none" stroke="#c9371f" stroke-width="1.4"/>
<path d="M455.6,872.2 C458.1,870.4 466.0,867.6 470.7,861.6 C475.4,855.6 480.5,845.1 484.0,836.0 C487.5,826.9 489.8,819.0 491.5,807.0 C493.2,795.0 493.6,781.9 494.0,764.0 C494.4,746.1 494.0,710.4 494.0,699.7" fill="none" stroke="#c9371f" stroke-width="2"/>
<path d="M295.3,789.6 C297.2,792.9 304.0,803.5 307.0,809.3 C310.0,815.0 311.1,819.2 313.2,824.1 C315.2,829.0 317.1,834.4 319.3,838.9 C321.6,843.4 323.4,847.1 326.7,851.2 C330.0,855.3 334.3,860.0 339.0,863.6 C343.7,867.2 348.3,869.7 354.8,872.8 C361.3,875.9 370.2,880.0 377.9,882.0 C385.6,884.0 393.2,884.7 400.9,884.5 C408.6,884.3 417.3,882.2 424.0,881.0 C430.7,879.8 436.7,878.5 441.2,877.5 C445.7,876.5 449.4,875.4 451.0,875.0" fill="none" stroke="#c9371f" stroke-width="2.2"/>
<path d="M324.0,699.7 C326.7,702.0 334.7,709.5 340.0,713.6 C345.3,717.7 349.2,721.4 355.8,724.5 C362.4,727.6 372.2,729.3 379.4,732.3 C386.6,735.2 393.4,738.6 399.0,742.2 C404.6,745.8 408.3,748.9 412.9,754.0 C417.5,759.1 422.8,766.0 426.7,772.7 C430.6,779.4 434.1,786.9 436.5,794.4 C438.9,801.9 440.4,810.5 441.4,818.0 C442.4,825.5 442.5,833.1 442.4,839.7 C442.2,846.3 441.1,852.6 440.5,857.4 C439.9,862.2 438.7,865.6 439.0,868.5 C439.3,871.4 440.8,873.2 442.5,874.5 C444.2,875.8 446.8,876.2 449.0,876.0 C451.2,875.8 454.8,873.9 456.0,873.5" fill="none" stroke="#c9371f" stroke-width="2"/>
<path d="M347.9,740.0 C349.3,738.6 352.3,737.9 355.0,737.5 C357.7,737.1 360.5,736.1 365.6,737.3 C370.7,738.5 382.7,741.9 389.2,745.2 C395.7,748.5 404.0,754.3 409.0,759.0 C414.0,763.7 419.5,770.5 422.7,776.7 C425.9,782.9 429.3,793.2 430.6,800.3 C431.9,807.4 431.9,816.9 431.6,824.0 C431.3,831.1 430.5,841.7 428.6,847.6 C426.7,853.5 422.6,859.2 418.8,863.3 C415.0,867.4 407.4,873.0 403.0,875.1 C398.6,877.2 393.8,877.5 389.2,877.5 C384.6,877.5 376.7,876.7 372.0,875.0 C367.3,873.3 361.8,868.5 358.0,866.0 C354.2,863.5 350.0,861.7 346.4,858.6 C342.8,855.5 337.8,849.9 334.1,845.1 C330.4,840.3 325.1,832.3 321.8,826.6 C318.5,820.9 313.9,813.2 311.9,806.9 C309.9,800.6 308.6,790.5 308.2,784.7 C307.8,778.9 308.6,771.7 309.5,768.0 C310.4,764.3 312.2,761.6 314.0,760.0 C315.8,758.4 318.9,757.4 321.8,757.5 C324.7,757.6 330.5,759.1 333.5,761.0 C336.5,762.9 340.1,767.9 342.0,770.0 C343.9,772.1 344.8,774.6 346.0,775.0 C347.2,775.4 349.8,774.2 349.8,772.7 C349.8,771.2 346.5,768.6 345.9,764.8 C345.3,761.0 345.6,750.8 345.9,747.1 C346.2,743.4 346.5,741.4 347.9,740.0Z" fill="#8e8f93" stroke="#3a3a3c" stroke-width="0.9"/>
<path d="M342.0,792.0 C342.0,789.3 342.0,786.0 343.0,784.0 C344.0,782.0 346.2,780.9 348.0,780.0 C349.8,779.1 352.0,778.7 354.0,778.6 C356.0,778.5 358.3,778.8 360.0,779.5 C361.7,780.2 363.3,781.6 364.0,783.0 C364.7,784.4 363.3,786.7 364.0,788.0 C364.7,789.3 367.5,789.7 368.0,791.0 C368.5,792.3 366.5,794.7 367.0,796.0 C367.5,797.3 370.5,797.7 371.0,799.0 C371.5,800.3 369.5,802.5 370.0,804.0 C370.5,805.5 373.7,806.5 374.0,808.0 C374.3,809.5 373.0,811.8 372.0,813.0 C371.0,814.2 368.8,813.8 368.0,815.0 C367.2,816.2 368.0,818.8 367.0,820.0 C366.0,821.2 363.5,822.3 362.0,822.0 C360.5,821.7 359.3,819.3 358.0,818.0 C356.7,816.7 355.3,815.3 354.0,814.0 C352.7,812.7 351.3,811.3 350.0,810.0 C348.7,808.7 347.2,807.7 346.0,806.0 C344.8,804.3 343.7,802.3 343.0,800.0 C342.3,797.7 342.0,794.7 342.0,792.0Z" fill="#b9b9bc" stroke="#3a3a3c" stroke-width="0.8"/>
<path d="M354.0,797.0 C354.2,794.7 356.5,792.5 358.0,793.0 C359.5,793.5 361.7,797.2 363.0,800.0 C364.3,802.8 366.2,807.5 366.0,810.0 C365.8,812.5 363.5,815.5 362.0,815.0 C360.5,814.5 358.3,810.0 357.0,807.0 C355.7,804.0 353.8,799.3 354.0,797.0Z" fill="none" stroke="#666" stroke-width="0.6"/>
<path d="M351.0,799.0 C351.5,796.5 354.2,791.5 356.0,791.0 C357.8,790.5 360.0,793.3 362.0,796.0 C364.0,798.7 367.5,803.5 368.0,807.0 C368.5,810.5 366.5,815.5 365.0,817.0 C363.5,818.5 361.0,817.8 359.0,816.0 C357.0,814.2 354.3,808.8 353.0,806.0 C351.7,803.2 350.5,801.5 351.0,799.0Z" fill="none" stroke="#666" stroke-width="0.6"/>
<path d="M346.0,792.0 C346.7,791.0 348.5,786.7 350.0,786.0 C351.5,785.3 354.2,787.7 355.0,788.0" fill="none" stroke="#555" stroke-width="0.6"/>
</g>
<ellipse cx="212.8" cy="714.9" rx="20" ry="11.8" fill="#b4b4b8" stroke="#3a3a3c" stroke-width="0.9"/>
<ellipse cx="212.8" cy="714.9" rx="16.6" ry="8.6" fill="#fff" stroke="#3a3a3c" stroke-width="0.9"/>
<path d="M240.0,704.0 C241.2,701.5 242.3,696.9 246.0,695.0 C249.7,693.1 254.7,692.7 262.0,692.5 C269.3,692.3 282.8,692.8 290.0,694.0 C297.2,695.2 301.2,697.3 305.0,700.0 C308.8,702.7 312.0,706.8 313.0,710.0 C314.0,713.2 312.7,716.8 311.0,719.0 C309.3,721.2 307.3,723.0 303.0,723.0 C298.7,723.0 291.8,720.3 285.0,719.0 C278.2,717.7 268.5,715.8 262.0,715.0 C255.5,714.2 249.8,714.8 246.0,714.0 C242.2,713.2 240.0,711.7 239.0,710.0 C238.0,708.3 238.8,706.5 240.0,704.0Z" fill="#b4b4b8" stroke="#3a3a3c" stroke-width="0.9"/>
<path d="M243.5,704.5 C244.4,702.8 245.4,699.4 248.5,698.0 C251.6,696.6 255.2,696.1 262.0,696.0 C268.8,695.9 282.3,696.4 289.0,697.5 C295.7,698.6 298.7,700.3 302.0,702.5 C305.3,704.7 308.1,708.2 309.0,710.5 C309.9,712.8 308.7,715.0 307.5,716.5 C306.3,718.0 305.8,719.7 302.0,719.5 C298.2,719.3 291.7,716.8 285.0,715.5 C278.3,714.2 268.3,712.3 262.0,711.5 C255.7,710.7 250.2,711.1 247.0,710.5 C243.8,709.9 243.6,709.0 243.0,708.0 C242.4,707.0 242.6,706.2 243.5,704.5Z" fill="#fff" stroke="#3a3a3c" stroke-width="0.9"/>
<path d="M160.3,704.8 C162.8,704.2 170.3,702.5 175.0,701.5 C179.7,700.5 182.5,699.3 188.6,698.8 C194.7,698.3 205.4,699.0 211.8,698.3 C218.2,697.6 221.7,695.9 227.3,694.5 C232.9,693.1 237.6,690.8 245.3,690.0 C253.0,689.2 264.6,689.1 273.6,689.6 C282.6,690.1 291.7,691.7 299.4,693.2 C307.1,694.7 312.7,697.7 320.0,698.8 C327.3,699.9 339.2,699.6 343.0,699.7" fill="none" stroke="#3a3a3c" stroke-width="0.9"/>
<path d="M517.3,699.7 C517.4,706.4 518.0,726.8 518.0,740.0 C518.0,753.2 517.6,768.2 517.0,778.7 C516.4,789.2 515.6,795.3 514.6,803.0 C513.6,810.7 512.4,817.5 511.0,824.7 C509.6,831.9 508.0,839.0 506.0,846.2 C504.0,853.4 501.4,861.1 498.8,867.8 C496.2,874.5 493.0,880.5 490.2,886.5 C487.4,892.5 485.0,899.0 482.0,903.7 C479.0,908.5 475.4,911.6 472.0,915.0 C468.6,918.4 466.8,920.4 461.6,924.3 C456.4,928.2 447.9,934.5 441.0,938.6 C434.1,942.7 427.3,946.3 420.5,949.0 C413.7,951.7 410.1,952.8 400.0,955.0 C389.9,957.2 370.9,960.2 360.0,962.0 C349.1,963.8 344.5,964.5 334.5,965.5 C324.5,966.5 309.1,967.4 300.0,968.0 C290.9,968.6 292.5,968.8 280.0,969.0 C267.5,969.2 244.9,969.0 225.0,969.0 C205.1,969.0 171.1,969.0 160.3,969.0" fill="none" stroke="#3a3a3c" stroke-width="0.9"/>
<polyline points="184.8,668.0 207.2,716.0" fill="none" stroke="#fff" stroke-width="2.6" opacity="0.9"/>
<polyline points="184.8,668.0 207.2,716.0" fill="none" stroke="#231f20" stroke-width="1.00"/>
<polyline points="277.5,668.0 277.5,706.0" fill="none" stroke="#fff" stroke-width="2.6" opacity="0.9"/>
<polyline points="277.5,668.0 277.5,706.0" fill="none" stroke="#231f20" stroke-width="1.00"/>
<polyline points="365.0,665.5 342.3,699.5" fill="none" stroke="#fff" stroke-width="2.6" opacity="0.9"/>
<polyline points="365.0,665.5 342.3,699.5" fill="none" stroke="#231f20" stroke-width="1.00"/>
<polyline points="126.5,796.5 214.0,796.5" fill="none" stroke="#fff" stroke-width="2.6" opacity="0.9"/>
<polyline points="126.5,796.5 214.0,796.5" fill="none" stroke="#231f20" stroke-width="1.00"/>
<polyline points="466.0,778.5 552.7,778.5" fill="none" stroke="#fff" stroke-width="2.6" opacity="0.9"/>
<polyline points="466.0,778.5 552.7,778.5" fill="none" stroke="#231f20" stroke-width="1.00"/>
<polyline points="398.0,823.5 552.7,823.5" fill="none" stroke="#fff" stroke-width="2.6" opacity="0.9"/>
<polyline points="398.0,823.5 552.7,823.5" fill="none" stroke="#231f20" stroke-width="1.00"/>
<polyline points="426.4,868.5 552.7,868.5" fill="none" stroke="#fff" stroke-width="2.6" opacity="0.9"/>
<polyline points="426.4,868.5 552.7,868.5" fill="none" stroke="#231f20" stroke-width="1.00"/>
<polyline points="413.0,752.0 552.7,716.3" fill="none" stroke="#fff" stroke-width="2.40"/>
<polyline points="413.0,752.0 552.7,716.3" fill="none" stroke="#fff" stroke-width="2.6" opacity="0.9"/>
<polyline points="413.0,752.0 552.7,716.3" fill="none" stroke="#231f20" stroke-width="1.00"/>
<polyline points="377.0,887.6 534.7,928.0" fill="none" stroke="#fff" stroke-width="2.40"/>
<polyline points="377.0,887.6 534.7,928.0" fill="none" stroke="#fff" stroke-width="2.6" opacity="0.9"/>
<polyline points="377.0,887.6 534.7,928.0" fill="none" stroke="#231f20" stroke-width="1.00"/>
<text x="178.6" y="637.3" font-family="'Liberation Sans', sans-serif" font-size="13.8" fill="#231f20" stroke="#231f20" stroke-width="0.22" text-anchor="middle" font-weight="normal"><tspan x="178.6" y="637.3">Aorta</tspan><tspan x="178.6" y="654.5">abdominalis</tspan></text>
<text x="277.7" y="637.3" font-family="'Liberation Sans', sans-serif" font-size="13.8" fill="#231f20" stroke="#231f20" stroke-width="0.22" text-anchor="middle" font-weight="normal"><tspan x="277.7" y="637.3">V. cava</tspan><tspan x="277.7" y="654.5">inferior</tspan></text>
<text x="375.5" y="637.3" font-family="'Liberation Sans', sans-serif" font-size="13.8" fill="#231f20" stroke="#231f20" stroke-width="0.22" text-anchor="middle" font-weight="normal"><tspan x="375.5" y="637.3">Peritoneum</tspan><tspan x="375.5" y="654.5">parietale</tspan></text>
<text x="120.0" y="801.0" font-family="'Liberation Sans', sans-serif" font-size="13.8" fill="#231f20" stroke="#231f20" stroke-width="0.22" text-anchor="end" font-weight="normal"><tspan x="120.0" y="801.0">Vertebra LI</tspan></text>
<text x="561.0" y="720.5" font-family="'Liberation Sans', sans-serif" font-size="13.8" fill="#231f20" stroke="#231f20" stroke-width="0.22" text-anchor="start" font-weight="normal"><tspan x="561.0" y="720.5">Fascia renalis,</tspan><tspan x="561.0" y="737.2">anterior layer</tspan></text>
<text x="561.0" y="782.9" font-family="'Liberation Sans', sans-serif" font-size="13.8" fill="#231f20" stroke="#231f20" stroke-width="0.22" text-anchor="start" font-weight="normal"><tspan x="561.0" y="782.9">Hepar</tspan></text>
<text x="561.0" y="827.8" font-family="'Liberation Sans', sans-serif" font-size="13.8" fill="#231f20" stroke="#231f20" stroke-width="0.22" text-anchor="start" font-weight="normal"><tspan x="561.0" y="827.8">Ren dexter</tspan></text>
<text x="561.0" y="873.0" font-family="'Liberation Sans', sans-serif" font-size="13.8" fill="#231f20" stroke="#231f20" stroke-width="0.22" text-anchor="start" font-weight="normal"><tspan x="561.0" y="873.0">Capsula</tspan><tspan x="561.0" y="889.7">adiposa</tspan></text>
<text x="541.6" y="936.8" font-family="'Liberation Sans', sans-serif" font-size="13.8" fill="#231f20" stroke="#231f20" stroke-width="0.22" text-anchor="start" font-weight="normal"><tspan x="541.6" y="936.8">Fascia renalis,</tspan><tspan x="541.6" y="952.9">posterior layer</tspan></text>
<text x="111.7" y="972.5" font-family="'Liberation Sans', sans-serif" font-size="13.8" fill="#231f20" stroke="#231f20" stroke-width="0.22" text-anchor="start" font-weight="bold"><tspan x="111.7" y="972.5">b</tspan></text>
</svg></body></html>
